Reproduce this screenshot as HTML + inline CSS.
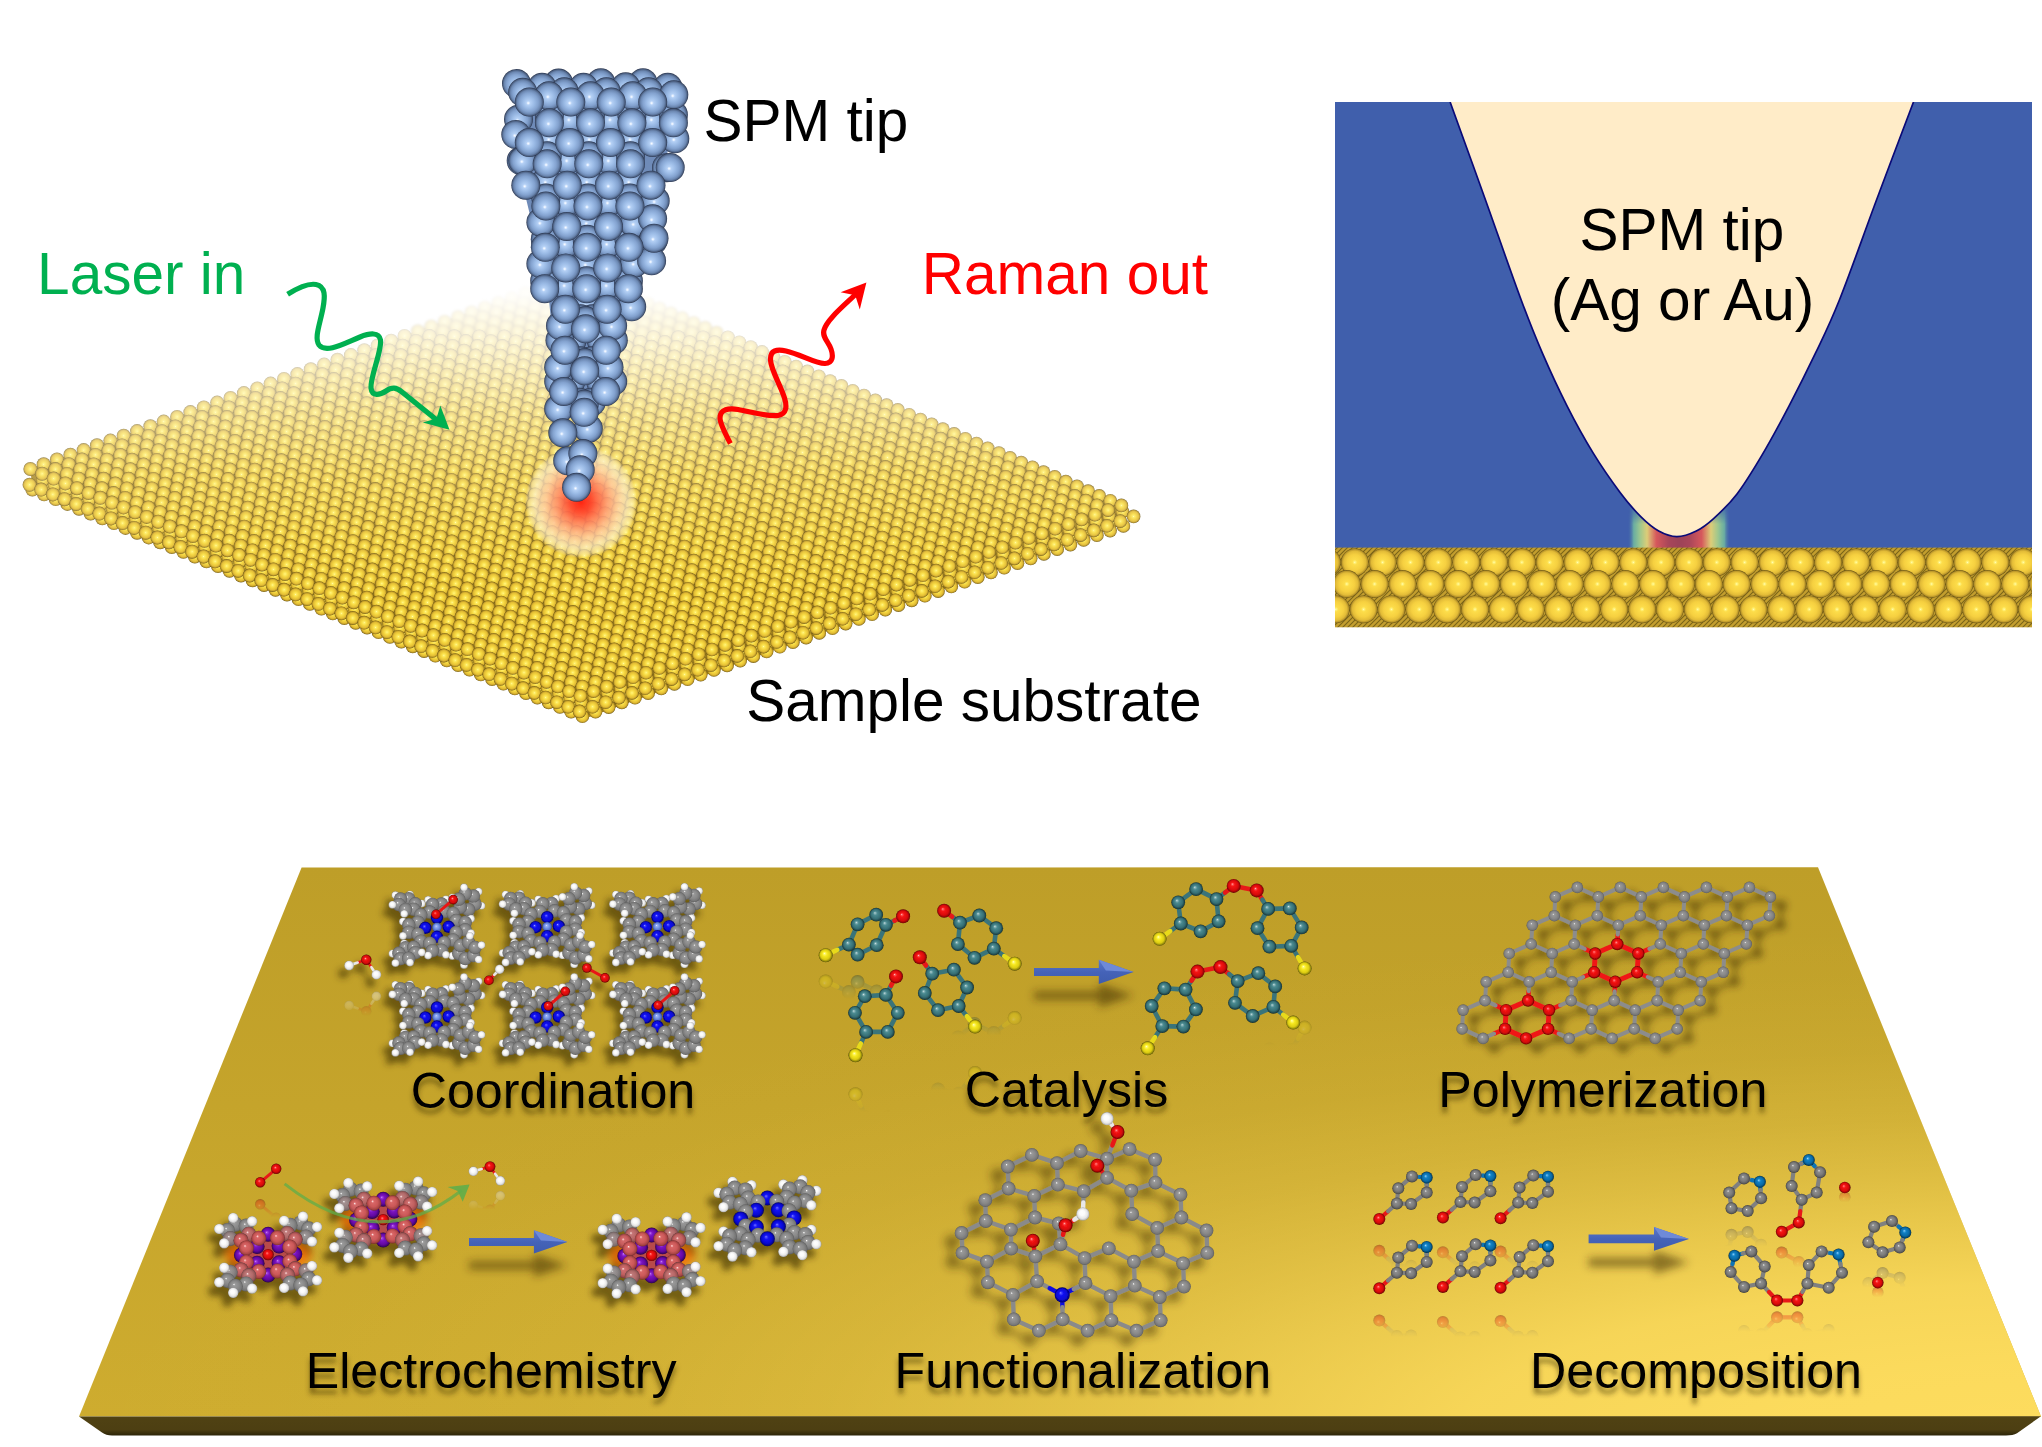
<!DOCTYPE html>
<html><head><meta charset="utf-8"><title>TERS figure</title>
<style>html,body{margin:0;padding:0;background:#fff;overflow:hidden}svg{display:block}</style></head>
<body><svg width="2042" height="1447" viewBox="0 0 2042 1447">
<defs><radialGradient id="gAu" cx="0.5" cy="0.5" r="0.5" fx="0.5" fy="0.5"><stop offset="0" stop-color="#fffdb4"/><stop offset="0.1" stop-color="#ffee68"/><stop offset="0.4" stop-color="#f6d840"/><stop offset="0.72" stop-color="#e3bd35"/><stop offset="0.88" stop-color="#b99526"/><stop offset="1" stop-color="#6a5512"/></radialGradient><radialGradient id="gTip" cx="0.5" cy="0.5" r="0.5" fx="0.46" fy="0.54"><stop offset="0" stop-color="#ffffff"/><stop offset="0.05" stop-color="#e6f0ff"/><stop offset="0.14" stop-color="#b4d0f5"/><stop offset="0.4" stop-color="#9abae5"/><stop offset="0.65" stop-color="#83a2cf"/><stop offset="0.82" stop-color="#6c88b2"/><stop offset="0.93" stop-color="#4c6082"/><stop offset="1" stop-color="#27324a"/></radialGradient><linearGradient id="fog" x1="0" y1="0" x2="0" y2="1"><stop offset="0" stop-color="#fff" stop-opacity="1"/><stop offset="0.1" stop-color="#fff" stop-opacity="0.97"/><stop offset="0.25" stop-color="#fff" stop-opacity="0.75"/><stop offset="0.45" stop-color="#fff" stop-opacity="0.43"/><stop offset="0.65" stop-color="#fff" stop-opacity="0.18"/><stop offset="0.85" stop-color="#fff" stop-opacity="0.05"/><stop offset="1" stop-color="#fff" stop-opacity="0"/></linearGradient><filter id="dof2" x="-5%" y="-20%" width="110%" height="140%"><feGaussianBlur stdDeviation="1.1"/></filter><filter id="dof1" x="-5%" y="-20%" width="110%" height="140%"><feGaussianBlur stdDeviation="0.55"/></filter><radialGradient id="hot" cx="0.5" cy="0.5" r="0.5"><stop offset="0" stop-color="#ff2410" stop-opacity="1"/><stop offset="0.2" stop-color="#ff4a30" stop-opacity="0.95"/><stop offset="0.42" stop-color="#ff8a68" stop-opacity="0.87"/><stop offset="0.63" stop-color="#ffc6a0" stop-opacity="0.8"/><stop offset="0.82" stop-color="#fbeccc" stop-opacity="0.7"/><stop offset="0.93" stop-color="#fdf3d8" stop-opacity="0.42"/><stop offset="1" stop-color="#fff" stop-opacity="0"/></radialGradient><radialGradient id="gAuB" cx="0.5" cy="0.5" r="0.5" fx="0.5" fy="0.5"><stop offset="0" stop-color="#ffffd0"/><stop offset="0.05" stop-color="#fff482"/><stop offset="0.18" stop-color="#fddd4a"/><stop offset="0.55" stop-color="#f6d040"/><stop offset="0.8" stop-color="#e2bb37"/><stop offset="0.92" stop-color="#b9952a"/><stop offset="1" stop-color="#6a5514"/></radialGradient><linearGradient id="hs" x1="0" y1="0" x2="1" y2="0"><stop offset="0" stop-color="#405fac" stop-opacity="0"/><stop offset="0.06" stop-color="#6fb6a0" stop-opacity="0.9"/><stop offset="0.12" stop-color="#9cc78e" stop-opacity="1"/><stop offset="0.19" stop-color="#dccd78" stop-opacity="1"/><stop offset="0.28" stop-color="#d6585c" stop-opacity="1"/><stop offset="0.4" stop-color="#a8465a" stop-opacity="1"/><stop offset="0.5" stop-color="#9c4358" stop-opacity="1"/><stop offset="0.6" stop-color="#a8465a" stop-opacity="1"/><stop offset="0.72" stop-color="#d6585c" stop-opacity="1"/><stop offset="0.81" stop-color="#dccd78" stop-opacity="1"/><stop offset="0.88" stop-color="#9cc78e" stop-opacity="1"/><stop offset="0.94" stop-color="#6fb6a0" stop-opacity="0.9"/><stop offset="1" stop-color="#405fac" stop-opacity="0"/></linearGradient><linearGradient id="hsm" x1="0" y1="0" x2="0" y2="1"><stop offset="0" stop-color="#fff" stop-opacity="0"/><stop offset="0.45" stop-color="#fff" stop-opacity="1"/><stop offset="1" stop-color="#fff"/></linearGradient><mask id="hsmask"><rect x="1620" y="503" width="120" height="47" fill="url(#hsm)"/></mask><clipPath id="trclip"><rect x="1335" y="102" width="697" height="525.5"/></clipPath><pattern id="auhatch" width="5" height="5" patternUnits="userSpaceOnUse"><rect width="5" height="5" fill="#c39e2e"/><path d="M0 5 L5 0 M-1 1 L1 -1 M4 6 L6 4" stroke="#7a6418" stroke-width="1.1"/></pattern><radialGradient id="gC" cx="0.5" cy="0.5" r="0.5" fx="0.4" fy="0.36"><stop offset="0" stop-color="#ffffff"/><stop offset="0.06" stop-color="#dcdcdc"/><stop offset="0.16" stop-color="#9a9a9a"/><stop offset="0.6" stop-color="#888888"/><stop offset="0.86" stop-color="#767676"/><stop offset="1" stop-color="#5c5c5c"/></radialGradient><radialGradient id="gD" cx="0.5" cy="0.5" r="0.5" fx="0.4" fy="0.36"><stop offset="0" stop-color="#ffffff"/><stop offset="0.07" stop-color="#c8c8c8"/><stop offset="0.2" stop-color="#8e8e8e"/><stop offset="0.6" stop-color="#7a7a7a"/><stop offset="0.86" stop-color="#5e5e5e"/><stop offset="1" stop-color="#3e3e3e"/></radialGradient><radialGradient id="gH" cx="0.5" cy="0.5" r="0.5" fx="0.4" fy="0.36"><stop offset="0" stop-color="#ffffff"/><stop offset="0.4" stop-color="#fbfbfb"/><stop offset="0.75" stop-color="#e6e6e6"/><stop offset="0.93" stop-color="#bcbcbc"/><stop offset="1" stop-color="#9a9a9a"/></radialGradient><radialGradient id="gN" cx="0.5" cy="0.5" r="0.5" fx="0.4" fy="0.36"><stop offset="0" stop-color="#b0b0ff"/><stop offset="0.1" stop-color="#4848ff"/><stop offset="0.3" stop-color="#1212f2"/><stop offset="0.7" stop-color="#0808d2"/><stop offset="0.92" stop-color="#04048a"/><stop offset="1" stop-color="#020250"/></radialGradient><radialGradient id="gM" cx="0.5" cy="0.5" r="0.5" fx="0.4" fy="0.36"><stop offset="0" stop-color="#e8eeff"/><stop offset="0.15" stop-color="#9db4f5"/><stop offset="0.5" stop-color="#7090e6"/><stop offset="0.85" stop-color="#4c68c0"/><stop offset="1" stop-color="#2c3f80"/></radialGradient><radialGradient id="gO" cx="0.5" cy="0.5" r="0.5" fx="0.4" fy="0.36"><stop offset="0" stop-color="#ffd0d0"/><stop offset="0.1" stop-color="#ff5a5a"/><stop offset="0.3" stop-color="#f41414"/><stop offset="0.7" stop-color="#d80a0a"/><stop offset="0.92" stop-color="#900505"/><stop offset="1" stop-color="#500202"/></radialGradient><radialGradient id="gTe" cx="0.5" cy="0.5" r="0.5" fx="0.4" fy="0.36"><stop offset="0" stop-color="#e0f0f0"/><stop offset="0.1" stop-color="#8fb8bc"/><stop offset="0.3" stop-color="#4a8a90"/><stop offset="0.7" stop-color="#356e74"/><stop offset="0.92" stop-color="#1e4448"/><stop offset="1" stop-color="#10282a"/></radialGradient><radialGradient id="gS" cx="0.5" cy="0.5" r="0.5" fx="0.4" fy="0.36"><stop offset="0" stop-color="#ffffe0"/><stop offset="0.12" stop-color="#fff870"/><stop offset="0.35" stop-color="#f6e81e"/><stop offset="0.7" stop-color="#dccc12"/><stop offset="0.92" stop-color="#8c820a"/><stop offset="1" stop-color="#504a04"/></radialGradient><radialGradient id="gNb" cx="0.5" cy="0.5" r="0.5" fx="0.4" fy="0.36"><stop offset="0" stop-color="#d0ecff"/><stop offset="0.1" stop-color="#58b0e8"/><stop offset="0.3" stop-color="#1080c4"/><stop offset="0.7" stop-color="#0a6aa6"/><stop offset="0.92" stop-color="#064468"/><stop offset="1" stop-color="#03263c"/></radialGradient><radialGradient id="gP" cx="0.5" cy="0.5" r="0.5" fx="0.4" fy="0.36"><stop offset="0" stop-color="#e0b0ff"/><stop offset="0.1" stop-color="#a040e0"/><stop offset="0.3" stop-color="#7a14c0"/><stop offset="0.7" stop-color="#6208a0"/><stop offset="0.92" stop-color="#3c0468"/><stop offset="1" stop-color="#22023c"/></radialGradient><radialGradient id="gHK" cx="0.5" cy="0.5" r="0.5" fx="0.4" fy="0.36"><stop offset="0" stop-color="#ffffff"/><stop offset="0.4" stop-color="#fdeaea"/><stop offset="0.75" stop-color="#f2c4c4"/><stop offset="0.93" stop-color="#d09090"/><stop offset="1" stop-color="#a86a6a"/></radialGradient><radialGradient id="gRC" cx="0.5" cy="0.5" r="0.5" fx="0.4" fy="0.36"><stop offset="0" stop-color="#ffffff"/><stop offset="0.07" stop-color="#f4b0b0"/><stop offset="0.2" stop-color="#d86666"/><stop offset="0.6" stop-color="#cb5858"/><stop offset="0.86" stop-color="#a84444"/><stop offset="1" stop-color="#782e2e"/></radialGradient><linearGradient id="slabV" x1="0" y1="0" x2="0" y2="1"><stop offset="0" stop-color="#be9e28"/><stop offset="1" stop-color="#ceac2f"/></linearGradient><radialGradient id="slabR" gradientUnits="userSpaceOnUse" cx="0" cy="0" r="1" gradientTransform="translate(2060 1440) scale(2000 520)"><stop offset="0" stop-color="#ffde60" stop-opacity="0.97"/><stop offset="0.15" stop-color="#ffde60" stop-opacity="0.93"/><stop offset="0.3" stop-color="#ffde60" stop-opacity="0.83"/><stop offset="0.42" stop-color="#ffde60" stop-opacity="0.6"/><stop offset="0.52" stop-color="#ffde60" stop-opacity="0.4"/><stop offset="0.62" stop-color="#ffde60" stop-opacity="0.23"/><stop offset="0.75" stop-color="#ffde60" stop-opacity="0.09"/><stop offset="0.9" stop-color="#ffde60" stop-opacity="0.02"/><stop offset="1" stop-color="#ffde60" stop-opacity="0"/></radialGradient><linearGradient id="slabF" x1="0" y1="0" x2="0" y2="1"><stop offset="0" stop-color="#504213"/><stop offset="0.7" stop-color="#4d3f12"/><stop offset="1" stop-color="#2c2408"/></linearGradient><filter id="shL" x="-30%" y="-30%" width="160%" height="170%"><feGaussianBlur in="SourceAlpha" stdDeviation="3.2" result="b"/><feOffset in="b" dx="-6" dy="8" result="o"/><feFlood flood-color="#3a2c00" flood-opacity="0.62"/><feComposite in2="o" operator="in" result="s"/><feMerge><feMergeNode in="s"/><feMergeNode in="SourceGraphic"/></feMerge></filter><filter id="shR" x="-30%" y="-30%" width="160%" height="170%"><feGaussianBlur in="SourceAlpha" stdDeviation="3.5" result="b"/><feOffset in="b" dx="11" dy="9" result="o"/><feFlood flood-color="#3a2c00" flood-opacity="0.5"/><feComposite in2="o" operator="in" result="s"/><feMerge><feMergeNode in="s"/><feMergeNode in="SourceGraphic"/></feMerge></filter><filter id="shG" x="-30%" y="-30%" width="160%" height="170%"><feGaussianBlur in="SourceAlpha" stdDeviation="4" result="b"/><feOffset in="b" dx="-10" dy="9" result="o"/><feFlood flood-color="#3a2c00" flood-opacity="0.5"/><feComposite in2="o" operator="in" result="s"/><feMerge><feMergeNode in="s"/><feMergeNode in="SourceGraphic"/></feMerge></filter><filter id="shT" x="-30%" y="-30%" width="160%" height="170%"><feGaussianBlur in="SourceAlpha" stdDeviation="2.8" result="b"/><feOffset in="b" dx="0" dy="6" result="o"/><feFlood flood-color="#3a2c00" flood-opacity="0.55"/><feComposite in2="o" operator="in" result="s"/><feMerge><feMergeNode in="s"/><feMergeNode in="SourceGraphic"/></feMerge></filter><filter id="blur4" x="-20%" y="-100%" width="140%" height="300%"><feGaussianBlur stdDeviation="4.5"/></filter><filter id="blur6" x="-30%" y="-30%" width="160%" height="160%"><feGaussianBlur stdDeviation="5"/></filter><linearGradient id="arrG" x1="0" y1="0" x2="0" y2="1"><stop offset="0" stop-color="#5b78cc"/><stop offset="0.5" stop-color="#4563b8"/><stop offset="1" stop-color="#3f5cae"/></linearGradient></defs>
<polygon points="29.4,469 580.4,698.8 1122.4,505.4 579,273" fill="#a8861f"/><polygon points="30.4,469 32.4,490 581.4,719.8 1123.4,524.4 1121.4,505.4 580.4,695.8" fill="#a8861f"/><g fill="url(#gAu)"><circle cx="45.7" cy="484.8" r="7"/><circle cx="32.4" cy="489.5" r="7"/><circle cx="57.4" cy="489.6" r="7"/><circle cx="44.1" cy="494.3" r="7"/><circle cx="69" cy="494.4" r="7"/><circle cx="55.7" cy="499.1" r="7"/><circle cx="80.7" cy="499.2" r="7"/><circle cx="67.4" cy="503.9" r="7"/><circle cx="92.3" cy="504" r="7"/><circle cx="79" cy="508.7" r="7"/><circle cx="103.9" cy="508.8" r="7"/><circle cx="90.6" cy="513.5" r="7"/><circle cx="115.6" cy="513.6" r="7"/><circle cx="102.3" cy="518.3" r="7"/><circle cx="127.2" cy="518.4" r="7"/><circle cx="1112.3" cy="521.2" r="6.8"/><circle cx="113.9" cy="523.1" r="7"/><circle cx="138.8" cy="523.2" r="7"/><circle cx="1099" cy="525.8" r="6.8"/><circle cx="1123.4" cy="525.9" r="6.8"/><circle cx="125.5" cy="527.9" r="7"/><circle cx="150.4" cy="528" r="7"/><circle cx="1085.8" cy="530.5" r="6.8"/><circle cx="1110.1" cy="530.6" r="6.8"/><circle cx="137.1" cy="532.7" r="7"/><circle cx="161.9" cy="532.7" r="7"/><circle cx="1072.5" cy="535.2" r="6.8"/><circle cx="1096.9" cy="535.2" r="6.8"/><circle cx="148.7" cy="537.4" r="7"/><circle cx="173.5" cy="537.5" r="7"/><circle cx="1059.3" cy="539.8" r="6.8"/><circle cx="1083.6" cy="539.9" r="6.8"/><circle cx="160.2" cy="542.2" r="7"/><circle cx="185.1" cy="542.3" r="7"/><circle cx="1046" cy="544.5" r="6.8"/><circle cx="1070.4" cy="544.6" r="6.8"/><circle cx="171.8" cy="547" r="7"/><circle cx="196.6" cy="547.1" r="7"/><circle cx="1032.8" cy="549.1" r="6.8"/><circle cx="1057.2" cy="549.2" r="6.8"/><circle cx="183.4" cy="551.8" r="7"/><circle cx="208.2" cy="551.8" r="7"/><circle cx="1019.6" cy="553.8" r="6.8"/><circle cx="1043.9" cy="553.9" r="6.8"/><circle cx="194.9" cy="556.5" r="7"/><circle cx="219.7" cy="556.6" r="7"/><circle cx="1006.3" cy="558.5" r="6.8"/><circle cx="1030.7" cy="558.5" r="6.8"/><circle cx="206.5" cy="561.3" r="7"/><circle cx="231.3" cy="561.3" r="7"/><circle cx="993.1" cy="563.1" r="6.8"/><circle cx="1017.5" cy="563.2" r="6.8"/><circle cx="218" cy="566" r="7"/><circle cx="242.8" cy="566.1" r="6.9"/><circle cx="979.9" cy="567.8" r="6.8"/><circle cx="1004.2" cy="567.8" r="6.8"/><circle cx="229.5" cy="570.8" r="6.9"/><circle cx="254.3" cy="570.8" r="6.9"/><circle cx="966.6" cy="572.4" r="6.8"/><circle cx="991" cy="572.5" r="6.8"/><circle cx="241" cy="575.5" r="6.9"/><circle cx="265.8" cy="575.6" r="6.9"/><circle cx="953.4" cy="577.1" r="6.8"/><circle cx="977.8" cy="577.2" r="6.8"/><circle cx="252.5" cy="580.3" r="6.9"/><circle cx="277.3" cy="580.3" r="6.9"/><circle cx="940.2" cy="581.8" r="6.8"/><circle cx="964.6" cy="581.8" r="6.8"/><circle cx="264" cy="585" r="6.9"/><circle cx="288.8" cy="585.1" r="6.9"/><circle cx="927" cy="586.4" r="6.8"/><circle cx="951.3" cy="586.5" r="6.8"/><circle cx="275.5" cy="589.8" r="6.9"/><circle cx="300.2" cy="589.8" r="6.9"/><circle cx="913.8" cy="591.1" r="6.8"/><circle cx="938.1" cy="591.1" r="6.8"/><circle cx="287" cy="594.5" r="6.9"/><circle cx="311.7" cy="594.5" r="6.9"/><circle cx="900.5" cy="595.7" r="6.8"/><circle cx="924.9" cy="595.8" r="6.8"/><circle cx="298.5" cy="599.2" r="6.9"/><circle cx="323.2" cy="599.3" r="6.9"/><circle cx="887.3" cy="600.4" r="6.8"/><circle cx="911.7" cy="600.4" r="6.8"/><circle cx="309.9" cy="603.9" r="6.9"/><circle cx="334.6" cy="604" r="6.9"/><circle cx="874.1" cy="605" r="6.8"/><circle cx="898.5" cy="605.1" r="6.8"/><circle cx="321.4" cy="608.7" r="6.9"/><circle cx="346.1" cy="608.7" r="6.9"/><circle cx="860.9" cy="609.7" r="6.8"/><circle cx="885.3" cy="609.7" r="6.8"/><circle cx="332.8" cy="613.4" r="6.9"/><circle cx="357.5" cy="613.4" r="6.9"/><circle cx="847.7" cy="614.3" r="6.8"/><circle cx="872.1" cy="614.3" r="6.8"/><circle cx="344.3" cy="618.1" r="6.9"/><circle cx="368.9" cy="618.1" r="6.9"/><circle cx="834.5" cy="618.9" r="6.8"/><circle cx="858.9" cy="619" r="6.8"/><circle cx="355.7" cy="622.8" r="6.9"/><circle cx="380.3" cy="622.9" r="6.9"/><circle cx="821.3" cy="623.6" r="6.8"/><circle cx="845.7" cy="623.6" r="6.8"/><circle cx="367.1" cy="627.5" r="6.9"/><circle cx="391.7" cy="627.6" r="6.9"/><circle cx="808.1" cy="628.2" r="6.8"/><circle cx="832.5" cy="628.3" r="6.8"/><circle cx="378.5" cy="632.2" r="6.9"/><circle cx="403.1" cy="632.3" r="6.9"/><circle cx="794.9" cy="632.9" r="6.8"/><circle cx="819.3" cy="632.9" r="6.8"/><circle cx="389.9" cy="636.9" r="6.9"/><circle cx="414.5" cy="637" r="6.9"/><circle cx="781.8" cy="637.5" r="6.8"/><circle cx="806.1" cy="637.6" r="6.8"/><circle cx="401.3" cy="641.6" r="6.9"/><circle cx="425.9" cy="641.7" r="6.9"/><circle cx="768.6" cy="642.2" r="6.8"/><circle cx="792.9" cy="642.2" r="6.8"/><circle cx="412.7" cy="646.3" r="6.9"/><circle cx="437.3" cy="646.4" r="6.9"/><circle cx="755.4" cy="646.8" r="6.8"/><circle cx="779.8" cy="646.8" r="6.8"/><circle cx="424.1" cy="651" r="6.9"/><circle cx="448.6" cy="651" r="6.9"/><circle cx="742.2" cy="651.4" r="6.8"/><circle cx="766.6" cy="651.5" r="6.8"/><circle cx="435.4" cy="655.7" r="6.9"/><circle cx="460" cy="655.7" r="6.9"/><circle cx="729" cy="656.1" r="6.8"/><circle cx="753.4" cy="656.1" r="6.8"/><circle cx="446.8" cy="660.4" r="6.9"/><circle cx="471.3" cy="660.4" r="6.9"/><circle cx="715.9" cy="660.7" r="6.8"/><circle cx="740.2" cy="660.7" r="6.8"/><circle cx="458.1" cy="665.1" r="6.9"/><circle cx="482.7" cy="665.1" r="6.9"/><circle cx="702.7" cy="665.4" r="6.8"/><circle cx="727.1" cy="665.4" r="6.8"/><circle cx="469.5" cy="669.7" r="6.9"/><circle cx="494" cy="669.8" r="6.9"/><circle cx="689.5" cy="670" r="6.8"/><circle cx="713.9" cy="670" r="6.8"/><circle cx="480.8" cy="674.4" r="6.9"/><circle cx="505.3" cy="674.4" r="6.9"/><circle cx="676.4" cy="674.6" r="6.8"/><circle cx="700.7" cy="674.7" r="6.8"/><circle cx="492.1" cy="679.1" r="6.9"/><circle cx="516.6" cy="679.1" r="6.9"/><circle cx="663.2" cy="679.3" r="6.8"/><circle cx="687.6" cy="679.3" r="6.8"/><circle cx="503.4" cy="683.7" r="6.9"/><circle cx="527.9" cy="683.8" r="6.9"/><circle cx="650" cy="683.9" r="6.8"/><circle cx="674.4" cy="683.9" r="6.8"/><circle cx="514.8" cy="688.4" r="6.9"/><circle cx="539.2" cy="688.4" r="6.9"/><circle cx="636.9" cy="688.5" r="6.8"/><circle cx="661.3" cy="688.5" r="6.8"/><circle cx="526" cy="693.1" r="6.9"/><circle cx="550.5" cy="693.1" r="6.9"/><circle cx="623.7" cy="693.1" r="6.8"/><circle cx="648.1" cy="693.2" r="6.8"/><circle cx="537.3" cy="697.7" r="6.8"/><circle cx="561.8" cy="697.7" r="6.8"/><circle cx="610.6" cy="697.8" r="6.8"/><circle cx="635" cy="697.8" r="6.8"/><circle cx="548.6" cy="702.4" r="6.8"/><circle cx="573" cy="702.4" r="6.8"/><circle cx="597.4" cy="702.4" r="6.8"/><circle cx="621.8" cy="702.4" r="6.8"/><circle cx="559.9" cy="707" r="6.8"/><circle cx="584.3" cy="707" r="6.8"/><circle cx="608.7" cy="707.1" r="6.8"/><circle cx="571.1" cy="711.7" r="6.8"/><circle cx="595.5" cy="711.7" r="6.8"/><circle cx="582.4" cy="716.3" r="6.8"/><circle cx="42.9" cy="480" r="7"/><circle cx="29.6" cy="484.8" r="7"/><circle cx="54.6" cy="484.8" r="7"/><circle cx="41.2" cy="489.6" r="7"/><circle cx="66.2" cy="489.7" r="7"/><circle cx="52.9" cy="494.4" r="7"/><circle cx="77.8" cy="494.5" r="7"/><circle cx="64.5" cy="499.2" r="7"/><circle cx="89.5" cy="499.3" r="7"/><circle cx="76.2" cy="504" r="7"/><circle cx="101.1" cy="504.1" r="7"/><circle cx="87.8" cy="508.8" r="7"/><circle cx="112.7" cy="508.8" r="7"/><circle cx="1122.5" cy="511.7" r="6.8"/><circle cx="99.4" cy="513.6" r="7"/><circle cx="124.3" cy="513.6" r="7"/><circle cx="1109.2" cy="516.4" r="6.8"/><circle cx="1133.6" cy="516.4" r="6.8"/><circle cx="111" cy="518.4" r="7"/><circle cx="135.9" cy="518.4" r="7"/><circle cx="1096" cy="521" r="6.8"/><circle cx="1120.3" cy="521.1" r="6.8"/><circle cx="122.6" cy="523.1" r="7"/><circle cx="147.5" cy="523.2" r="7"/><circle cx="1082.7" cy="525.7" r="6.8"/><circle cx="1107.1" cy="525.8" r="6.8"/><circle cx="134.2" cy="527.9" r="7"/><circle cx="159.1" cy="528" r="7"/><circle cx="1069.5" cy="530.4" r="6.8"/><circle cx="1093.8" cy="530.4" r="6.8"/><circle cx="145.8" cy="532.7" r="7"/><circle cx="170.7" cy="532.7" r="7"/><circle cx="1056.2" cy="535" r="6.8"/><circle cx="1080.6" cy="535.1" r="6.8"/><circle cx="157.4" cy="537.5" r="7"/><circle cx="182.2" cy="537.5" r="7"/><circle cx="1043" cy="539.7" r="6.8"/><circle cx="1067.3" cy="539.7" r="6.8"/><circle cx="169" cy="542.2" r="7"/><circle cx="193.8" cy="542.3" r="7"/><circle cx="1029.7" cy="544.3" r="6.8"/><circle cx="1054.1" cy="544.4" r="6.8"/><circle cx="180.5" cy="547" r="7"/><circle cx="205.3" cy="547" r="7"/><circle cx="1016.5" cy="549" r="6.8"/><circle cx="1040.9" cy="549.1" r="6.8"/><circle cx="192.1" cy="551.7" r="7"/><circle cx="216.9" cy="551.8" r="7"/><circle cx="1003.3" cy="553.7" r="6.8"/><circle cx="1027.6" cy="553.7" r="6.8"/><circle cx="203.6" cy="556.5" r="7"/><circle cx="228.4" cy="556.6" r="7"/><circle cx="990" cy="558.3" r="6.8"/><circle cx="1014.4" cy="558.4" r="6.8"/><circle cx="215.1" cy="561.3" r="7"/><circle cx="239.9" cy="561.3" r="6.9"/><circle cx="976.8" cy="563" r="6.8"/><circle cx="1001.2" cy="563" r="6.8"/><circle cx="226.7" cy="566" r="6.9"/><circle cx="251.4" cy="566.1" r="6.9"/><circle cx="963.6" cy="567.6" r="6.8"/><circle cx="988" cy="567.7" r="6.8"/><circle cx="238.2" cy="570.8" r="6.9"/><circle cx="262.9" cy="570.8" r="6.9"/><circle cx="950.4" cy="572.3" r="6.8"/><circle cx="974.7" cy="572.3" r="6.8"/><circle cx="249.7" cy="575.5" r="6.9"/><circle cx="274.4" cy="575.5" r="6.9"/><circle cx="937.2" cy="576.9" r="6.8"/><circle cx="961.5" cy="577" r="6.8"/><circle cx="261.2" cy="580.2" r="6.9"/><circle cx="285.9" cy="580.3" r="6.9"/><circle cx="923.9" cy="581.6" r="6.8"/><circle cx="948.3" cy="581.6" r="6.8"/><circle cx="272.6" cy="585" r="6.9"/><circle cx="297.4" cy="585" r="6.9"/><circle cx="910.7" cy="586.2" r="6.8"/><circle cx="935.1" cy="586.3" r="6.8"/><circle cx="284.1" cy="589.7" r="6.9"/><circle cx="308.8" cy="589.7" r="6.9"/><circle cx="897.5" cy="590.9" r="6.8"/><circle cx="921.9" cy="590.9" r="6.8"/><circle cx="295.6" cy="594.4" r="6.9"/><circle cx="320.3" cy="594.5" r="6.9"/><circle cx="884.3" cy="595.5" r="6.8"/><circle cx="908.7" cy="595.6" r="6.8"/><circle cx="307.1" cy="599.1" r="6.9"/><circle cx="331.7" cy="599.2" r="6.9"/><circle cx="871.1" cy="600.2" r="6.8"/><circle cx="895.5" cy="600.2" r="6.8"/><circle cx="318.5" cy="603.9" r="6.9"/><circle cx="343.2" cy="603.9" r="6.9"/><circle cx="857.9" cy="604.8" r="6.8"/><circle cx="882.3" cy="604.9" r="6.8"/><circle cx="329.9" cy="608.6" r="6.9"/><circle cx="354.6" cy="608.6" r="6.9"/><circle cx="844.7" cy="609.5" r="6.8"/><circle cx="869.1" cy="609.5" r="6.8"/><circle cx="341.4" cy="613.3" r="6.9"/><circle cx="366" cy="613.3" r="6.9"/><circle cx="831.5" cy="614.1" r="6.8"/><circle cx="855.9" cy="614.2" r="6.8"/><circle cx="352.8" cy="618" r="6.9"/><circle cx="377.4" cy="618" r="6.9"/><circle cx="818.3" cy="618.8" r="6.8"/><circle cx="842.7" cy="618.8" r="6.8"/><circle cx="364.2" cy="622.7" r="6.9"/><circle cx="388.8" cy="622.7" r="6.9"/><circle cx="805.1" cy="623.4" r="6.8"/><circle cx="829.5" cy="623.4" r="6.8"/><circle cx="375.6" cy="627.4" r="6.9"/><circle cx="400.2" cy="627.4" r="6.9"/><circle cx="791.9" cy="628" r="6.8"/><circle cx="816.3" cy="628.1" r="6.8"/><circle cx="387" cy="632.1" r="6.9"/><circle cx="411.6" cy="632.1" r="6.9"/><circle cx="778.8" cy="632.7" r="6.8"/><circle cx="803.1" cy="632.7" r="6.8"/><circle cx="398.4" cy="636.8" r="6.9"/><circle cx="423" cy="636.8" r="6.9"/><circle cx="765.6" cy="637.3" r="6.8"/><circle cx="789.9" cy="637.4" r="6.8"/><circle cx="409.8" cy="641.5" r="6.9"/><circle cx="434.3" cy="641.5" r="6.9"/><circle cx="752.4" cy="642" r="6.8"/><circle cx="776.8" cy="642" r="6.8"/><circle cx="421.2" cy="646.2" r="6.9"/><circle cx="445.7" cy="646.2" r="6.9"/><circle cx="739.2" cy="646.6" r="6.8"/><circle cx="763.6" cy="646.6" r="6.8"/><circle cx="432.5" cy="650.9" r="6.9"/><circle cx="457.1" cy="650.9" r="6.9"/><circle cx="726.1" cy="651.2" r="6.8"/><circle cx="750.4" cy="651.3" r="6.8"/><circle cx="443.9" cy="655.5" r="6.9"/><circle cx="468.4" cy="655.6" r="6.9"/><circle cx="712.9" cy="655.9" r="6.8"/><circle cx="737.3" cy="655.9" r="6.8"/><circle cx="455.2" cy="660.2" r="6.9"/><circle cx="479.7" cy="660.3" r="6.9"/><circle cx="699.7" cy="660.5" r="6.8"/><circle cx="724.1" cy="660.5" r="6.8"/><circle cx="466.6" cy="664.9" r="6.9"/><circle cx="491.1" cy="664.9" r="6.9"/><circle cx="686.6" cy="665.1" r="6.8"/><circle cx="710.9" cy="665.2" r="6.8"/><circle cx="477.9" cy="669.6" r="6.9"/><circle cx="502.4" cy="669.6" r="6.9"/><circle cx="673.4" cy="669.8" r="6.8"/><circle cx="697.8" cy="669.8" r="6.8"/><circle cx="489.2" cy="674.2" r="6.9"/><circle cx="513.7" cy="674.3" r="6.9"/><circle cx="660.2" cy="674.4" r="6.8"/><circle cx="684.6" cy="674.4" r="6.8"/><circle cx="500.5" cy="678.9" r="6.9"/><circle cx="525" cy="678.9" r="6.9"/><circle cx="647.1" cy="679" r="6.8"/><circle cx="671.5" cy="679.1" r="6.8"/><circle cx="511.8" cy="683.6" r="6.9"/><circle cx="536.3" cy="683.6" r="6.9"/><circle cx="633.9" cy="683.7" r="6.8"/><circle cx="658.3" cy="683.7" r="6.8"/><circle cx="523.1" cy="688.2" r="6.9"/><circle cx="547.6" cy="688.2" r="6.8"/><circle cx="620.8" cy="688.3" r="6.8"/><circle cx="645.2" cy="688.3" r="6.8"/><circle cx="534.4" cy="692.9" r="6.8"/><circle cx="558.8" cy="692.9" r="6.8"/><circle cx="607.6" cy="692.9" r="6.8"/><circle cx="632" cy="692.9" r="6.8"/><circle cx="545.7" cy="697.5" r="6.8"/><circle cx="570.1" cy="697.5" r="6.8"/><circle cx="594.5" cy="697.5" r="6.8"/><circle cx="618.9" cy="697.6" r="6.8"/><circle cx="556.9" cy="702.2" r="6.8"/><circle cx="581.3" cy="702.2" r="6.8"/><circle cx="605.7" cy="702.2" r="6.8"/><circle cx="568.2" cy="706.8" r="6.8"/><circle cx="592.6" cy="706.8" r="6.8"/><circle cx="579.5" cy="711.4" r="6.8"/><g filter="url(#dof2)"><circle cx="579" cy="274" r="7"/><circle cx="565.6" cy="278.8" r="7"/><circle cx="590.5" cy="278.9" r="7"/><circle cx="552.1" cy="283.6" r="7"/><circle cx="577.1" cy="283.7" r="7"/><circle cx="602" cy="283.8" r="7"/><circle cx="538.7" cy="288.3" r="7"/><circle cx="563.6" cy="288.5" r="7"/><circle cx="588.6" cy="288.6" r="7"/><circle cx="613.5" cy="288.7" r="7"/><circle cx="525.3" cy="293.1" r="7"/><circle cx="550.2" cy="293.2" r="7"/><circle cx="575.1" cy="293.4" r="7"/><circle cx="600.1" cy="293.5" r="7"/><circle cx="625" cy="293.6" r="7"/><circle cx="511.8" cy="297.9" r="7"/><circle cx="536.8" cy="298" r="7"/><circle cx="561.7" cy="298.1" r="7"/><circle cx="586.6" cy="298.3" r="7"/><circle cx="611.5" cy="298.4" r="7"/><circle cx="636.4" cy="298.5" r="7"/><circle cx="498.4" cy="302.6" r="7"/><circle cx="523.4" cy="302.8" r="7"/><circle cx="548.3" cy="302.9" r="7"/><circle cx="573.2" cy="303" r="7"/><circle cx="598.1" cy="303.1" r="7"/><circle cx="623" cy="303.3" r="7"/><circle cx="647.9" cy="303.4" r="7"/><circle cx="485" cy="307.4" r="7"/><circle cx="509.9" cy="307.5" r="7"/><circle cx="534.9" cy="307.7" r="7"/><circle cx="559.8" cy="307.8" r="7"/><circle cx="584.7" cy="307.9" r="7"/><circle cx="609.6" cy="308" r="7"/><circle cx="634.5" cy="308.2" r="7"/><circle cx="659.4" cy="308.3" r="7"/><circle cx="471.6" cy="312.2" r="7"/><circle cx="496.5" cy="312.3" r="7"/><circle cx="521.5" cy="312.4" r="7"/><circle cx="546.4" cy="312.6" r="7"/><circle cx="571.3" cy="312.7" r="7"/><circle cx="596.2" cy="312.8" r="7"/><circle cx="621.1" cy="312.9" r="7"/><circle cx="645.9" cy="313" r="7"/><circle cx="670.8" cy="313.2" r="7"/><circle cx="458.1" cy="317" r="7"/><circle cx="483.1" cy="317.1" r="7"/><circle cx="508" cy="317.2" r="7"/><circle cx="533" cy="317.3" r="7"/><circle cx="557.9" cy="317.4" r="7"/><circle cx="582.8" cy="317.6" r="7"/><circle cx="607.7" cy="317.7" r="7"/><circle cx="632.5" cy="317.8" r="7"/><circle cx="657.4" cy="317.9" r="7"/><circle cx="682.2" cy="318" r="7"/><circle cx="444.7" cy="321.7" r="7"/><circle cx="469.7" cy="321.8" r="7"/><circle cx="494.6" cy="322" r="7"/><circle cx="519.6" cy="322.1" r="7"/><circle cx="544.5" cy="322.2" r="7"/><circle cx="569.4" cy="322.3" r="7"/><circle cx="594.3" cy="322.4" r="7"/><circle cx="619.1" cy="322.6" r="7"/><circle cx="644" cy="322.7" r="7"/><circle cx="668.8" cy="322.8" r="7"/><circle cx="693.7" cy="322.9" r="7"/><circle cx="431.3" cy="326.5" r="7"/><circle cx="456.3" cy="326.6" r="7"/><circle cx="481.2" cy="326.7" r="7"/><circle cx="506.2" cy="326.8" r="7"/><circle cx="531.1" cy="327" r="7"/><circle cx="556" cy="327.1" r="7"/><circle cx="580.9" cy="327.2" r="7"/><circle cx="605.7" cy="327.3" r="7"/><circle cx="630.6" cy="327.4" r="7"/><circle cx="655.4" cy="327.6" r="7"/><circle cx="680.3" cy="327.7" r="7"/><circle cx="705.1" cy="327.8" r="7"/><circle cx="417.9" cy="331.3" r="7"/><circle cx="442.9" cy="331.4" r="7"/><circle cx="467.8" cy="331.5" r="7"/><circle cx="492.7" cy="331.6" r="7"/><circle cx="517.7" cy="331.7" r="7"/><circle cx="542.6" cy="331.8" r="7"/><circle cx="567.5" cy="332" r="7"/><circle cx="592.3" cy="332.1" r="7"/><circle cx="617.2" cy="332.2" r="7"/><circle cx="642" cy="332.3" r="7"/><circle cx="666.9" cy="332.4" r="7"/><circle cx="691.7" cy="332.5" r="7"/><circle cx="716.5" cy="332.7" r="7"/></g><g filter="url(#dof1)"><circle cx="404.5" cy="336" r="7"/><circle cx="429.5" cy="336.1" r="7"/><circle cx="454.4" cy="336.3" r="7"/><circle cx="479.3" cy="336.4" r="7"/><circle cx="504.3" cy="336.5" r="7"/><circle cx="529.2" cy="336.6" r="7"/><circle cx="554.1" cy="336.7" r="7"/><circle cx="578.9" cy="336.8" r="7"/><circle cx="603.8" cy="336.9" r="7"/><circle cx="628.6" cy="337.1" r="7"/><circle cx="653.5" cy="337.2" r="7"/><circle cx="678.3" cy="337.3" r="7"/><circle cx="703.1" cy="337.4" r="7"/><circle cx="727.9" cy="337.5" r="7"/><circle cx="391.1" cy="340.8" r="7"/><circle cx="416.1" cy="340.9" r="7"/><circle cx="441" cy="341" r="7"/><circle cx="465.9" cy="341.1" r="7"/><circle cx="490.9" cy="341.2" r="7"/><circle cx="515.8" cy="341.4" r="7"/><circle cx="540.7" cy="341.5" r="7"/><circle cx="565.5" cy="341.6" r="7"/><circle cx="590.4" cy="341.7" r="7"/><circle cx="615.2" cy="341.8" r="7"/><circle cx="640.1" cy="341.9" r="7"/><circle cx="664.9" cy="342" r="7"/><circle cx="689.7" cy="342.2" r="7"/><circle cx="714.5" cy="342.3" r="7"/><circle cx="739.3" cy="342.4" r="7"/><circle cx="377.7" cy="345.5" r="7"/><circle cx="402.7" cy="345.7" r="7"/><circle cx="427.6" cy="345.8" r="7"/><circle cx="452.6" cy="345.9" r="7"/><circle cx="477.5" cy="346" r="7"/><circle cx="502.4" cy="346.1" r="7"/><circle cx="527.3" cy="346.2" r="7"/><circle cx="552.1" cy="346.3" r="7"/><circle cx="577" cy="346.5" r="7"/><circle cx="601.9" cy="346.6" r="7"/><circle cx="626.7" cy="346.7" r="7"/><circle cx="651.5" cy="346.8" r="7"/><circle cx="676.3" cy="346.9" r="7"/><circle cx="701.1" cy="347" r="7"/><circle cx="725.9" cy="347.1" r="7"/><circle cx="750.7" cy="347.2" r="7"/><circle cx="364.3" cy="350.3" r="7"/><circle cx="389.3" cy="350.4" r="7"/><circle cx="414.2" cy="350.5" r="7"/><circle cx="439.2" cy="350.6" r="7"/><circle cx="464.1" cy="350.8" r="7"/><circle cx="489" cy="350.9" r="7"/><circle cx="513.9" cy="351" r="7"/><circle cx="538.8" cy="351.1" r="7"/><circle cx="563.6" cy="351.2" r="7"/><circle cx="588.5" cy="351.3" r="7"/><circle cx="613.3" cy="351.4" r="7"/><circle cx="638.1" cy="351.5" r="7"/><circle cx="662.9" cy="351.6" r="7"/><circle cx="687.7" cy="351.8" r="7"/><circle cx="712.5" cy="351.9" r="7"/><circle cx="737.3" cy="352" r="7"/><circle cx="762" cy="352.1" r="7"/><circle cx="350.9" cy="355.1" r="7"/><circle cx="375.9" cy="355.2" r="7"/><circle cx="400.8" cy="355.3" r="7"/><circle cx="425.8" cy="355.4" r="7"/><circle cx="450.7" cy="355.5" r="7"/><circle cx="475.6" cy="355.6" r="7"/><circle cx="500.5" cy="355.7" r="7"/><circle cx="525.4" cy="355.8" r="7"/><circle cx="550.2" cy="356" r="7"/><circle cx="575.1" cy="356.1" r="7"/><circle cx="599.9" cy="356.2" r="7"/><circle cx="624.7" cy="356.3" r="7"/><circle cx="649.6" cy="356.4" r="7"/><circle cx="674.4" cy="356.5" r="7"/><circle cx="699.1" cy="356.6" r="7"/><circle cx="723.9" cy="356.7" r="7"/><circle cx="748.7" cy="356.8" r="7"/><circle cx="773.4" cy="356.9" r="7"/><circle cx="337.5" cy="359.8" r="7"/><circle cx="362.5" cy="359.9" r="7"/><circle cx="387.4" cy="360" r="7"/><circle cx="412.4" cy="360.2" r="7"/><circle cx="437.3" cy="360.3" r="7"/><circle cx="462.2" cy="360.4" r="7"/><circle cx="487.1" cy="360.5" r="7"/><circle cx="512" cy="360.6" r="7"/><circle cx="536.9" cy="360.7" r="7"/><circle cx="561.7" cy="360.8" r="7"/><circle cx="586.5" cy="360.9" r="7"/><circle cx="611.4" cy="361" r="7"/><circle cx="636.2" cy="361.1" r="7"/><circle cx="661" cy="361.2" r="7"/><circle cx="685.8" cy="361.4" r="7"/><circle cx="710.5" cy="361.5" r="7"/><circle cx="735.3" cy="361.6" r="7"/><circle cx="760" cy="361.7" r="7"/><circle cx="784.8" cy="361.8" r="6.9"/><circle cx="324.1" cy="364.6" r="7"/><circle cx="349.1" cy="364.7" r="7"/><circle cx="374.1" cy="364.8" r="7"/><circle cx="399" cy="364.9" r="7"/><circle cx="423.9" cy="365" r="7"/><circle cx="448.8" cy="365.1" r="7"/><circle cx="473.7" cy="365.2" r="7"/><circle cx="498.6" cy="365.3" r="7"/><circle cx="523.5" cy="365.4" r="7"/><circle cx="548.3" cy="365.6" r="7"/><circle cx="573.2" cy="365.7" r="7"/><circle cx="598" cy="365.8" r="7"/><circle cx="622.8" cy="365.9" r="7"/><circle cx="647.6" cy="366" r="7"/><circle cx="672.4" cy="366.1" r="7"/><circle cx="697.2" cy="366.2" r="7"/><circle cx="721.9" cy="366.3" r="7"/><circle cx="746.7" cy="366.4" r="7"/><circle cx="771.4" cy="366.5" r="6.9"/><circle cx="796.1" cy="366.6" r="6.9"/><circle cx="310.8" cy="369.3" r="7"/><circle cx="335.7" cy="369.5" r="7"/><circle cx="360.7" cy="369.6" r="7"/><circle cx="385.6" cy="369.7" r="7"/><circle cx="410.5" cy="369.8" r="7"/><circle cx="435.5" cy="369.9" r="7"/><circle cx="460.3" cy="370" r="7"/><circle cx="485.2" cy="370.1" r="7"/><circle cx="510.1" cy="370.2" r="7"/><circle cx="535" cy="370.3" r="7"/><circle cx="559.8" cy="370.4" r="7"/><circle cx="584.6" cy="370.5" r="7"/><circle cx="609.4" cy="370.6" r="7"/><circle cx="634.2" cy="370.7" r="7"/><circle cx="659" cy="370.8" r="7"/><circle cx="683.8" cy="370.9" r="7"/><circle cx="708.5" cy="371" r="7"/><circle cx="733.3" cy="371.1" r="7"/><circle cx="758" cy="371.2" r="6.9"/><circle cx="782.7" cy="371.4" r="6.9"/><circle cx="807.4" cy="371.5" r="6.9"/><circle cx="297.4" cy="374.1" r="7"/><circle cx="322.3" cy="374.2" r="7"/><circle cx="347.3" cy="374.3" r="7"/><circle cx="372.2" cy="374.4" r="7"/><circle cx="397.2" cy="374.5" r="7"/><circle cx="422.1" cy="374.6" r="7"/><circle cx="447" cy="374.7" r="7"/><circle cx="471.9" cy="374.8" r="7"/><circle cx="496.7" cy="374.9" r="7"/><circle cx="521.6" cy="375" r="7"/><circle cx="546.4" cy="375.1" r="7"/><circle cx="571.2" cy="375.3" r="7"/><circle cx="596.1" cy="375.4" r="7"/><circle cx="620.9" cy="375.5" r="7"/><circle cx="645.7" cy="375.6" r="7"/><circle cx="670.4" cy="375.7" r="7"/><circle cx="695.2" cy="375.8" r="7"/><circle cx="719.9" cy="375.9" r="7"/><circle cx="744.7" cy="376" r="6.9"/><circle cx="769.4" cy="376.1" r="6.9"/><circle cx="794.1" cy="376.2" r="6.9"/><circle cx="818.8" cy="376.3" r="6.9"/><circle cx="284" cy="378.9" r="7"/><circle cx="309" cy="379" r="7"/><circle cx="333.9" cy="379.1" r="7"/><circle cx="358.9" cy="379.2" r="7"/><circle cx="383.8" cy="379.3" r="7"/><circle cx="408.7" cy="379.4" r="7"/><circle cx="433.6" cy="379.5" r="7"/><circle cx="458.5" cy="379.6" r="7"/><circle cx="483.4" cy="379.7" r="7"/><circle cx="508.2" cy="379.8" r="7"/><circle cx="533.1" cy="379.9" r="7"/><circle cx="557.9" cy="380" r="7"/><circle cx="582.7" cy="380.1" r="7"/><circle cx="607.5" cy="380.2" r="7"/><circle cx="632.3" cy="380.3" r="7"/><circle cx="657.1" cy="380.4" r="7"/><circle cx="681.8" cy="380.5" r="7"/><circle cx="706.6" cy="380.6" r="7"/><circle cx="731.3" cy="380.7" r="6.9"/><circle cx="756" cy="380.8" r="6.9"/><circle cx="780.7" cy="380.9" r="6.9"/><circle cx="805.4" cy="381" r="6.9"/><circle cx="830.1" cy="381.1" r="6.9"/><circle cx="270.6" cy="383.6" r="7"/><circle cx="295.6" cy="383.7" r="7"/><circle cx="320.6" cy="383.8" r="7"/><circle cx="345.5" cy="383.9" r="7"/><circle cx="370.4" cy="384" r="7"/><circle cx="395.3" cy="384.1" r="7"/><circle cx="420.2" cy="384.2" r="7"/><circle cx="445.1" cy="384.3" r="7"/><circle cx="470" cy="384.4" r="7"/><circle cx="494.8" cy="384.5" r="7"/><circle cx="519.7" cy="384.6" r="7"/><circle cx="544.5" cy="384.7" r="7"/><circle cx="569.3" cy="384.8" r="7"/><circle cx="594.1" cy="384.9" r="7"/><circle cx="618.9" cy="385" r="7"/><circle cx="643.7" cy="385.1" r="7"/><circle cx="668.5" cy="385.2" r="7"/><circle cx="693.2" cy="385.3" r="7"/><circle cx="717.9" cy="385.4" r="6.9"/><circle cx="742.7" cy="385.5" r="6.9"/><circle cx="767.4" cy="385.6" r="6.9"/><circle cx="792.1" cy="385.7" r="6.9"/><circle cx="816.7" cy="385.8" r="6.9"/><circle cx="841.4" cy="385.9" r="6.9"/><circle cx="257.3" cy="388.4" r="7"/><circle cx="282.2" cy="388.5" r="7"/><circle cx="307.2" cy="388.6" r="7"/><circle cx="332.1" cy="388.7" r="7"/><circle cx="357.1" cy="388.8" r="7"/><circle cx="382" cy="388.9" r="7"/><circle cx="406.9" cy="389" r="7"/><circle cx="431.8" cy="389.1" r="7"/><circle cx="456.6" cy="389.2" r="7"/><circle cx="481.5" cy="389.3" r="7"/><circle cx="506.3" cy="389.4" r="7"/><circle cx="531.2" cy="389.5" r="7"/><circle cx="556" cy="389.6" r="7"/><circle cx="580.8" cy="389.7" r="7"/><circle cx="605.6" cy="389.8" r="7"/><circle cx="630.3" cy="389.9" r="7"/><circle cx="655.1" cy="390" r="7"/><circle cx="679.9" cy="390.1" r="7"/><circle cx="704.6" cy="390.2" r="6.9"/><circle cx="729.3" cy="390.3" r="6.9"/><circle cx="754" cy="390.4" r="6.9"/><circle cx="778.7" cy="390.5" r="6.9"/><circle cx="803.4" cy="390.6" r="6.9"/><circle cx="828.1" cy="390.7" r="6.9"/><circle cx="852.7" cy="390.8" r="6.9"/><circle cx="243.9" cy="393.1" r="7"/><circle cx="268.9" cy="393.2" r="7"/><circle cx="293.8" cy="393.3" r="7"/><circle cx="318.8" cy="393.4" r="7"/><circle cx="343.7" cy="393.5" r="7"/><circle cx="368.6" cy="393.6" r="7"/><circle cx="393.5" cy="393.7" r="7"/><circle cx="418.4" cy="393.8" r="7"/><circle cx="443.3" cy="393.9" r="7"/><circle cx="468.1" cy="394" r="7"/><circle cx="493" cy="394.1" r="7"/><circle cx="517.8" cy="394.2" r="7"/><circle cx="542.6" cy="394.3" r="7"/><circle cx="567.4" cy="394.4" r="7"/><circle cx="592.2" cy="394.5" r="7"/><circle cx="617" cy="394.6" r="7"/><circle cx="641.8" cy="394.7" r="7"/><circle cx="666.5" cy="394.8" r="7"/><circle cx="691.2" cy="394.9" r="6.9"/><circle cx="716" cy="395" r="6.9"/></g><g><circle cx="740.7" cy="395.1" r="6.9"/><circle cx="765.4" cy="395.2" r="6.9"/><circle cx="790" cy="395.3" r="6.9"/><circle cx="814.7" cy="395.4" r="6.9"/><circle cx="839.4" cy="395.5" r="6.9"/><circle cx="864" cy="395.6" r="6.9"/><circle cx="230.5" cy="397.9" r="7"/><circle cx="255.5" cy="398" r="7"/><circle cx="280.5" cy="398.1" r="7"/><circle cx="305.4" cy="398.2" r="7"/><circle cx="330.3" cy="398.3" r="7"/><circle cx="355.2" cy="398.4" r="7"/><circle cx="380.1" cy="398.5" r="7"/><circle cx="405" cy="398.6" r="7"/><circle cx="429.9" cy="398.7" r="7"/><circle cx="454.8" cy="398.7" r="7"/><circle cx="479.6" cy="398.8" r="7"/><circle cx="504.4" cy="398.9" r="7"/><circle cx="529.3" cy="399" r="7"/><circle cx="554.1" cy="399.1" r="7"/><circle cx="578.9" cy="399.2" r="7"/><circle cx="603.6" cy="399.3" r="7"/><circle cx="628.4" cy="399.4" r="7"/><circle cx="653.2" cy="399.5" r="7"/><circle cx="677.9" cy="399.6" r="6.9"/><circle cx="702.6" cy="399.7" r="6.9"/><circle cx="727.3" cy="399.8" r="6.9"/><circle cx="752" cy="399.9" r="6.9"/><circle cx="776.7" cy="400" r="6.9"/><circle cx="801.4" cy="400.1" r="6.9"/><circle cx="826" cy="400.2" r="6.9"/><circle cx="850.7" cy="400.3" r="6.9"/><circle cx="875.3" cy="400.4" r="6.9"/><circle cx="217.2" cy="402.6" r="7"/><circle cx="242.1" cy="402.7" r="7"/><circle cx="267.1" cy="402.8" r="7"/><circle cx="292" cy="402.9" r="7"/><circle cx="317" cy="403" r="7"/><circle cx="341.9" cy="403.1" r="7"/><circle cx="366.8" cy="403.2" r="7"/><circle cx="391.7" cy="403.3" r="7"/><circle cx="416.5" cy="403.4" r="7"/><circle cx="441.4" cy="403.5" r="7"/><circle cx="466.3" cy="403.6" r="7"/><circle cx="491.1" cy="403.7" r="7"/><circle cx="515.9" cy="403.8" r="7"/><circle cx="540.7" cy="403.9" r="7"/><circle cx="565.5" cy="404" r="7"/><circle cx="590.3" cy="404.1" r="7"/><circle cx="615.1" cy="404.2" r="7"/><circle cx="639.8" cy="404.3" r="7"/><circle cx="664.5" cy="404.4" r="6.9"/><circle cx="689.3" cy="404.4" r="6.9"/><circle cx="714" cy="404.5" r="6.9"/><circle cx="738.7" cy="404.6" r="6.9"/><circle cx="763.4" cy="404.7" r="6.9"/><circle cx="788" cy="404.8" r="6.9"/><circle cx="812.7" cy="404.9" r="6.9"/><circle cx="837.3" cy="405" r="6.9"/><circle cx="862" cy="405.1" r="6.9"/><circle cx="886.6" cy="405.2" r="6.9"/><circle cx="203.8" cy="407.4" r="7"/><circle cx="228.8" cy="407.5" r="7"/><circle cx="253.7" cy="407.6" r="7"/><circle cx="278.7" cy="407.7" r="7"/><circle cx="303.6" cy="407.7" r="7"/><circle cx="328.5" cy="407.8" r="7"/><circle cx="353.4" cy="407.9" r="7"/><circle cx="378.3" cy="408" r="7"/><circle cx="403.2" cy="408.1" r="7"/><circle cx="428.1" cy="408.2" r="7"/><circle cx="452.9" cy="408.3" r="7"/><circle cx="477.7" cy="408.4" r="7"/><circle cx="502.6" cy="408.5" r="7"/><circle cx="527.4" cy="408.6" r="7"/><circle cx="552.2" cy="408.7" r="7"/><circle cx="576.9" cy="408.8" r="7"/><circle cx="601.7" cy="408.9" r="7"/><circle cx="626.5" cy="409" r="7"/><circle cx="651.2" cy="409.1" r="6.9"/><circle cx="675.9" cy="409.2" r="6.9"/><circle cx="700.6" cy="409.3" r="6.9"/><circle cx="725.3" cy="409.4" r="6.9"/><circle cx="750" cy="409.5" r="6.9"/><circle cx="774.7" cy="409.6" r="6.9"/><circle cx="799.3" cy="409.6" r="6.9"/><circle cx="824" cy="409.7" r="6.9"/><circle cx="848.6" cy="409.8" r="6.9"/><circle cx="873.2" cy="409.9" r="6.9"/><circle cx="897.8" cy="410" r="6.9"/><circle cx="190.4" cy="412.1" r="7"/><circle cx="215.4" cy="412.2" r="7"/><circle cx="240.4" cy="412.3" r="7"/><circle cx="265.3" cy="412.4" r="7"/><circle cx="290.3" cy="412.5" r="7"/><circle cx="315.2" cy="412.6" r="7"/><circle cx="340.1" cy="412.7" r="7"/><circle cx="365" cy="412.8" r="7"/><circle cx="389.8" cy="412.9" r="7"/><circle cx="414.7" cy="413" r="7"/><circle cx="439.6" cy="413.1" r="7"/><circle cx="464.4" cy="413.1" r="7"/><circle cx="489.2" cy="413.2" r="7"/><circle cx="514" cy="413.3" r="7"/><circle cx="538.8" cy="413.4" r="7"/><circle cx="563.6" cy="413.5" r="7"/><circle cx="588.4" cy="413.6" r="7"/><circle cx="613.1" cy="413.7" r="7"/><circle cx="637.9" cy="413.8" r="6.9"/><circle cx="662.6" cy="413.9" r="6.9"/><circle cx="687.3" cy="414" r="6.9"/><circle cx="712" cy="414.1" r="6.9"/><circle cx="736.7" cy="414.2" r="6.9"/><circle cx="761.4" cy="414.3" r="6.9"/><circle cx="786" cy="414.4" r="6.9"/><circle cx="810.7" cy="414.5" r="6.9"/><circle cx="835.3" cy="414.5" r="6.9"/><circle cx="859.9" cy="414.6" r="6.9"/><circle cx="884.5" cy="414.7" r="6.9"/><circle cx="909.1" cy="414.8" r="6.9"/><circle cx="177.1" cy="416.9" r="7"/><circle cx="202.1" cy="417" r="7"/><circle cx="227" cy="417" r="7"/><circle cx="252" cy="417.1" r="7"/><circle cx="276.9" cy="417.2" r="7"/><circle cx="301.8" cy="417.3" r="7"/><circle cx="326.7" cy="417.4" r="7"/><circle cx="351.6" cy="417.5" r="7"/><circle cx="376.5" cy="417.6" r="7"/><circle cx="401.4" cy="417.7" r="7"/><circle cx="426.2" cy="417.8" r="7"/><circle cx="451.1" cy="417.9" r="7"/><circle cx="475.9" cy="418" r="7"/><circle cx="500.7" cy="418.1" r="7"/><circle cx="525.5" cy="418.2" r="7"/><circle cx="550.3" cy="418.2" r="7"/><circle cx="575" cy="418.3" r="7"/><circle cx="599.8" cy="418.4" r="7"/><circle cx="624.5" cy="418.5" r="6.9"/><circle cx="649.2" cy="418.6" r="6.9"/><circle cx="674" cy="418.7" r="6.9"/><circle cx="698.7" cy="418.8" r="6.9"/><circle cx="723.3" cy="418.9" r="6.9"/><circle cx="748" cy="419" r="6.9"/><circle cx="772.7" cy="419.1" r="6.9"/><circle cx="797.3" cy="419.2" r="6.9"/><circle cx="822" cy="419.3" r="6.9"/><circle cx="846.6" cy="419.4" r="6.9"/><circle cx="871.2" cy="419.4" r="6.9"/><circle cx="895.8" cy="419.5" r="6.9"/><circle cx="920.4" cy="419.6" r="6.9"/><circle cx="163.7" cy="421.6" r="7"/><circle cx="188.7" cy="421.7" r="7"/><circle cx="213.7" cy="421.8" r="7"/><circle cx="238.6" cy="421.9" r="7"/><circle cx="263.6" cy="422" r="7"/><circle cx="288.5" cy="422.1" r="7"/><circle cx="313.4" cy="422.2" r="7"/><circle cx="338.3" cy="422.2" r="7"/><circle cx="363.2" cy="422.3" r="7"/><circle cx="388" cy="422.4" r="7"/><circle cx="412.9" cy="422.5" r="7"/><circle cx="437.7" cy="422.6" r="7"/><circle cx="462.5" cy="422.7" r="7"/><circle cx="487.3" cy="422.8" r="7"/><circle cx="512.1" cy="422.9" r="7"/><circle cx="536.9" cy="423" r="7"/><circle cx="561.7" cy="423.1" r="7"/><circle cx="586.4" cy="423.2" r="7"/><circle cx="611.2" cy="423.2" r="6.9"/><circle cx="635.9" cy="423.3" r="6.9"/><circle cx="660.6" cy="423.4" r="6.9"/><circle cx="685.3" cy="423.5" r="6.9"/><circle cx="710" cy="423.6" r="6.9"/><circle cx="734.7" cy="423.7" r="6.9"/><circle cx="759.4" cy="423.8" r="6.9"/><circle cx="784" cy="423.9" r="6.9"/><circle cx="808.6" cy="424" r="6.9"/><circle cx="833.3" cy="424.1" r="6.9"/><circle cx="857.9" cy="424.2" r="6.9"/><circle cx="882.4" cy="424.2" r="6.9"/><circle cx="907" cy="424.3" r="6.9"/><circle cx="931.6" cy="424.4" r="6.9"/><circle cx="150.4" cy="426.3" r="7"/><circle cx="175.4" cy="426.4" r="7"/><circle cx="200.3" cy="426.5" r="7"/><circle cx="225.3" cy="426.6" r="7"/><circle cx="250.2" cy="426.7" r="7"/><circle cx="275.1" cy="426.8" r="7"/><circle cx="300" cy="426.9" r="7"/><circle cx="324.9" cy="427" r="7"/><circle cx="349.8" cy="427.1" r="7"/><circle cx="374.7" cy="427.2" r="7"/><circle cx="399.5" cy="427.2" r="7"/><circle cx="424.4" cy="427.3" r="7"/><circle cx="449.2" cy="427.4" r="7"/><circle cx="474" cy="427.5" r="7"/><circle cx="498.8" cy="427.6" r="7"/><circle cx="523.6" cy="427.7" r="7"/><circle cx="548.4" cy="427.8" r="7"/><circle cx="573.1" cy="427.9" r="7"/><circle cx="597.9" cy="428" r="6.9"/><circle cx="622.6" cy="428.1" r="6.9"/><circle cx="647.3" cy="428.1" r="6.9"/><circle cx="672" cy="428.2" r="6.9"/><circle cx="696.7" cy="428.3" r="6.9"/><circle cx="721.4" cy="428.4" r="6.9"/><circle cx="746" cy="428.5" r="6.9"/><circle cx="770.7" cy="428.6" r="6.9"/><circle cx="795.3" cy="428.7" r="6.9"/><circle cx="819.9" cy="428.8" r="6.9"/><circle cx="844.5" cy="428.9" r="6.9"/><circle cx="869.1" cy="428.9" r="6.9"/><circle cx="893.7" cy="429" r="6.9"/><circle cx="918.3" cy="429.1" r="6.9"/><circle cx="942.8" cy="429.2" r="6.9"/><circle cx="137.1" cy="431.1" r="7"/><circle cx="162" cy="431.2" r="7"/><circle cx="187" cy="431.3" r="7"/><circle cx="211.9" cy="431.4" r="7"/><circle cx="236.9" cy="431.4" r="7"/><circle cx="261.8" cy="431.5" r="7"/><circle cx="286.7" cy="431.6" r="7"/><circle cx="311.6" cy="431.7" r="7"/><circle cx="336.5" cy="431.8" r="7"/><circle cx="361.3" cy="431.9" r="7"/><circle cx="386.2" cy="432" r="7"/><circle cx="411" cy="432.1" r="7"/><circle cx="435.9" cy="432.2" r="7"/><circle cx="460.7" cy="432.2" r="7"/><circle cx="485.5" cy="432.3" r="7"/><circle cx="510.3" cy="432.4" r="7"/><circle cx="535" cy="432.5" r="7"/><circle cx="559.8" cy="432.6" r="7"/><circle cx="584.5" cy="432.7" r="6.9"/><circle cx="609.3" cy="432.8" r="6.9"/><circle cx="634" cy="432.9" r="6.9"/><circle cx="658.7" cy="433" r="6.9"/><circle cx="683.4" cy="433" r="6.9"/><circle cx="708" cy="433.1" r="6.9"/><circle cx="732.7" cy="433.2" r="6.9"/><circle cx="757.4" cy="433.3" r="6.9"/><circle cx="782" cy="433.4" r="6.9"/><circle cx="806.6" cy="433.5" r="6.9"/><circle cx="831.2" cy="433.6" r="6.9"/><circle cx="855.8" cy="433.7" r="6.9"/><circle cx="880.4" cy="433.7" r="6.9"/><circle cx="905" cy="433.8" r="6.9"/><circle cx="929.5" cy="433.9" r="6.9"/><circle cx="954.1" cy="434" r="6.9"/><circle cx="123.7" cy="435.8" r="7"/><circle cx="148.7" cy="435.9" r="7"/><circle cx="173.7" cy="436" r="7"/><circle cx="198.6" cy="436.1" r="7"/><circle cx="223.5" cy="436.2" r="7"/><circle cx="248.5" cy="436.3" r="7"/><circle cx="273.4" cy="436.4" r="7"/><circle cx="298.3" cy="436.4" r="7"/><circle cx="323.1" cy="436.5" r="7"/><circle cx="348" cy="436.6" r="7"/><circle cx="372.9" cy="436.7" r="7"/><circle cx="397.7" cy="436.8" r="7"/><circle cx="422.5" cy="436.9" r="7"/><circle cx="447.3" cy="437" r="7"/><circle cx="472.1" cy="437.1" r="7"/><circle cx="496.9" cy="437.1" r="7"/><circle cx="521.7" cy="437.2" r="7"/><circle cx="546.5" cy="437.3" r="7"/><circle cx="571.2" cy="437.4" r="6.9"/><circle cx="595.9" cy="437.5" r="6.9"/><circle cx="620.7" cy="437.6" r="6.9"/><circle cx="645.4" cy="437.7" r="6.9"/><circle cx="670" cy="437.8" r="6.9"/><circle cx="694.7" cy="437.8" r="6.9"/><circle cx="719.4" cy="437.9" r="6.9"/><circle cx="744" cy="438" r="6.9"/><circle cx="768.7" cy="438.1" r="6.9"/><circle cx="793.3" cy="438.2" r="6.9"/><circle cx="817.9" cy="438.3" r="6.9"/><circle cx="842.5" cy="438.4" r="6.9"/><circle cx="867.1" cy="438.4" r="6.9"/><circle cx="891.6" cy="438.5" r="6.9"/><circle cx="916.2" cy="438.6" r="6.9"/><circle cx="940.7" cy="438.7" r="6.9"/><circle cx="965.3" cy="438.8" r="6.9"/><circle cx="110.4" cy="440.6" r="7"/><circle cx="135.3" cy="440.7" r="7"/><circle cx="160.3" cy="440.7" r="7"/><circle cx="185.3" cy="440.8" r="7"/><circle cx="210.2" cy="440.9" r="7"/><circle cx="235.1" cy="441" r="7"/><circle cx="260" cy="441.1" r="7"/><circle cx="284.9" cy="441.2" r="7"/><circle cx="309.8" cy="441.3" r="7"/><circle cx="334.7" cy="441.4" r="7"/><circle cx="359.5" cy="441.4" r="7"/><circle cx="384.4" cy="441.5" r="7"/><circle cx="409.2" cy="441.6" r="7"/><circle cx="434" cy="441.7" r="7"/><circle cx="458.8" cy="441.8" r="7"/><circle cx="483.6" cy="441.9" r="7"/><circle cx="508.4" cy="442" r="7"/><circle cx="533.1" cy="442" r="7"/><circle cx="557.9" cy="442.1" r="6.9"/><circle cx="582.6" cy="442.2" r="6.9"/><circle cx="607.3" cy="442.3" r="6.9"/><circle cx="632" cy="442.4" r="6.9"/><circle cx="656.7" cy="442.5" r="6.9"/><circle cx="681.4" cy="442.6" r="6.9"/><circle cx="706.1" cy="442.6" r="6.9"/><circle cx="730.7" cy="442.7" r="6.9"/><circle cx="755.4" cy="442.8" r="6.9"/><circle cx="780" cy="442.9" r="6.9"/><circle cx="804.6" cy="443" r="6.9"/><circle cx="829.2" cy="443.1" r="6.9"/><circle cx="853.8" cy="443.1" r="6.9"/><circle cx="878.3" cy="443.2" r="6.9"/><circle cx="902.9" cy="443.3" r="6.9"/><circle cx="927.4" cy="443.4" r="6.9"/><circle cx="952" cy="443.5" r="6.9"/><circle cx="976.5" cy="443.6" r="6.9"/><circle cx="97" cy="445.3" r="7"/><circle cx="122" cy="445.4" r="7"/><circle cx="147" cy="445.5" r="7"/><circle cx="171.9" cy="445.6" r="7"/><circle cx="196.9" cy="445.7" r="7"/><circle cx="221.8" cy="445.7" r="7"/><circle cx="246.7" cy="445.8" r="7"/><circle cx="271.6" cy="445.9" r="7"/><circle cx="296.5" cy="446" r="7"/><circle cx="321.4" cy="446.1" r="7"/><circle cx="346.2" cy="446.2" r="7"/><circle cx="371.1" cy="446.2" r="7"/><circle cx="395.9" cy="446.3" r="7"/><circle cx="420.7" cy="446.4" r="7"/><circle cx="445.5" cy="446.5" r="7"/><circle cx="470.3" cy="446.6" r="7"/><circle cx="495.1" cy="446.7" r="7"/><circle cx="519.8" cy="446.8" r="7"/><circle cx="544.6" cy="446.8" r="6.9"/><circle cx="569.3" cy="446.9" r="6.9"/><circle cx="594" cy="447" r="6.9"/><circle cx="618.7" cy="447.1" r="6.9"/><circle cx="643.4" cy="447.2" r="6.9"/><circle cx="668.1" cy="447.3" r="6.9"/><circle cx="692.8" cy="447.3" r="6.9"/><circle cx="717.4" cy="447.4" r="6.9"/><circle cx="742" cy="447.5" r="6.9"/><circle cx="766.7" cy="447.6" r="6.9"/><circle cx="791.3" cy="447.7" r="6.9"/><circle cx="815.9" cy="447.8" r="6.9"/><circle cx="840.5" cy="447.8" r="6.9"/><circle cx="865" cy="447.9" r="6.9"/><circle cx="889.6" cy="448" r="6.9"/><circle cx="914.1" cy="448.1" r="6.9"/><circle cx="938.7" cy="448.2" r="6.9"/><circle cx="963.2" cy="448.3" r="6.9"/><circle cx="987.7" cy="448.4" r="6.9"/><circle cx="83.7" cy="450.1" r="7"/><circle cx="108.7" cy="450.1" r="7"/><circle cx="133.6" cy="450.2" r="7"/><circle cx="158.6" cy="450.3" r="7"/><circle cx="183.5" cy="450.4" r="7"/><circle cx="208.5" cy="450.5" r="7"/><circle cx="233.4" cy="450.6" r="7"/><circle cx="258.3" cy="450.6" r="7"/><circle cx="283.2" cy="450.7" r="7"/><circle cx="308" cy="450.8" r="7"/><circle cx="332.9" cy="450.9" r="7"/><circle cx="357.7" cy="451" r="7"/><circle cx="382.6" cy="451.1" r="7"/><circle cx="407.4" cy="451.1" r="7"/><circle cx="432.2" cy="451.2" r="7"/><circle cx="457" cy="451.3" r="7"/><circle cx="481.7" cy="451.4" r="7"/><circle cx="506.5" cy="451.5" r="7"/><circle cx="531.2" cy="451.6" r="6.9"/><circle cx="556" cy="451.6" r="6.9"/><circle cx="580.7" cy="451.7" r="6.9"/><circle cx="605.4" cy="451.8" r="6.9"/><circle cx="630.1" cy="451.9" r="6.9"/><circle cx="654.8" cy="452" r="6.9"/><circle cx="679.4" cy="452.1" r="6.9"/><circle cx="704.1" cy="452.1" r="6.9"/><circle cx="728.7" cy="452.2" r="6.9"/><circle cx="753.4" cy="452.3" r="6.9"/><circle cx="778" cy="452.4" r="6.9"/><circle cx="802.6" cy="452.5" r="6.9"/><circle cx="827.2" cy="452.5" r="6.9"/><circle cx="851.7" cy="452.6" r="6.9"/><circle cx="876.3" cy="452.7" r="6.9"/><circle cx="900.8" cy="452.8" r="6.9"/><circle cx="925.4" cy="452.9" r="6.9"/><circle cx="949.9" cy="453" r="6.9"/><circle cx="974.4" cy="453" r="6.9"/><circle cx="998.9" cy="453.1" r="6.9"/><circle cx="70.4" cy="454.8" r="7"/><circle cx="95.4" cy="454.9" r="7"/><circle cx="120.3" cy="455" r="7"/><circle cx="145.3" cy="455" r="7"/><circle cx="170.2" cy="455.1" r="7"/><circle cx="195.1" cy="455.2" r="7"/><circle cx="220.1" cy="455.3" r="7"/><circle cx="245" cy="455.4" r="7"/><circle cx="269.8" cy="455.5" r="7"/><circle cx="294.7" cy="455.5" r="7"/><circle cx="319.6" cy="455.6" r="7"/><circle cx="344.4" cy="455.7" r="7"/><circle cx="369.2" cy="455.8" r="7"/><circle cx="394.1" cy="455.9" r="7"/><circle cx="418.9" cy="455.9" r="7"/><circle cx="443.6" cy="456" r="7"/><circle cx="468.4" cy="456.1" r="7"/><circle cx="493.2" cy="456.2" r="7"/><circle cx="517.9" cy="456.3" r="6.9"/><circle cx="542.7" cy="456.4" r="6.9"/><circle cx="567.4" cy="456.4" r="6.9"/><circle cx="592.1" cy="456.5" r="6.9"/><circle cx="616.8" cy="456.6" r="6.9"/><circle cx="641.5" cy="456.7" r="6.9"/><circle cx="666.1" cy="456.8" r="6.9"/><circle cx="690.8" cy="456.8" r="6.9"/><circle cx="715.4" cy="456.9" r="6.9"/><circle cx="740.1" cy="457" r="6.9"/><circle cx="764.7" cy="457.1" r="6.9"/><circle cx="789.3" cy="457.2" r="6.9"/><circle cx="813.9" cy="457.2" r="6.9"/><circle cx="838.4" cy="457.3" r="6.9"/><circle cx="863" cy="457.4" r="6.9"/><circle cx="887.5" cy="457.5" r="6.9"/><circle cx="912.1" cy="457.6" r="6.9"/><circle cx="936.6" cy="457.7" r="6.9"/><circle cx="961.1" cy="457.7" r="6.9"/><circle cx="985.6" cy="457.8" r="6.9"/><circle cx="1010" cy="457.9" r="6.9"/><circle cx="57" cy="459.5" r="7"/><circle cx="82" cy="459.6" r="7"/><circle cx="107" cy="459.7" r="7"/><circle cx="132" cy="459.8" r="7"/><circle cx="156.9" cy="459.9" r="7"/><circle cx="181.8" cy="459.9" r="7"/><circle cx="206.7" cy="460" r="7"/><circle cx="231.6" cy="460.1" r="7"/><circle cx="256.5" cy="460.2" r="7"/><circle cx="281.4" cy="460.3" r="7"/><circle cx="306.2" cy="460.3" r="7"/><circle cx="331.1" cy="460.4" r="7"/><circle cx="355.9" cy="460.5" r="7"/><circle cx="380.7" cy="460.6" r="7"/><circle cx="405.5" cy="460.7" r="7"/><circle cx="430.3" cy="460.7" r="7"/><circle cx="455.1" cy="460.8" r="7"/><circle cx="479.9" cy="460.9" r="6.9"/><circle cx="504.6" cy="461" r="6.9"/><circle cx="529.4" cy="461.1" r="6.9"/><circle cx="554.1" cy="461.1" r="6.9"/><circle cx="578.8" cy="461.2" r="6.9"/><circle cx="603.5" cy="461.3" r="6.9"/><circle cx="628.2" cy="461.4" r="6.9"/><circle cx="652.8" cy="461.5" r="6.9"/><circle cx="677.5" cy="461.5" r="6.9"/><circle cx="702.1" cy="461.6" r="6.9"/><circle cx="726.8" cy="461.7" r="6.9"/><circle cx="751.4" cy="461.8" r="6.9"/><circle cx="776" cy="461.9" r="6.9"/><circle cx="800.6" cy="461.9" r="6.9"/><circle cx="825.1" cy="462" r="6.9"/><circle cx="849.7" cy="462.1" r="6.9"/><circle cx="874.2" cy="462.2" r="6.9"/><circle cx="898.8" cy="462.3" r="6.9"/><circle cx="923.3" cy="462.3" r="6.9"/><circle cx="947.8" cy="462.4" r="6.9"/><circle cx="972.3" cy="462.5" r="6.9"/><circle cx="996.8" cy="462.6" r="6.9"/><circle cx="1021.2" cy="462.7" r="6.9"/><circle cx="43.7" cy="464.3" r="7"/><circle cx="68.7" cy="464.3" r="7"/><circle cx="93.7" cy="464.4" r="7"/><circle cx="118.6" cy="464.5" r="7"/><circle cx="143.6" cy="464.6" r="7"/><circle cx="168.5" cy="464.7" r="7"/><circle cx="193.4" cy="464.7" r="7"/><circle cx="218.3" cy="464.8" r="7"/><circle cx="243.2" cy="464.9" r="7"/><circle cx="268.1" cy="465" r="7"/><circle cx="292.9" cy="465.1" r="7"/><circle cx="317.8" cy="465.1" r="7"/><circle cx="342.6" cy="465.2" r="7"/><circle cx="367.4" cy="465.3" r="7"/><circle cx="392.2" cy="465.4" r="7"/><circle cx="417" cy="465.5" r="7"/><circle cx="441.8" cy="465.5" r="7"/><circle cx="466.6" cy="465.6" r="6.9"/><circle cx="491.3" cy="465.7" r="6.9"/><circle cx="516.1" cy="465.8" r="6.9"/><circle cx="540.8" cy="465.9" r="6.9"/><circle cx="565.5" cy="465.9" r="6.9"/><circle cx="590.2" cy="466" r="6.9"/><circle cx="614.9" cy="466.1" r="6.9"/><circle cx="639.5" cy="466.2" r="6.9"/><circle cx="664.2" cy="466.2" r="6.9"/><circle cx="688.8" cy="466.3" r="6.9"/><circle cx="713.5" cy="466.4" r="6.9"/><circle cx="738.1" cy="466.5" r="6.9"/><circle cx="762.7" cy="466.6" r="6.9"/><circle cx="787.3" cy="466.6" r="6.9"/><circle cx="811.8" cy="466.7" r="6.9"/><circle cx="836.4" cy="466.8" r="6.9"/><circle cx="860.9" cy="466.9" r="6.9"/><circle cx="885.5" cy="467" r="6.9"/><circle cx="910" cy="467" r="6.9"/><circle cx="934.5" cy="467.1" r="6.9"/><circle cx="959" cy="467.2" r="6.9"/><circle cx="983.5" cy="467.3" r="6.9"/><circle cx="1007.9" cy="467.3" r="6.9"/><circle cx="1032.4" cy="467.4" r="6.9"/><circle cx="30.4" cy="469" r="7"/><circle cx="55.4" cy="469.1" r="7"/><circle cx="80.4" cy="469.2" r="7"/><circle cx="105.3" cy="469.2" r="7"/><circle cx="130.3" cy="469.3" r="7"/><circle cx="155.2" cy="469.4" r="7"/><circle cx="180.1" cy="469.5" r="7"/><circle cx="205" cy="469.5" r="7"/><circle cx="229.9" cy="469.6" r="7"/><circle cx="254.8" cy="469.7" r="7"/><circle cx="279.6" cy="469.8" r="7"/><circle cx="304.5" cy="469.9" r="7"/><circle cx="329.3" cy="469.9" r="7"/><circle cx="354.1" cy="470" r="7"/><circle cx="378.9" cy="470.1" r="7"/><circle cx="403.7" cy="470.2" r="7"/><circle cx="428.5" cy="470.3" r="7"/><circle cx="453.3" cy="470.3" r="6.9"/><circle cx="478" cy="470.4" r="6.9"/><circle cx="502.7" cy="470.5" r="6.9"/><circle cx="527.5" cy="470.6" r="6.9"/><circle cx="552.2" cy="470.6" r="6.9"/><circle cx="576.9" cy="470.7" r="6.9"/><circle cx="601.6" cy="470.8" r="6.9"/><circle cx="626.2" cy="470.9" r="6.9"/><circle cx="650.9" cy="471" r="6.9"/><circle cx="675.5" cy="471" r="6.9"/><circle cx="700.2" cy="471.1" r="6.9"/><circle cx="724.8" cy="471.2" r="6.9"/><circle cx="749.4" cy="471.3" r="6.9"/><circle cx="774" cy="471.3" r="6.9"/><circle cx="798.5" cy="471.4" r="6.9"/><circle cx="823.1" cy="471.5" r="6.9"/><circle cx="847.6" cy="471.6" r="6.9"/><circle cx="872.2" cy="471.6" r="6.9"/><circle cx="896.7" cy="471.7" r="6.9"/><circle cx="921.2" cy="471.8" r="6.9"/><circle cx="945.7" cy="471.9" r="6.9"/><circle cx="970.2" cy="472" r="6.9"/><circle cx="994.6" cy="472" r="6.9"/><circle cx="1019.1" cy="472.1" r="6.9"/><circle cx="1043.5" cy="472.2" r="6.9"/><circle cx="42.1" cy="473.8" r="7"/><circle cx="67" cy="473.9" r="7"/><circle cx="92" cy="474" r="7"/><circle cx="116.9" cy="474" r="7"/><circle cx="141.9" cy="474.1" r="7"/><circle cx="166.8" cy="474.2" r="7"/><circle cx="191.7" cy="474.3" r="7"/><circle cx="216.6" cy="474.4" r="7"/><circle cx="241.5" cy="474.4" r="7"/><circle cx="266.3" cy="474.5" r="7"/><circle cx="291.2" cy="474.6" r="7"/><circle cx="316" cy="474.7" r="7"/><circle cx="340.8" cy="474.7" r="7"/><circle cx="365.6" cy="474.8" r="7"/><circle cx="390.4" cy="474.9" r="7"/><circle cx="415.2" cy="475" r="7"/><circle cx="440" cy="475" r="6.9"/><circle cx="464.7" cy="475.1" r="6.9"/><circle cx="489.4" cy="475.2" r="6.9"/><circle cx="514.2" cy="475.3" r="6.9"/><circle cx="538.9" cy="475.3" r="6.9"/><circle cx="563.6" cy="475.4" r="6.9"/><circle cx="588.3" cy="475.5" r="6.9"/><circle cx="612.9" cy="475.6" r="6.9"/><circle cx="637.6" cy="475.7" r="6.9"/><circle cx="662.2" cy="475.7" r="6.9"/><circle cx="686.9" cy="475.8" r="6.9"/><circle cx="711.5" cy="475.9" r="6.9"/><circle cx="736.1" cy="476" r="6.9"/><circle cx="760.7" cy="476" r="6.9"/><circle cx="785.2" cy="476.1" r="6.9"/><circle cx="809.8" cy="476.2" r="6.9"/><circle cx="834.4" cy="476.3" r="6.9"/><circle cx="858.9" cy="476.3" r="6.9"/><circle cx="883.4" cy="476.4" r="6.9"/><circle cx="907.9" cy="476.5" r="6.9"/><circle cx="932.4" cy="476.6" r="6.9"/><circle cx="956.9" cy="476.6" r="6.9"/><circle cx="981.4" cy="476.7" r="6.9"/><circle cx="1005.8" cy="476.8" r="6.9"/><circle cx="1030.3" cy="476.9" r="6.9"/><circle cx="1054.7" cy="476.9" r="6.9"/><circle cx="53.7" cy="478.6" r="7"/><circle cx="78.7" cy="478.7" r="7"/><circle cx="103.6" cy="478.8" r="7"/><circle cx="128.6" cy="478.8" r="7"/><circle cx="153.5" cy="478.9" r="7"/><circle cx="178.4" cy="479" r="7"/><circle cx="203.3" cy="479.1" r="7"/><circle cx="228.1" cy="479.1" r="7"/><circle cx="253" cy="479.2" r="7"/><circle cx="277.9" cy="479.3" r="7"/><circle cx="302.7" cy="479.4" r="7"/><circle cx="327.5" cy="479.5" r="7"/><circle cx="352.3" cy="479.5" r="7"/><circle cx="377.1" cy="479.6" r="7"/><circle cx="401.9" cy="479.7" r="7"/><circle cx="426.7" cy="479.8" r="6.9"/><circle cx="451.4" cy="479.8" r="6.9"/><circle cx="476.2" cy="479.9" r="6.9"/><circle cx="500.9" cy="480" r="6.9"/><circle cx="525.6" cy="480.1" r="6.9"/><circle cx="550.3" cy="480.1" r="6.9"/><circle cx="575" cy="480.2" r="6.9"/><circle cx="599.6" cy="480.3" r="6.9"/><circle cx="624.3" cy="480.4" r="6.9"/><circle cx="648.9" cy="480.4" r="6.9"/><circle cx="673.6" cy="480.5" r="6.9"/><circle cx="698.2" cy="480.6" r="6.9"/><circle cx="722.8" cy="480.7" r="6.9"/><circle cx="747.4" cy="480.7" r="6.9"/><circle cx="772" cy="480.8" r="6.9"/><circle cx="796.5" cy="480.9" r="6.9"/><circle cx="821.1" cy="480.9" r="6.9"/><circle cx="845.6" cy="481" r="6.9"/><circle cx="870.1" cy="481.1" r="6.9"/><circle cx="894.6" cy="481.2" r="6.9"/><circle cx="919.1" cy="481.2" r="6.9"/><circle cx="943.6" cy="481.3" r="6.9"/><circle cx="968.1" cy="481.4" r="6.9"/><circle cx="992.5" cy="481.5" r="6.9"/><circle cx="1017" cy="481.5" r="6.9"/><circle cx="1041.4" cy="481.6" r="6.9"/><circle cx="1065.8" cy="481.7" r="6.9"/><circle cx="65.4" cy="483.4" r="7"/><circle cx="90.3" cy="483.5" r="7"/><circle cx="115.3" cy="483.6" r="7"/><circle cx="140.2" cy="483.6" r="7"/><circle cx="165.1" cy="483.7" r="7"/><circle cx="190" cy="483.8" r="7"/><circle cx="214.8" cy="483.9" r="7"/><circle cx="239.7" cy="483.9" r="7"/><circle cx="264.6" cy="484" r="7"/><circle cx="289.4" cy="484.1" r="7"/><circle cx="314.2" cy="484.2" r="7"/><circle cx="339" cy="484.2" r="7"/><circle cx="363.8" cy="484.3" r="7"/><circle cx="388.6" cy="484.4" r="7"/><circle cx="413.4" cy="484.5" r="6.9"/><circle cx="438.1" cy="484.5" r="6.9"/><circle cx="462.9" cy="484.6" r="6.9"/><circle cx="487.6" cy="484.7" r="6.9"/><circle cx="512.3" cy="484.8" r="6.9"/><circle cx="537" cy="484.8" r="6.9"/><circle cx="561.7" cy="484.9" r="6.9"/><circle cx="586.4" cy="485" r="6.9"/><circle cx="611" cy="485.1" r="6.9"/><circle cx="635.7" cy="485.1" r="6.9"/><circle cx="660.3" cy="485.2" r="6.9"/><circle cx="684.9" cy="485.3" r="6.9"/><circle cx="709.5" cy="485.3" r="6.9"/><circle cx="734.1" cy="485.4" r="6.9"/><circle cx="758.7" cy="485.5" r="6.9"/><circle cx="783.2" cy="485.6" r="6.9"/><circle cx="807.8" cy="485.6" r="6.9"/><circle cx="832.3" cy="485.7" r="6.9"/><circle cx="856.9" cy="485.8" r="6.9"/><circle cx="881.4" cy="485.9" r="6.9"/><circle cx="905.9" cy="485.9" r="6.9"/><circle cx="930.3" cy="486" r="6.9"/><circle cx="954.8" cy="486.1" r="6.9"/><circle cx="979.3" cy="486.2" r="6.9"/><circle cx="1003.7" cy="486.2" r="6.9"/><circle cx="1028.1" cy="486.3" r="6.9"/><circle cx="1052.6" cy="486.4" r="6.9"/><circle cx="1077" cy="486.4" r="6.9"/><circle cx="77" cy="488.2" r="7"/><circle cx="101.9" cy="488.3" r="7"/><circle cx="126.9" cy="488.4" r="7"/><circle cx="151.8" cy="488.4" r="7"/><circle cx="176.7" cy="488.5" r="7"/><circle cx="201.5" cy="488.6" r="7"/><circle cx="226.4" cy="488.7" r="7"/><circle cx="251.3" cy="488.7" r="7"/><circle cx="276.1" cy="488.8" r="7"/><circle cx="300.9" cy="488.9" r="7"/><circle cx="325.7" cy="489" r="7"/><circle cx="350.5" cy="489" r="7"/><circle cx="375.3" cy="489.1" r="7"/><circle cx="400.1" cy="489.2" r="6.9"/><circle cx="424.8" cy="489.2" r="6.9"/><circle cx="449.6" cy="489.3" r="6.9"/><circle cx="474.3" cy="489.4" r="6.9"/><circle cx="499" cy="489.5" r="6.9"/><circle cx="523.7" cy="489.5" r="6.9"/><circle cx="548.4" cy="489.6" r="6.9"/><circle cx="573.1" cy="489.7" r="6.9"/><circle cx="597.7" cy="489.7" r="6.9"/><circle cx="622.4" cy="489.8" r="6.9"/><circle cx="647" cy="489.9" r="6.9"/><circle cx="671.6" cy="490" r="6.9"/><circle cx="696.2" cy="490" r="6.9"/><circle cx="720.8" cy="490.1" r="6.9"/><circle cx="745.4" cy="490.2" r="6.9"/><circle cx="770" cy="490.3" r="6.9"/><circle cx="794.5" cy="490.3" r="6.9"/><circle cx="819.1" cy="490.4" r="6.9"/><circle cx="843.6" cy="490.5" r="6.9"/><circle cx="868.1" cy="490.5" r="6.9"/><circle cx="892.6" cy="490.6" r="6.9"/><circle cx="917.1" cy="490.7" r="6.9"/><circle cx="941.5" cy="490.8" r="6.9"/><circle cx="966" cy="490.8" r="6.9"/><circle cx="990.4" cy="490.9" r="6.9"/><circle cx="1014.9" cy="491" r="6.9"/><circle cx="1039.3" cy="491" r="6.9"/><circle cx="1063.7" cy="491.1" r="6.9"/><circle cx="1088.1" cy="491.2" r="6.9"/><circle cx="88.6" cy="493" r="7"/><circle cx="113.6" cy="493.1" r="7"/><circle cx="138.5" cy="493.2" r="7"/><circle cx="163.4" cy="493.2" r="7"/><circle cx="188.2" cy="493.3" r="7"/><circle cx="213.1" cy="493.4" r="7"/><circle cx="238" cy="493.4" r="7"/><circle cx="262.8" cy="493.5" r="7"/><circle cx="287.6" cy="493.6" r="7"/><circle cx="312.4" cy="493.7" r="7"/><circle cx="337.2" cy="493.7" r="7"/><circle cx="362" cy="493.8" r="7"/><circle cx="386.8" cy="493.9" r="6.9"/><circle cx="411.5" cy="493.9" r="6.9"/><circle cx="436.3" cy="494" r="6.9"/><circle cx="461" cy="494.1" r="6.9"/><circle cx="485.7" cy="494.2" r="6.9"/><circle cx="510.4" cy="494.2" r="6.9"/><circle cx="535.1" cy="494.3" r="6.9"/><circle cx="559.8" cy="494.4" r="6.9"/><circle cx="584.4" cy="494.4" r="6.9"/><circle cx="609.1" cy="494.5" r="6.9"/><circle cx="633.7" cy="494.6" r="6.9"/><circle cx="658.3" cy="494.7" r="6.9"/><circle cx="682.9" cy="494.7" r="6.9"/><circle cx="707.5" cy="494.8" r="6.9"/><circle cx="732.1" cy="494.9" r="6.9"/><circle cx="756.7" cy="494.9" r="6.9"/><circle cx="781.2" cy="495" r="6.9"/><circle cx="805.8" cy="495.1" r="6.9"/><circle cx="830.3" cy="495.2" r="6.9"/><circle cx="854.8" cy="495.2" r="6.9"/><circle cx="879.3" cy="495.3" r="6.9"/><circle cx="903.8" cy="495.4" r="6.9"/><circle cx="928.3" cy="495.4" r="6.9"/><circle cx="952.7" cy="495.5" r="6.9"/><circle cx="977.2" cy="495.6" r="6.9"/><circle cx="1001.6" cy="495.6" r="6.9"/><circle cx="1026" cy="495.7" r="6.9"/><circle cx="1050.4" cy="495.8" r="6.9"/><circle cx="1074.8" cy="495.9" r="6.9"/><circle cx="1099.2" cy="495.9" r="6.8"/><circle cx="100.3" cy="497.8" r="7"/><circle cx="125.2" cy="497.9" r="7"/><circle cx="150.1" cy="498" r="7"/><circle cx="174.9" cy="498" r="7"/><circle cx="199.8" cy="498.1" r="7"/><circle cx="224.7" cy="498.2" r="7"/><circle cx="249.5" cy="498.2" r="7"/><circle cx="274.3" cy="498.3" r="7"/><circle cx="299.1" cy="498.4" r="7"/><circle cx="323.9" cy="498.4" r="7"/><circle cx="348.7" cy="498.5" r="7"/><circle cx="373.5" cy="498.6" r="6.9"/><circle cx="398.2" cy="498.7" r="6.9"/><circle cx="423" cy="498.7" r="6.9"/><circle cx="447.7" cy="498.8" r="6.9"/><circle cx="472.4" cy="498.9" r="6.9"/><circle cx="497.1" cy="498.9" r="6.9"/><circle cx="521.8" cy="499" r="6.9"/><circle cx="546.5" cy="499.1" r="6.9"/><circle cx="571.2" cy="499.1" r="6.9"/><circle cx="595.8" cy="499.2" r="6.9"/><circle cx="620.4" cy="499.3" r="6.9"/><circle cx="645.1" cy="499.4" r="6.9"/><circle cx="669.7" cy="499.4" r="6.9"/><circle cx="694.3" cy="499.5" r="6.9"/><circle cx="718.8" cy="499.6" r="6.9"/><circle cx="743.4" cy="499.6" r="6.9"/><circle cx="768" cy="499.7" r="6.9"/><circle cx="792.5" cy="499.8" r="6.9"/><circle cx="817" cy="499.8" r="6.9"/><circle cx="841.5" cy="499.9" r="6.9"/><circle cx="866" cy="500" r="6.9"/><circle cx="890.5" cy="500" r="6.9"/><circle cx="915" cy="500.1" r="6.9"/><circle cx="939.5" cy="500.2" r="6.9"/><circle cx="963.9" cy="500.3" r="6.9"/><circle cx="988.3" cy="500.3" r="6.9"/><circle cx="1012.8" cy="500.4" r="6.9"/><circle cx="1037.2" cy="500.5" r="6.9"/><circle cx="1061.6" cy="500.5" r="6.9"/><circle cx="1085.9" cy="500.6" r="6.8"/><circle cx="1110.3" cy="500.7" r="6.8"/><circle cx="111.9" cy="502.6" r="7"/><circle cx="136.8" cy="502.7" r="7"/><circle cx="161.7" cy="502.7" r="7"/><circle cx="186.5" cy="502.8" r="7"/><circle cx="211.4" cy="502.9" r="7"/><circle cx="236.2" cy="502.9" r="7"/><circle cx="261" cy="503" r="7"/><circle cx="285.9" cy="503.1" r="7"/><circle cx="310.6" cy="503.2" r="7"/><circle cx="335.4" cy="503.2" r="7"/><circle cx="360.2" cy="503.3" r="6.9"/><circle cx="385" cy="503.4" r="6.9"/><circle cx="409.7" cy="503.4" r="6.9"/><circle cx="434.4" cy="503.5" r="6.9"/><circle cx="459.2" cy="503.6" r="6.9"/><circle cx="483.9" cy="503.6" r="6.9"/><circle cx="508.5" cy="503.7" r="6.9"/><circle cx="533.2" cy="503.8" r="6.9"/><circle cx="557.9" cy="503.8" r="6.9"/><circle cx="582.5" cy="503.9" r="6.9"/><circle cx="607.2" cy="504" r="6.9"/><circle cx="631.8" cy="504" r="6.9"/><circle cx="656.4" cy="504.1" r="6.9"/><circle cx="681" cy="504.2" r="6.9"/><circle cx="705.6" cy="504.2" r="6.9"/><circle cx="730.1" cy="504.3" r="6.9"/><circle cx="754.7" cy="504.4" r="6.9"/><circle cx="779.2" cy="504.5" r="6.9"/><circle cx="803.8" cy="504.5" r="6.9"/><circle cx="828.3" cy="504.6" r="6.9"/><circle cx="852.8" cy="504.7" r="6.9"/><circle cx="877.3" cy="504.7" r="6.9"/><circle cx="901.7" cy="504.8" r="6.9"/><circle cx="926.2" cy="504.9" r="6.9"/><circle cx="950.6" cy="504.9" r="6.9"/><circle cx="975.1" cy="505" r="6.9"/><circle cx="999.5" cy="505.1" r="6.9"/><circle cx="1023.9" cy="505.1" r="6.9"/><circle cx="1048.3" cy="505.2" r="6.9"/><circle cx="1072.7" cy="505.3" r="6.8"/><circle cx="1097" cy="505.3" r="6.8"/><circle cx="1121.4" cy="505.4" r="6.8"/><circle cx="123.5" cy="507.4" r="7"/><circle cx="148.4" cy="507.5" r="7"/><circle cx="173.2" cy="507.5" r="7"/><circle cx="198.1" cy="507.6" r="7"/><circle cx="222.9" cy="507.7" r="7"/><circle cx="247.8" cy="507.7" r="7"/><circle cx="272.6" cy="507.8" r="7"/><circle cx="297.4" cy="507.9" r="7"/><circle cx="322.2" cy="507.9" r="7"/><circle cx="346.9" cy="508" r="6.9"/><circle cx="371.7" cy="508.1" r="6.9"/><circle cx="396.4" cy="508.1" r="6.9"/><circle cx="421.2" cy="508.2" r="6.9"/><circle cx="445.9" cy="508.3" r="6.9"/><circle cx="470.6" cy="508.3" r="6.9"/><circle cx="495.3" cy="508.4" r="6.9"/><circle cx="519.9" cy="508.5" r="6.9"/><circle cx="544.6" cy="508.5" r="6.9"/><circle cx="569.3" cy="508.6" r="6.9"/><circle cx="593.9" cy="508.7" r="6.9"/><circle cx="618.5" cy="508.7" r="6.9"/><circle cx="643.1" cy="508.8" r="6.9"/><circle cx="667.7" cy="508.9" r="6.9"/><circle cx="692.3" cy="508.9" r="6.9"/><circle cx="716.9" cy="509" r="6.9"/><circle cx="741.4" cy="509.1" r="6.9"/><circle cx="766" cy="509.1" r="6.9"/><circle cx="790.5" cy="509.2" r="6.9"/><circle cx="815" cy="509.3" r="6.9"/><circle cx="839.5" cy="509.3" r="6.9"/><circle cx="864" cy="509.4" r="6.9"/><circle cx="888.5" cy="509.5" r="6.9"/><circle cx="912.9" cy="509.5" r="6.9"/><circle cx="937.4" cy="509.6" r="6.9"/><circle cx="961.8" cy="509.7" r="6.9"/><circle cx="986.2" cy="509.7" r="6.9"/><circle cx="1010.6" cy="509.8" r="6.9"/><circle cx="1035" cy="509.9" r="6.9"/><circle cx="1059.4" cy="509.9" r="6.8"/><circle cx="1083.8" cy="510" r="6.8"/><circle cx="1108.1" cy="510.1" r="6.8"/><circle cx="135.1" cy="512.2" r="7"/><circle cx="159.9" cy="512.2" r="7"/><circle cx="184.8" cy="512.3" r="7"/><circle cx="209.6" cy="512.4" r="7"/><circle cx="234.5" cy="512.4" r="7"/><circle cx="259.3" cy="512.5" r="7"/><circle cx="284.1" cy="512.6" r="7"/><circle cx="308.9" cy="512.6" r="7"/><circle cx="333.6" cy="512.7" r="6.9"/><circle cx="358.4" cy="512.8" r="6.9"/><circle cx="383.1" cy="512.8" r="6.9"/><circle cx="407.9" cy="512.9" r="6.9"/><circle cx="432.6" cy="513" r="6.9"/><circle cx="457.3" cy="513" r="6.9"/><circle cx="482" cy="513.1" r="6.9"/><circle cx="506.7" cy="513.2" r="6.9"/><circle cx="531.3" cy="513.2" r="6.9"/><circle cx="556" cy="513.3" r="6.9"/><circle cx="580.6" cy="513.4" r="6.9"/><circle cx="605.2" cy="513.4" r="6.9"/><circle cx="629.9" cy="513.5" r="6.9"/><circle cx="654.5" cy="513.6" r="6.9"/><circle cx="679" cy="513.6" r="6.9"/><circle cx="703.6" cy="513.7" r="6.9"/><circle cx="728.2" cy="513.7" r="6.9"/><circle cx="752.7" cy="513.8" r="6.9"/><circle cx="777.2" cy="513.9" r="6.9"/><circle cx="801.8" cy="513.9" r="6.9"/><circle cx="826.3" cy="514" r="6.9"/><circle cx="850.7" cy="514.1" r="6.9"/><circle cx="875.2" cy="514.1" r="6.9"/><circle cx="899.7" cy="514.2" r="6.9"/><circle cx="924.1" cy="514.3" r="6.9"/><circle cx="948.6" cy="514.3" r="6.9"/><circle cx="973" cy="514.4" r="6.9"/><circle cx="997.4" cy="514.5" r="6.9"/><circle cx="1021.8" cy="514.5" r="6.9"/><circle cx="1046.2" cy="514.6" r="6.8"/><circle cx="1070.5" cy="514.7" r="6.8"/><circle cx="1094.9" cy="514.7" r="6.8"/><circle cx="146.7" cy="516.9" r="7"/><circle cx="171.5" cy="517" r="7"/><circle cx="196.4" cy="517.1" r="7"/><circle cx="221.2" cy="517.1" r="7"/><circle cx="246" cy="517.2" r="7"/><circle cx="270.8" cy="517.3" r="7"/><circle cx="295.6" cy="517.3" r="7"/><circle cx="320.4" cy="517.4" r="6.9"/><circle cx="345.1" cy="517.5" r="6.9"/><circle cx="369.9" cy="517.5" r="6.9"/><circle cx="394.6" cy="517.6" r="6.9"/><circle cx="419.3" cy="517.7" r="6.9"/><circle cx="444" cy="517.7" r="6.9"/><circle cx="468.7" cy="517.8" r="6.9"/><circle cx="493.4" cy="517.9" r="6.9"/><circle cx="518.1" cy="517.9" r="6.9"/><circle cx="542.7" cy="518" r="6.9"/><circle cx="567.4" cy="518" r="6.9"/><circle cx="592" cy="518.1" r="6.9"/><circle cx="616.6" cy="518.2" r="6.9"/><circle cx="641.2" cy="518.2" r="6.9"/><circle cx="665.8" cy="518.3" r="6.9"/><circle cx="690.3" cy="518.4" r="6.9"/><circle cx="714.9" cy="518.4" r="6.9"/><circle cx="739.4" cy="518.5" r="6.9"/><circle cx="764" cy="518.6" r="6.9"/><circle cx="788.5" cy="518.6" r="6.9"/><circle cx="813" cy="518.7" r="6.9"/><circle cx="837.5" cy="518.8" r="6.9"/><circle cx="862" cy="518.8" r="6.9"/><circle cx="886.4" cy="518.9" r="6.9"/><circle cx="910.9" cy="518.9" r="6.9"/><circle cx="935.3" cy="519" r="6.9"/><circle cx="959.7" cy="519.1" r="6.9"/><circle cx="984.1" cy="519.1" r="6.9"/><circle cx="1008.5" cy="519.2" r="6.9"/><circle cx="1032.9" cy="519.3" r="6.8"/><circle cx="1057.3" cy="519.3" r="6.8"/><circle cx="1081.6" cy="519.4" r="6.8"/><circle cx="158.2" cy="521.7" r="7"/><circle cx="183.1" cy="521.8" r="7"/><circle cx="207.9" cy="521.8" r="7"/><circle cx="232.7" cy="521.9" r="7"/><circle cx="257.5" cy="522" r="7"/><circle cx="282.3" cy="522" r="7"/><circle cx="307.1" cy="522.1" r="6.9"/><circle cx="331.9" cy="522.2" r="6.9"/><circle cx="356.6" cy="522.2" r="6.9"/><circle cx="381.3" cy="522.3" r="6.9"/><circle cx="406.1" cy="522.4" r="6.9"/><circle cx="430.8" cy="522.4" r="6.9"/><circle cx="455.5" cy="522.5" r="6.9"/><circle cx="480.1" cy="522.5" r="6.9"/><circle cx="504.8" cy="522.6" r="6.9"/><circle cx="529.5" cy="522.7" r="6.9"/><circle cx="554.1" cy="522.7" r="6.9"/><circle cx="578.7" cy="522.8" r="6.9"/><circle cx="603.3" cy="522.9" r="6.9"/><circle cx="627.9" cy="522.9" r="6.9"/><circle cx="652.5" cy="523" r="6.9"/><circle cx="677.1" cy="523" r="6.9"/><circle cx="701.6" cy="523.1" r="6.9"/><circle cx="726.2" cy="523.2" r="6.9"/><circle cx="750.7" cy="523.2" r="6.9"/><circle cx="775.2" cy="523.3" r="6.9"/><circle cx="799.7" cy="523.4" r="6.9"/><circle cx="824.2" cy="523.4" r="6.9"/><circle cx="848.7" cy="523.5" r="6.9"/><circle cx="873.2" cy="523.6" r="6.9"/><circle cx="897.6" cy="523.6" r="6.9"/><circle cx="922.1" cy="523.7" r="6.9"/><circle cx="946.5" cy="523.7" r="6.9"/><circle cx="970.9" cy="523.8" r="6.9"/><circle cx="995.3" cy="523.9" r="6.9"/><circle cx="1019.7" cy="523.9" r="6.8"/><circle cx="1044" cy="524" r="6.8"/><circle cx="1068.4" cy="524.1" r="6.8"/><circle cx="169.8" cy="526.5" r="7"/><circle cx="194.6" cy="526.6" r="7"/><circle cx="219.5" cy="526.6" r="7"/><circle cx="244.3" cy="526.7" r="7"/><circle cx="269" cy="526.7" r="7"/><circle cx="293.8" cy="526.8" r="6.9"/><circle cx="318.6" cy="526.9" r="6.9"/><circle cx="343.3" cy="526.9" r="6.9"/><circle cx="368.1" cy="527" r="6.9"/><circle cx="392.8" cy="527" r="6.9"/><circle cx="417.5" cy="527.1" r="6.9"/><circle cx="442.2" cy="527.2" r="6.9"/><circle cx="466.9" cy="527.2" r="6.9"/><circle cx="491.5" cy="527.3" r="6.9"/><circle cx="516.2" cy="527.4" r="6.9"/><circle cx="540.8" cy="527.4" r="6.9"/><circle cx="565.5" cy="527.5" r="6.9"/><circle cx="590.1" cy="527.5" r="6.9"/><circle cx="614.7" cy="527.6" r="6.9"/><circle cx="639.3" cy="527.7" r="6.9"/><circle cx="663.8" cy="527.7" r="6.9"/><circle cx="688.4" cy="527.8" r="6.9"/><circle cx="712.9" cy="527.9" r="6.9"/><circle cx="737.5" cy="527.9" r="6.9"/><circle cx="762" cy="528" r="6.9"/><circle cx="786.5" cy="528" r="6.9"/><circle cx="811" cy="528.1" r="6.9"/><circle cx="835.5" cy="528.2" r="6.9"/><circle cx="859.9" cy="528.2" r="6.9"/><circle cx="884.4" cy="528.3" r="6.9"/><circle cx="908.8" cy="528.3" r="6.9"/><circle cx="933.2" cy="528.4" r="6.9"/><circle cx="957.7" cy="528.5" r="6.9"/><circle cx="982" cy="528.5" r="6.9"/><circle cx="1006.4" cy="528.6" r="6.8"/><circle cx="1030.8" cy="528.6" r="6.8"/><circle cx="1055.2" cy="528.7" r="6.8"/><circle cx="181.4" cy="531.3" r="7"/><circle cx="206.2" cy="531.3" r="7"/><circle cx="231" cy="531.4" r="7"/><circle cx="255.8" cy="531.4" r="7"/><circle cx="280.6" cy="531.5" r="6.9"/><circle cx="305.3" cy="531.6" r="6.9"/><circle cx="330.1" cy="531.6" r="6.9"/><circle cx="354.8" cy="531.7" r="6.9"/><circle cx="379.5" cy="531.7" r="6.9"/><circle cx="404.2" cy="531.8" r="6.9"/><circle cx="428.9" cy="531.9" r="6.9"/><circle cx="453.6" cy="531.9" r="6.9"/><circle cx="478.3" cy="532" r="6.9"/><circle cx="502.9" cy="532" r="6.9"/><circle cx="527.6" cy="532.1" r="6.9"/><circle cx="552.2" cy="532.2" r="6.9"/><circle cx="576.8" cy="532.2" r="6.9"/><circle cx="601.4" cy="532.3" r="6.9"/><circle cx="626" cy="532.3" r="6.9"/><circle cx="650.6" cy="532.4" r="6.9"/><circle cx="675.1" cy="532.5" r="6.9"/><circle cx="699.7" cy="532.5" r="6.9"/><circle cx="724.2" cy="532.6" r="6.9"/><circle cx="748.7" cy="532.6" r="6.9"/><circle cx="773.2" cy="532.7" r="6.9"/><circle cx="797.7" cy="532.8" r="6.9"/><circle cx="822.2" cy="532.8" r="6.9"/><circle cx="846.7" cy="532.9" r="6.9"/><circle cx="871.1" cy="533" r="6.9"/><circle cx="895.6" cy="533" r="6.9"/><circle cx="920" cy="533.1" r="6.9"/><circle cx="944.4" cy="533.1" r="6.9"/><circle cx="968.8" cy="533.2" r="6.8"/><circle cx="993.2" cy="533.3" r="6.8"/><circle cx="1017.6" cy="533.3" r="6.8"/><circle cx="1041.9" cy="533.4" r="6.8"/><circle cx="192.9" cy="536" r="7"/><circle cx="217.7" cy="536.1" r="7"/><circle cx="242.5" cy="536.1" r="7"/><circle cx="267.3" cy="536.2" r="6.9"/><circle cx="292.1" cy="536.3" r="6.9"/><circle cx="316.8" cy="536.3" r="6.9"/><circle cx="341.5" cy="536.4" r="6.9"/><circle cx="366.3" cy="536.4" r="6.9"/><circle cx="391" cy="536.5" r="6.9"/><circle cx="415.7" cy="536.6" r="6.9"/><circle cx="440.4" cy="536.6" r="6.9"/><circle cx="465" cy="536.7" r="6.9"/><circle cx="489.7" cy="536.7" r="6.9"/><circle cx="514.3" cy="536.8" r="6.9"/><circle cx="538.9" cy="536.9" r="6.9"/><circle cx="563.6" cy="536.9" r="6.9"/><circle cx="588.2" cy="537" r="6.9"/><circle cx="612.8" cy="537" r="6.9"/><circle cx="637.3" cy="537.1" r="6.9"/><circle cx="661.9" cy="537.1" r="6.9"/><circle cx="686.4" cy="537.2" r="6.9"/><circle cx="711" cy="537.3" r="6.9"/><circle cx="735.5" cy="537.3" r="6.9"/><circle cx="760" cy="537.4" r="6.9"/><circle cx="784.5" cy="537.4" r="6.9"/><circle cx="809" cy="537.5" r="6.9"/><circle cx="833.4" cy="537.6" r="6.9"/><circle cx="857.9" cy="537.6" r="6.9"/><circle cx="882.3" cy="537.7" r="6.9"/><circle cx="906.8" cy="537.7" r="6.9"/><circle cx="931.2" cy="537.8" r="6.9"/><circle cx="955.6" cy="537.9" r="6.8"/><circle cx="980" cy="537.9" r="6.8"/><circle cx="1004.3" cy="538" r="6.8"/><circle cx="1028.7" cy="538" r="6.8"/><circle cx="204.5" cy="540.8" r="7"/><circle cx="229.3" cy="540.8" r="7"/><circle cx="254" cy="540.9" r="6.9"/><circle cx="278.8" cy="541" r="6.9"/><circle cx="303.5" cy="541" r="6.9"/><circle cx="328.3" cy="541.1" r="6.9"/><circle cx="353" cy="541.1" r="6.9"/><circle cx="377.7" cy="541.2" r="6.9"/><circle cx="402.4" cy="541.2" r="6.9"/><circle cx="427.1" cy="541.3" r="6.9"/><circle cx="451.8" cy="541.4" r="6.9"/><circle cx="476.4" cy="541.4" r="6.9"/><circle cx="501.1" cy="541.5" r="6.9"/><circle cx="525.7" cy="541.5" r="6.9"/><circle cx="550.3" cy="541.6" r="6.9"/><circle cx="574.9" cy="541.6" r="6.9"/><circle cx="599.5" cy="541.7" r="6.9"/><circle cx="624.1" cy="541.8" r="6.9"/><circle cx="648.6" cy="541.8" r="6.9"/><circle cx="673.2" cy="541.9" r="6.9"/><circle cx="697.7" cy="541.9" r="6.9"/><circle cx="722.2" cy="542" r="6.9"/><circle cx="746.8" cy="542.1" r="6.9"/><circle cx="771.2" cy="542.1" r="6.9"/><circle cx="795.7" cy="542.2" r="6.9"/><circle cx="820.2" cy="542.2" r="6.9"/><circle cx="844.6" cy="542.3" r="6.9"/><circle cx="869.1" cy="542.3" r="6.9"/><circle cx="893.5" cy="542.4" r="6.9"/><circle cx="917.9" cy="542.5" r="6.9"/><circle cx="942.3" cy="542.5" r="6.8"/><circle cx="966.7" cy="542.6" r="6.8"/><circle cx="991.1" cy="542.6" r="6.8"/><circle cx="1015.5" cy="542.7" r="6.8"/><circle cx="216" cy="545.5" r="7"/><circle cx="240.8" cy="545.6" r="6.9"/><circle cx="265.5" cy="545.6" r="6.9"/><circle cx="290.3" cy="545.7" r="6.9"/><circle cx="315" cy="545.8" r="6.9"/><circle cx="339.8" cy="545.8" r="6.9"/><circle cx="364.5" cy="545.9" r="6.9"/><circle cx="389.2" cy="545.9" r="6.9"/><circle cx="413.8" cy="546" r="6.9"/><circle cx="438.5" cy="546" r="6.9"/><circle cx="463.2" cy="546.1" r="6.9"/><circle cx="487.8" cy="546.2" r="6.9"/><circle cx="512.4" cy="546.2" r="6.9"/><circle cx="537.1" cy="546.3" r="6.9"/><circle cx="561.7" cy="546.3" r="6.9"/><circle cx="586.3" cy="546.4" r="6.9"/><circle cx="610.8" cy="546.4" r="6.9"/><circle cx="635.4" cy="546.5" r="6.9"/><circle cx="659.9" cy="546.6" r="6.9"/><circle cx="684.5" cy="546.6" r="6.9"/><circle cx="709" cy="546.7" r="6.9"/><circle cx="733.5" cy="546.7" r="6.9"/><circle cx="758" cy="546.8" r="6.9"/><circle cx="782.5" cy="546.8" r="6.9"/><circle cx="807" cy="546.9" r="6.9"/><circle cx="831.4" cy="546.9" r="6.9"/><circle cx="855.9" cy="547" r="6.9"/><circle cx="880.3" cy="547.1" r="6.9"/><circle cx="904.7" cy="547.1" r="6.9"/><circle cx="929.1" cy="547.2" r="6.8"/><circle cx="953.5" cy="547.2" r="6.8"/><circle cx="977.9" cy="547.3" r="6.8"/><circle cx="1002.2" cy="547.3" r="6.8"/><circle cx="227.5" cy="550.3" r="6.9"/><circle cx="252.3" cy="550.3" r="6.9"/><circle cx="277" cy="550.4" r="6.9"/><circle cx="301.8" cy="550.5" r="6.9"/><circle cx="326.5" cy="550.5" r="6.9"/><circle cx="351.2" cy="550.6" r="6.9"/><circle cx="375.9" cy="550.6" r="6.9"/><circle cx="400.6" cy="550.7" r="6.9"/><circle cx="425.3" cy="550.7" r="6.9"/><circle cx="449.9" cy="550.8" r="6.9"/><circle cx="474.6" cy="550.8" r="6.9"/><circle cx="499.2" cy="550.9" r="6.9"/><circle cx="523.8" cy="551" r="6.9"/><circle cx="548.4" cy="551" r="6.9"/><circle cx="573" cy="551.1" r="6.9"/><circle cx="597.6" cy="551.1" r="6.9"/><circle cx="622.2" cy="551.2" r="6.9"/><circle cx="646.7" cy="551.2" r="6.9"/><circle cx="671.2" cy="551.3" r="6.9"/><circle cx="695.8" cy="551.3" r="6.9"/><circle cx="720.3" cy="551.4" r="6.9"/><circle cx="744.8" cy="551.4" r="6.9"/><circle cx="769.3" cy="551.5" r="6.9"/><circle cx="793.7" cy="551.6" r="6.9"/><circle cx="818.2" cy="551.6" r="6.9"/><circle cx="842.6" cy="551.7" r="6.9"/><circle cx="867.1" cy="551.7" r="6.9"/><circle cx="891.5" cy="551.8" r="6.9"/><circle cx="915.9" cy="551.8" r="6.8"/><circle cx="940.3" cy="551.9" r="6.8"/><circle cx="964.6" cy="551.9" r="6.8"/><circle cx="989" cy="552" r="6.8"/><circle cx="239" cy="555" r="6.9"/><circle cx="263.8" cy="555.1" r="6.9"/><circle cx="288.5" cy="555.1" r="6.9"/><circle cx="313.3" cy="555.2" r="6.9"/><circle cx="338" cy="555.3" r="6.9"/><circle cx="362.7" cy="555.3" r="6.9"/><circle cx="387.4" cy="555.4" r="6.9"/><circle cx="412" cy="555.4" r="6.9"/><circle cx="436.7" cy="555.5" r="6.9"/><circle cx="461.3" cy="555.5" r="6.9"/><circle cx="486" cy="555.6" r="6.9"/><circle cx="510.6" cy="555.6" r="6.9"/><circle cx="535.2" cy="555.7" r="6.9"/><circle cx="559.8" cy="555.7" r="6.9"/><circle cx="584.4" cy="555.8" r="6.9"/><circle cx="608.9" cy="555.8" r="6.9"/><circle cx="633.5" cy="555.9" r="6.9"/><circle cx="658" cy="556" r="6.9"/><circle cx="682.5" cy="556" r="6.9"/><circle cx="707" cy="556.1" r="6.9"/><circle cx="731.5" cy="556.1" r="6.9"/><circle cx="756" cy="556.2" r="6.9"/><circle cx="780.5" cy="556.2" r="6.9"/><circle cx="804.9" cy="556.3" r="6.9"/><circle cx="829.4" cy="556.3" r="6.9"/><circle cx="853.8" cy="556.4" r="6.9"/><circle cx="878.2" cy="556.4" r="6.9"/><circle cx="902.6" cy="556.5" r="6.8"/><circle cx="927" cy="556.5" r="6.8"/><circle cx="951.4" cy="556.6" r="6.8"/><circle cx="975.8" cy="556.7" r="6.8"/><circle cx="250.5" cy="559.8" r="6.9"/><circle cx="275.3" cy="559.8" r="6.9"/><circle cx="300" cy="559.9" r="6.9"/><circle cx="324.7" cy="559.9" r="6.9"/><circle cx="349.4" cy="560" r="6.9"/><circle cx="374.1" cy="560" r="6.9"/><circle cx="398.8" cy="560.1" r="6.9"/><circle cx="423.4" cy="560.1" r="6.9"/><circle cx="448.1" cy="560.2" r="6.9"/><circle cx="472.7" cy="560.3" r="6.9"/><circle cx="497.3" cy="560.3" r="6.9"/><circle cx="521.9" cy="560.4" r="6.9"/><circle cx="546.5" cy="560.4" r="6.9"/><circle cx="571.1" cy="560.5" r="6.9"/><circle cx="595.7" cy="560.5" r="6.9"/><circle cx="620.2" cy="560.6" r="6.9"/><circle cx="644.8" cy="560.6" r="6.9"/><circle cx="669.3" cy="560.7" r="6.9"/><circle cx="693.8" cy="560.7" r="6.9"/><circle cx="718.3" cy="560.8" r="6.9"/><circle cx="742.8" cy="560.8" r="6.9"/><circle cx="767.3" cy="560.9" r="6.9"/><circle cx="791.7" cy="560.9" r="6.9"/><circle cx="816.2" cy="561" r="6.9"/><circle cx="840.6" cy="561" r="6.9"/><circle cx="865" cy="561.1" r="6.9"/><circle cx="889.4" cy="561.1" r="6.8"/><circle cx="913.8" cy="561.2" r="6.8"/><circle cx="938.2" cy="561.3" r="6.8"/><circle cx="962.6" cy="561.3" r="6.8"/><circle cx="262" cy="564.5" r="6.9"/><circle cx="286.8" cy="564.6" r="6.9"/><circle cx="311.5" cy="564.6" r="6.9"/><circle cx="336.2" cy="564.7" r="6.9"/><circle cx="360.9" cy="564.7" r="6.9"/><circle cx="385.5" cy="564.8" r="6.9"/><circle cx="410.2" cy="564.8" r="6.9"/><circle cx="434.9" cy="564.9" r="6.9"/><circle cx="459.5" cy="564.9" r="6.9"/><circle cx="484.1" cy="565" r="6.9"/><circle cx="508.7" cy="565" r="6.9"/><circle cx="533.3" cy="565.1" r="6.9"/><circle cx="557.9" cy="565.1" r="6.9"/><circle cx="582.5" cy="565.2" r="6.9"/><circle cx="607" cy="565.2" r="6.9"/><circle cx="631.5" cy="565.3" r="6.9"/><circle cx="656.1" cy="565.3" r="6.9"/><circle cx="680.6" cy="565.4" r="6.9"/><circle cx="705.1" cy="565.4" r="6.9"/><circle cx="729.6" cy="565.5" r="6.9"/><circle cx="754" cy="565.5" r="6.9"/><circle cx="778.5" cy="565.6" r="6.9"/><circle cx="802.9" cy="565.6" r="6.9"/><circle cx="827.4" cy="565.7" r="6.9"/><circle cx="851.8" cy="565.8" r="6.9"/><circle cx="876.2" cy="565.8" r="6.8"/><circle cx="900.6" cy="565.9" r="6.8"/><circle cx="925" cy="565.9" r="6.8"/><circle cx="949.3" cy="566" r="6.8"/><circle cx="273.5" cy="569.3" r="6.9"/><circle cx="298.2" cy="569.3" r="6.9"/><circle cx="322.9" cy="569.4" r="6.9"/><circle cx="347.6" cy="569.4" r="6.9"/><circle cx="372.3" cy="569.5" r="6.9"/><circle cx="397" cy="569.5" r="6.9"/><circle cx="421.6" cy="569.6" r="6.9"/><circle cx="446.3" cy="569.6" r="6.9"/><circle cx="470.9" cy="569.7" r="6.9"/><circle cx="495.5" cy="569.7" r="6.9"/><circle cx="520.1" cy="569.8" r="6.9"/><circle cx="544.7" cy="569.8" r="6.9"/><circle cx="569.2" cy="569.9" r="6.9"/><circle cx="593.8" cy="569.9" r="6.9"/><circle cx="618.3" cy="570" r="6.9"/><circle cx="642.8" cy="570" r="6.9"/><circle cx="667.4" cy="570.1" r="6.9"/><circle cx="691.9" cy="570.1" r="6.9"/><circle cx="716.3" cy="570.2" r="6.9"/><circle cx="740.8" cy="570.2" r="6.9"/><circle cx="765.3" cy="570.3" r="6.9"/><circle cx="789.7" cy="570.3" r="6.9"/><circle cx="814.2" cy="570.4" r="6.9"/><circle cx="838.6" cy="570.4" r="6.9"/><circle cx="863" cy="570.5" r="6.8"/><circle cx="887.4" cy="570.5" r="6.8"/><circle cx="911.8" cy="570.6" r="6.8"/><circle cx="936.1" cy="570.6" r="6.8"/><circle cx="285" cy="574" r="6.9"/><circle cx="309.7" cy="574" r="6.9"/><circle cx="334.4" cy="574.1" r="6.9"/><circle cx="359.1" cy="574.1" r="6.9"/><circle cx="383.7" cy="574.2" r="6.9"/><circle cx="408.4" cy="574.2" r="6.9"/><circle cx="433" cy="574.3" r="6.9"/><circle cx="457.6" cy="574.3" r="6.9"/><circle cx="482.2" cy="574.4" r="6.9"/><circle cx="506.8" cy="574.4" r="6.9"/><circle cx="531.4" cy="574.5" r="6.9"/><circle cx="556" cy="574.5" r="6.9"/><circle cx="580.5" cy="574.6" r="6.9"/><circle cx="605.1" cy="574.6" r="6.9"/><circle cx="629.6" cy="574.7" r="6.9"/><circle cx="654.1" cy="574.7" r="6.9"/><circle cx="678.6" cy="574.8" r="6.9"/><circle cx="703.1" cy="574.8" r="6.9"/><circle cx="727.6" cy="574.9" r="6.9"/><circle cx="752.1" cy="574.9" r="6.9"/><circle cx="776.5" cy="575" r="6.9"/><circle cx="800.9" cy="575" r="6.9"/><circle cx="825.4" cy="575.1" r="6.9"/><circle cx="849.8" cy="575.1" r="6.8"/><circle cx="874.2" cy="575.2" r="6.8"/><circle cx="898.5" cy="575.2" r="6.8"/><circle cx="922.9" cy="575.3" r="6.8"/><circle cx="296.5" cy="578.7" r="6.9"/><circle cx="321.2" cy="578.8" r="6.9"/><circle cx="345.8" cy="578.8" r="6.9"/><circle cx="370.5" cy="578.9" r="6.9"/><circle cx="395.2" cy="578.9" r="6.9"/><circle cx="419.8" cy="579" r="6.9"/><circle cx="444.4" cy="579" r="6.9"/><circle cx="469" cy="579.1" r="6.9"/><circle cx="493.6" cy="579.1" r="6.9"/><circle cx="518.2" cy="579.1" r="6.9"/><circle cx="542.8" cy="579.2" r="6.9"/><circle cx="567.3" cy="579.2" r="6.9"/><circle cx="591.9" cy="579.3" r="6.9"/><circle cx="616.4" cy="579.3" r="6.9"/><circle cx="640.9" cy="579.4" r="6.9"/><circle cx="665.4" cy="579.4" r="6.9"/><circle cx="689.9" cy="579.5" r="6.9"/><circle cx="714.4" cy="579.5" r="6.9"/><circle cx="738.8" cy="579.6" r="6.9"/><circle cx="763.3" cy="579.6" r="6.9"/><circle cx="787.7" cy="579.7" r="6.9"/><circle cx="812.1" cy="579.7" r="6.9"/><circle cx="836.6" cy="579.8" r="6.8"/><circle cx="860.9" cy="579.8" r="6.8"/><circle cx="885.3" cy="579.9" r="6.8"/><circle cx="909.7" cy="579.9" r="6.8"/><circle cx="307.9" cy="583.4" r="6.9"/><circle cx="332.6" cy="583.5" r="6.9"/><circle cx="357.3" cy="583.5" r="6.9"/><circle cx="381.9" cy="583.6" r="6.9"/><circle cx="406.6" cy="583.6" r="6.9"/><circle cx="431.2" cy="583.7" r="6.9"/><circle cx="455.8" cy="583.7" r="6.9"/><circle cx="480.4" cy="583.8" r="6.9"/><circle cx="505" cy="583.8" r="6.9"/><circle cx="529.6" cy="583.9" r="6.9"/><circle cx="554.1" cy="583.9" r="6.9"/><circle cx="578.7" cy="584" r="6.9"/><circle cx="603.2" cy="584" r="6.9"/><circle cx="627.7" cy="584" r="6.9"/><circle cx="652.2" cy="584.1" r="6.9"/><circle cx="676.7" cy="584.1" r="6.9"/><circle cx="701.2" cy="584.2" r="6.9"/><circle cx="725.6" cy="584.2" r="6.9"/><circle cx="750.1" cy="584.3" r="6.9"/><circle cx="774.5" cy="584.3" r="6.9"/><circle cx="798.9" cy="584.4" r="6.9"/><circle cx="823.3" cy="584.4" r="6.8"/><circle cx="847.7" cy="584.5" r="6.8"/><circle cx="872.1" cy="584.5" r="6.8"/><circle cx="896.5" cy="584.6" r="6.8"/><circle cx="319.4" cy="588.2" r="6.9"/><circle cx="344.1" cy="588.2" r="6.9"/><circle cx="368.7" cy="588.3" r="6.9"/><circle cx="393.3" cy="588.3" r="6.9"/><circle cx="418" cy="588.3" r="6.9"/><circle cx="442.6" cy="588.4" r="6.9"/><circle cx="467.2" cy="588.4" r="6.9"/><circle cx="491.8" cy="588.5" r="6.9"/><circle cx="516.3" cy="588.5" r="6.9"/><circle cx="540.9" cy="588.6" r="6.9"/><circle cx="565.4" cy="588.6" r="6.9"/><circle cx="590" cy="588.7" r="6.9"/><circle cx="614.5" cy="588.7" r="6.9"/><circle cx="639" cy="588.8" r="6.9"/><circle cx="663.5" cy="588.8" r="6.9"/><circle cx="688" cy="588.8" r="6.9"/><circle cx="712.4" cy="588.9" r="6.9"/><circle cx="736.9" cy="588.9" r="6.9"/><circle cx="761.3" cy="589" r="6.9"/><circle cx="785.7" cy="589" r="6.9"/><circle cx="810.1" cy="589.1" r="6.8"/><circle cx="834.5" cy="589.1" r="6.8"/><circle cx="858.9" cy="589.2" r="6.8"/><circle cx="883.3" cy="589.2" r="6.8"/><circle cx="330.8" cy="592.9" r="6.9"/><circle cx="355.5" cy="592.9" r="6.9"/><circle cx="380.1" cy="593" r="6.9"/><circle cx="404.8" cy="593" r="6.9"/><circle cx="429.4" cy="593.1" r="6.9"/><circle cx="454" cy="593.1" r="6.9"/><circle cx="478.5" cy="593.2" r="6.9"/><circle cx="503.1" cy="593.2" r="6.9"/><circle cx="527.7" cy="593.2" r="6.9"/><circle cx="552.2" cy="593.3" r="6.9"/><circle cx="576.8" cy="593.3" r="6.9"/><circle cx="601.3" cy="593.4" r="6.9"/><circle cx="625.8" cy="593.4" r="6.9"/><circle cx="650.3" cy="593.5" r="6.9"/><circle cx="674.7" cy="593.5" r="6.9"/><circle cx="699.2" cy="593.5" r="6.9"/><circle cx="723.7" cy="593.6" r="6.9"/><circle cx="748.1" cy="593.6" r="6.9"/><circle cx="772.5" cy="593.7" r="6.9"/><circle cx="796.9" cy="593.7" r="6.8"/><circle cx="821.3" cy="593.8" r="6.8"/><circle cx="845.7" cy="593.8" r="6.8"/><circle cx="870.1" cy="593.8" r="6.8"/><circle cx="342.3" cy="597.6" r="6.9"/><circle cx="366.9" cy="597.6" r="6.9"/><circle cx="391.5" cy="597.7" r="6.9"/><circle cx="416.1" cy="597.7" r="6.9"/><circle cx="440.7" cy="597.8" r="6.9"/><circle cx="465.3" cy="597.8" r="6.9"/><circle cx="489.9" cy="597.9" r="6.9"/><circle cx="514.5" cy="597.9" r="6.9"/><circle cx="539" cy="597.9" r="6.9"/><circle cx="563.5" cy="598" r="6.9"/><circle cx="588.1" cy="598" r="6.9"/><circle cx="612.6" cy="598.1" r="6.9"/><circle cx="637.1" cy="598.1" r="6.9"/><circle cx="661.5" cy="598.2" r="6.9"/><circle cx="686" cy="598.2" r="6.9"/><circle cx="710.5" cy="598.2" r="6.9"/><circle cx="734.9" cy="598.3" r="6.9"/><circle cx="759.3" cy="598.3" r="6.9"/><circle cx="783.7" cy="598.4" r="6.8"/><circle cx="808.1" cy="598.4" r="6.8"/><circle cx="832.5" cy="598.4" r="6.8"/><circle cx="856.9" cy="598.5" r="6.8"/><circle cx="353.7" cy="602.3" r="6.9"/><circle cx="378.3" cy="602.4" r="6.9"/><circle cx="402.9" cy="602.4" r="6.9"/><circle cx="427.5" cy="602.4" r="6.9"/><circle cx="452.1" cy="602.5" r="6.9"/><circle cx="476.7" cy="602.5" r="6.9"/><circle cx="501.3" cy="602.6" r="6.9"/><circle cx="525.8" cy="602.6" r="6.9"/><circle cx="550.3" cy="602.6" r="6.9"/><circle cx="574.9" cy="602.7" r="6.9"/><circle cx="599.4" cy="602.7" r="6.9"/><circle cx="623.9" cy="602.8" r="6.9"/><circle cx="648.3" cy="602.8" r="6.9"/><circle cx="672.8" cy="602.8" r="6.9"/><circle cx="697.3" cy="602.9" r="6.9"/><circle cx="721.7" cy="602.9" r="6.9"/><circle cx="746.1" cy="603" r="6.9"/><circle cx="770.5" cy="603" r="6.8"/><circle cx="794.9" cy="603.1" r="6.8"/><circle cx="819.3" cy="603.1" r="6.8"/><circle cx="843.7" cy="603.1" r="6.8"/><circle cx="365.1" cy="607" r="6.9"/><circle cx="389.7" cy="607.1" r="6.9"/><circle cx="414.3" cy="607.1" r="6.9"/><circle cx="438.9" cy="607.1" r="6.9"/><circle cx="463.5" cy="607.2" r="6.9"/><circle cx="488.1" cy="607.2" r="6.9"/><circle cx="512.6" cy="607.3" r="6.9"/><circle cx="537.1" cy="607.3" r="6.9"/><circle cx="561.7" cy="607.3" r="6.9"/><circle cx="586.2" cy="607.4" r="6.9"/><circle cx="610.7" cy="607.4" r="6.9"/><circle cx="635.1" cy="607.5" r="6.9"/><circle cx="659.6" cy="607.5" r="6.9"/><circle cx="684.1" cy="607.5" r="6.9"/><circle cx="708.5" cy="607.6" r="6.9"/><circle cx="732.9" cy="607.6" r="6.9"/><circle cx="757.3" cy="607.7" r="6.8"/><circle cx="781.7" cy="607.7" r="6.8"/><circle cx="806.1" cy="607.7" r="6.8"/><circle cx="830.5" cy="607.8" r="6.8"/><circle cx="376.5" cy="611.7" r="6.9"/><circle cx="401.1" cy="611.8" r="6.9"/><circle cx="425.7" cy="611.8" r="6.9"/><circle cx="450.3" cy="611.8" r="6.9"/><circle cx="474.9" cy="611.9" r="6.9"/><circle cx="499.4" cy="611.9" r="6.9"/><circle cx="523.9" cy="612" r="6.9"/><circle cx="548.5" cy="612" r="6.9"/><circle cx="573" cy="612" r="6.9"/><circle cx="597.5" cy="612.1" r="6.9"/><circle cx="621.9" cy="612.1" r="6.9"/><circle cx="646.4" cy="612.2" r="6.9"/><circle cx="670.9" cy="612.2" r="6.9"/><circle cx="695.3" cy="612.2" r="6.9"/><circle cx="719.7" cy="612.3" r="6.9"/><circle cx="744.1" cy="612.3" r="6.8"/><circle cx="768.6" cy="612.3" r="6.8"/><circle cx="792.9" cy="612.4" r="6.8"/><circle cx="817.3" cy="612.4" r="6.8"/><circle cx="387.9" cy="616.4" r="6.9"/><circle cx="412.5" cy="616.5" r="6.9"/><circle cx="437.1" cy="616.5" r="6.9"/><circle cx="461.7" cy="616.5" r="6.9"/><circle cx="486.2" cy="616.6" r="6.9"/><circle cx="510.7" cy="616.6" r="6.9"/><circle cx="535.3" cy="616.7" r="6.9"/><circle cx="559.8" cy="616.7" r="6.9"/><circle cx="584.3" cy="616.7" r="6.9"/><circle cx="608.7" cy="616.8" r="6.9"/><circle cx="633.2" cy="616.8" r="6.9"/><circle cx="657.7" cy="616.8" r="6.9"/><circle cx="682.1" cy="616.9" r="6.9"/><circle cx="706.5" cy="616.9" r="6.9"/><circle cx="731" cy="616.9" r="6.8"/><circle cx="755.4" cy="617" r="6.8"/><circle cx="779.8" cy="617" r="6.8"/><circle cx="804.1" cy="617.1" r="6.8"/><circle cx="399.3" cy="621.1" r="6.9"/><circle cx="423.9" cy="621.2" r="6.9"/><circle cx="448.5" cy="621.2" r="6.9"/><circle cx="473" cy="621.2" r="6.9"/><circle cx="497.5" cy="621.3" r="6.9"/><circle cx="522.1" cy="621.3" r="6.9"/><circle cx="546.6" cy="621.3" r="6.9"/><circle cx="571.1" cy="621.4" r="6.9"/><circle cx="595.6" cy="621.4" r="6.9"/><circle cx="620" cy="621.5" r="6.9"/><circle cx="644.5" cy="621.5" r="6.9"/><circle cx="668.9" cy="621.5" r="6.9"/><circle cx="693.4" cy="621.6" r="6.9"/><circle cx="717.8" cy="621.6" r="6.8"/><circle cx="742.2" cy="621.6" r="6.8"/><circle cx="766.6" cy="621.7" r="6.8"/><circle cx="790.9" cy="621.7" r="6.8"/><circle cx="410.7" cy="625.8" r="6.9"/><circle cx="435.3" cy="625.9" r="6.9"/><circle cx="459.8" cy="625.9" r="6.9"/><circle cx="484.4" cy="625.9" r="6.9"/><circle cx="508.9" cy="626" r="6.9"/><circle cx="533.4" cy="626" r="6.9"/><circle cx="557.9" cy="626" r="6.9"/><circle cx="582.4" cy="626.1" r="6.9"/><circle cx="606.8" cy="626.1" r="6.9"/><circle cx="631.3" cy="626.1" r="6.9"/><circle cx="655.7" cy="626.2" r="6.9"/><circle cx="680.2" cy="626.2" r="6.9"/><circle cx="704.6" cy="626.2" r="6.8"/><circle cx="729" cy="626.3" r="6.8"/><circle cx="753.4" cy="626.3" r="6.8"/><circle cx="777.8" cy="626.3" r="6.8"/><circle cx="422.1" cy="630.5" r="6.9"/><circle cx="446.6" cy="630.5" r="6.9"/><circle cx="471.2" cy="630.6" r="6.9"/><circle cx="495.7" cy="630.6" r="6.9"/><circle cx="520.2" cy="630.6" r="6.9"/><circle cx="544.7" cy="630.7" r="6.9"/><circle cx="569.2" cy="630.7" r="6.9"/><circle cx="593.7" cy="630.7" r="6.9"/><circle cx="618.1" cy="630.8" r="6.9"/><circle cx="642.6" cy="630.8" r="6.9"/><circle cx="667" cy="630.8" r="6.9"/><circle cx="691.4" cy="630.9" r="6.8"/><circle cx="715.8" cy="630.9" r="6.8"/><circle cx="740.2" cy="630.9" r="6.8"/><circle cx="764.6" cy="631" r="6.8"/><circle cx="433.4" cy="635.2" r="6.9"/><circle cx="458" cy="635.2" r="6.9"/><circle cx="482.5" cy="635.3" r="6.9"/><circle cx="507" cy="635.3" r="6.9"/><circle cx="531.5" cy="635.3" r="6.9"/><circle cx="556" cy="635.4" r="6.9"/><circle cx="580.5" cy="635.4" r="6.9"/><circle cx="604.9" cy="635.4" r="6.9"/><circle cx="629.4" cy="635.5" r="6.9"/><circle cx="653.8" cy="635.5" r="6.9"/><circle cx="678.2" cy="635.5" r="6.8"/><circle cx="702.6" cy="635.6" r="6.8"/><circle cx="727" cy="635.6" r="6.8"/><circle cx="751.4" cy="635.6" r="6.8"/><circle cx="444.8" cy="639.9" r="6.9"/><circle cx="469.3" cy="639.9" r="6.9"/><circle cx="493.8" cy="639.9" r="6.9"/><circle cx="518.3" cy="640" r="6.9"/><circle cx="542.8" cy="640" r="6.9"/><circle cx="567.3" cy="640" r="6.9"/><circle cx="591.8" cy="640.1" r="6.9"/><circle cx="616.2" cy="640.1" r="6.9"/><circle cx="640.6" cy="640.1" r="6.9"/><circle cx="665.1" cy="640.2" r="6.8"/><circle cx="689.5" cy="640.2" r="6.8"/><circle cx="713.9" cy="640.2" r="6.8"/><circle cx="738.2" cy="640.2" r="6.8"/><circle cx="456.1" cy="644.6" r="6.9"/><circle cx="480.7" cy="644.6" r="6.9"/><circle cx="505.2" cy="644.6" r="6.9"/><circle cx="529.6" cy="644.6" r="6.9"/><circle cx="554.1" cy="644.7" r="6.9"/><circle cx="578.6" cy="644.7" r="6.9"/><circle cx="603" cy="644.7" r="6.9"/><circle cx="627.5" cy="644.8" r="6.9"/><circle cx="651.9" cy="644.8" r="6.8"/><circle cx="676.3" cy="644.8" r="6.8"/><circle cx="700.7" cy="644.9" r="6.8"/><circle cx="725.1" cy="644.9" r="6.8"/><circle cx="467.5" cy="649.2" r="6.9"/><circle cx="492" cy="649.3" r="6.9"/><circle cx="516.5" cy="649.3" r="6.9"/><circle cx="540.9" cy="649.3" r="6.9"/><circle cx="565.4" cy="649.3" r="6.9"/><circle cx="589.9" cy="649.4" r="6.9"/><circle cx="614.3" cy="649.4" r="6.9"/><circle cx="638.7" cy="649.4" r="6.8"/><circle cx="663.1" cy="649.5" r="6.8"/><circle cx="687.5" cy="649.5" r="6.8"/><circle cx="711.9" cy="649.5" r="6.8"/><circle cx="478.8" cy="653.9" r="6.9"/><circle cx="503.3" cy="653.9" r="6.9"/><circle cx="527.8" cy="654" r="6.9"/><circle cx="552.2" cy="654" r="6.9"/><circle cx="576.7" cy="654" r="6.9"/><circle cx="601.1" cy="654" r="6.9"/><circle cx="625.6" cy="654.1" r="6.8"/><circle cx="650" cy="654.1" r="6.8"/><circle cx="674.4" cy="654.1" r="6.8"/><circle cx="698.7" cy="654.2" r="6.8"/><circle cx="490.1" cy="658.6" r="6.9"/><circle cx="514.6" cy="658.6" r="6.9"/><circle cx="539.1" cy="658.6" r="6.9"/><circle cx="563.5" cy="658.7" r="6.9"/><circle cx="588" cy="658.7" r="6.9"/><circle cx="612.4" cy="658.7" r="6.8"/><circle cx="636.8" cy="658.7" r="6.8"/><circle cx="661.2" cy="658.8" r="6.8"/><circle cx="685.6" cy="658.8" r="6.8"/><circle cx="501.4" cy="663.2" r="6.9"/><circle cx="525.9" cy="663.3" r="6.9"/><circle cx="550.4" cy="663.3" r="6.9"/><circle cx="574.8" cy="663.3" r="6.9"/><circle cx="599.2" cy="663.3" r="6.8"/><circle cx="623.6" cy="663.4" r="6.8"/><circle cx="648" cy="663.4" r="6.8"/><circle cx="672.4" cy="663.4" r="6.8"/><circle cx="512.8" cy="667.9" r="6.9"/><circle cx="537.2" cy="667.9" r="6.9"/><circle cx="561.6" cy="668" r="6.9"/><circle cx="586.1" cy="668" r="6.8"/><circle cx="610.5" cy="668" r="6.8"/><circle cx="634.9" cy="668" r="6.8"/><circle cx="659.3" cy="668" r="6.8"/><circle cx="524" cy="672.6" r="6.9"/><circle cx="548.5" cy="672.6" r="6.9"/><circle cx="572.9" cy="672.6" r="6.8"/><circle cx="597.3" cy="672.6" r="6.8"/><circle cx="621.7" cy="672.6" r="6.8"/><circle cx="646.1" cy="672.7" r="6.8"/><circle cx="535.3" cy="677.2" r="6.8"/><circle cx="559.8" cy="677.2" r="6.8"/><circle cx="584.2" cy="677.3" r="6.8"/><circle cx="608.6" cy="677.3" r="6.8"/><circle cx="633" cy="677.3" r="6.8"/><circle cx="546.6" cy="681.9" r="6.8"/><circle cx="571" cy="681.9" r="6.8"/><circle cx="595.4" cy="681.9" r="6.8"/><circle cx="619.8" cy="681.9" r="6.8"/><circle cx="557.9" cy="686.5" r="6.8"/><circle cx="582.3" cy="686.5" r="6.8"/><circle cx="606.7" cy="686.6" r="6.8"/><circle cx="569.1" cy="691.2" r="6.8"/><circle cx="593.5" cy="691.2" r="6.8"/><circle cx="580.4" cy="695.8" r="6.8"/></g></g><rect x="0" y="262" width="1300" height="330" fill="url(#fog)"/><circle cx="581" cy="502" r="56" fill="url(#hot)"/><polygon points="523,98 523,186 548,290 558,390 568,418 584,418 592,405 606,390 610,330 632,290 650,200 672,140 676,98" fill="#6f8bb8"/><g fill="url(#gTip)"><circle cx="549.8" cy="98" r="14.5"/><circle cx="591.3" cy="98" r="14.5"/><circle cx="631.7" cy="98" r="14.5"/><circle cx="569.9" cy="118.8" r="14.5"/><circle cx="611" cy="118.8" r="14.5"/><circle cx="652.4" cy="118.8" r="14.5"/><circle cx="549.4" cy="114.8" r="14.5"/><circle cx="590.5" cy="114.8" r="14.5"/><circle cx="631.9" cy="114.8" r="14.5"/><circle cx="673.4" cy="114.8" r="14.5"/><circle cx="549.8" cy="138.5" r="14.5"/><circle cx="590.2" cy="138.5" r="14.5"/><circle cx="631" cy="138.5" r="14.5"/><circle cx="567.7" cy="159.8" r="14.5"/><circle cx="609.3" cy="159.8" r="14.5"/><circle cx="547.2" cy="155.8" r="14.5"/><circle cx="588.8" cy="155.8" r="14.5"/><circle cx="630.5" cy="155.8" r="14.5"/><circle cx="546.3" cy="181.2" r="14.5"/><circle cx="587.8" cy="181.2" r="14.5"/><circle cx="629.8" cy="181.2" r="14.5"/><circle cx="566.4" cy="202" r="14.5"/><circle cx="608.5" cy="202" r="14.5"/><circle cx="545.9" cy="198" r="14.5"/><circle cx="588" cy="198" r="14.5"/><circle cx="629.9" cy="198" r="14.5"/><circle cx="587.3" cy="222.5" r="14.5"/><circle cx="565.8" cy="243.3" r="14.5"/><circle cx="607.7" cy="243.3" r="14.5"/><circle cx="545.3" cy="239.3" r="14.5"/><circle cx="587.2" cy="239.3" r="14.5"/><circle cx="629" cy="239.3" r="14.5"/><circle cx="586.3" cy="263.9" r="14.5"/><circle cx="565.2" cy="284.7" r="14.5"/><circle cx="607.2" cy="284.7" r="14.5"/><circle cx="544.7" cy="280.7" r="14.5"/><circle cx="586.7" cy="280.7" r="14.5"/><circle cx="628.4" cy="280.7" r="14.5"/><circle cx="585.9" cy="305.2" r="14.5"/><circle cx="592.6" cy="318.8" r="14.5"/><circle cx="580.6" cy="318.8" r="14.5"/><circle cx="585.6" cy="320.8" r="14.5"/><circle cx="572" cy="340.2" r="14.5"/><circle cx="560" cy="340.2" r="14.5"/><circle cx="613.3" cy="340.2" r="14.5"/><circle cx="601.3" cy="340.2" r="14.5"/><circle cx="591.7" cy="360.8" r="14.5"/><circle cx="579.7" cy="360.8" r="14.5"/><circle cx="584.7" cy="362.8" r="14.5"/><circle cx="570.7" cy="381.5" r="14.5"/><circle cx="558.7" cy="381.5" r="14.5"/><circle cx="612.7" cy="381.5" r="14.5"/><circle cx="600.7" cy="381.5" r="14.5"/><circle cx="591.2" cy="402.3" r="14.5"/><circle cx="579.2" cy="402.3" r="14.5"/><circle cx="584.2" cy="404.3" r="14.5"/><circle cx="516.5" cy="83.6" r="14.5"/><circle cx="558.6" cy="83.1" r="14.5"/><circle cx="600.8" cy="82.8" r="14.5"/><circle cx="643" cy="82.8" r="14.5"/><circle cx="542" cy="87.3" r="14.5"/><circle cx="583.5" cy="87.3" r="14.5"/><circle cx="625.7" cy="86.8" r="14.5"/><circle cx="667.8" cy="87.3" r="14.5"/><circle cx="522.7" cy="92.3" r="14.5"/><circle cx="564.2" cy="91.8" r="14.5"/><circle cx="606.3" cy="91.8" r="14.5"/><circle cx="648.5" cy="91.8" r="14.5"/><circle cx="673.8" cy="94.8" r="14.5"/><circle cx="548.9" cy="95.8" r="14.5"/><circle cx="590.4" cy="95.8" r="14.5"/><circle cx="632.6" cy="95.8" r="14.5"/><circle cx="518.5" cy="119.3" r="14.5"/><circle cx="515.8" cy="134.5" r="14.5"/><circle cx="521.2" cy="160.8" r="14.5"/><circle cx="522.9" cy="160.6" r="14.5"/><circle cx="674.8" cy="138.7" r="14.5"/><circle cx="666.5" cy="167.7" r="14.5"/><circle cx="670.2" cy="167.5" r="14.5"/><circle cx="540.9" cy="222.2" r="14.5"/><circle cx="634.2" cy="223.4" r="14.5"/><circle cx="652.9" cy="240.8" r="14.5"/><circle cx="540.9" cy="263.8" r="14.5"/><circle cx="634.2" cy="263.2" r="14.5"/><circle cx="651.6" cy="260.8" r="14.5"/><circle cx="655.2" cy="200.8" r="14.5"/><circle cx="652.6" cy="218.8" r="14.5"/><circle cx="654" cy="238.2" r="14.5"/><circle cx="588.3" cy="428.4" r="14.5"/><circle cx="631.7" cy="306.8" r="14.5"/><circle cx="560.5" cy="325.8" r="14.5"/><circle cx="612.6" cy="325.8" r="14.5"/><circle cx="558.7" cy="367.3" r="14.5"/><circle cx="609" cy="367.3" r="14.5"/><circle cx="558.7" cy="408.8" r="14.5"/><circle cx="567.7" cy="460.8" r="14.5"/><circle cx="549.4" cy="122.8" r="14.5"/><circle cx="590.5" cy="122.8" r="14.5"/><circle cx="631.9" cy="122.8" r="14.5"/><circle cx="673.4" cy="122.8" r="14.5"/><circle cx="547.2" cy="163.8" r="14.5"/><circle cx="588.8" cy="163.8" r="14.5"/><circle cx="630.5" cy="163.8" r="14.5"/><circle cx="545.9" cy="206" r="14.5"/><circle cx="588" cy="206" r="14.5"/><circle cx="629.9" cy="206" r="14.5"/><circle cx="545.3" cy="247.3" r="14.5"/><circle cx="587.2" cy="247.3" r="14.5"/><circle cx="629" cy="247.3" r="14.5"/><circle cx="544.7" cy="288.7" r="14.5"/><circle cx="586.7" cy="288.7" r="14.5"/><circle cx="628.4" cy="288.7" r="14.5"/><circle cx="529.3" cy="102" r="14.5"/><circle cx="570.8" cy="102" r="14.5"/><circle cx="611.2" cy="102" r="14.5"/><circle cx="652.7" cy="102" r="14.5"/><circle cx="529.3" cy="142.5" r="14.5"/><circle cx="569.7" cy="142.5" r="14.5"/><circle cx="610.5" cy="142.5" r="14.5"/><circle cx="652.7" cy="142.5" r="14.5"/><circle cx="525.8" cy="185.2" r="14.5"/><circle cx="567.3" cy="185.2" r="14.5"/><circle cx="609.3" cy="185.2" r="14.5"/><circle cx="651" cy="185.2" r="14.5"/><circle cx="566.8" cy="226.5" r="14.5"/><circle cx="608.5" cy="226.5" r="14.5"/><circle cx="565.8" cy="267.9" r="14.5"/><circle cx="607.7" cy="267.9" r="14.5"/><circle cx="565.4" cy="309.2" r="14.5"/><circle cx="607.1" cy="309.2" r="14.5"/><circle cx="585.6" cy="328.8" r="14.5"/><circle cx="565" cy="350.2" r="14.5"/><circle cx="606.3" cy="350.2" r="14.5"/><circle cx="584.7" cy="370.8" r="14.5"/><circle cx="563.7" cy="391.5" r="14.5"/><circle cx="605.7" cy="391.5" r="14.5"/><circle cx="584.2" cy="412.3" r="14.5"/><circle cx="562.8" cy="432.8" r="14.5"/><circle cx="582.9" cy="453.6" r="14.5"/><circle cx="580.2" cy="469.8" r="14.5"/><circle cx="576.6" cy="487.3" r="14.5"/></g><path d="M287.6 294.3 C296 289 308 283 316 284.5 C326 286.5 325 297 323 308 C320 324 314 338 319 345 C326 354 345 343 360 337 C370 333 379 332 380.5 340 C382 351 370 377 371 388 C372 397 380 395 386 391 C392 387 396 387 402 392 L438 421" fill="none" stroke="#00b050" stroke-width="5.2" stroke-linecap="butt" stroke-linejoin="round"/><path d="M449.5 429.8 L422.8 422.6 L436.5 418.5 L440.3 405.5 Z" fill="#00b050"/><path d="M730.4 443.5 C726 435 720 424 720 418 C720 409 729 408 738 409.5 C752 412 768 417 778 415.5 C787 414 787 406 784.5 398 C780 384 771 370 770.5 360 C770 350 777 349 786 351 C800 354 816 364 825 363.5 C833 363 833.5 356 831 349 C828 341 822 337 824 330 C827 319 846 304 858 292" fill="none" stroke="#ff0000" stroke-width="5.2" stroke-linecap="butt" stroke-linejoin="round"/><path d="M866.4 282.4 L859.8 309.4 L855.2 295.3 L840.6 292.2 Z" fill="#ff0000"/><g font-family="'Liberation Sans',Arial,sans-serif" font-size="58.5"><text x="703.5" y="141">SPM tip</text><text x="37.1" y="293.6" fill="#00b050">Laser in</text><text x="921.8" y="293.7" fill="#ff0000">Raman out</text><text x="746.2" y="720.8">Sample substrate</text></g><g clip-path="url(#trclip)"><rect x="1335" y="102" width="697" height="446" fill="#405fac"/><g mask="url(#hsmask)"><rect x="1627.5" y="503" width="103" height="47" fill="url(#hs)"/></g><rect x="1335" y="547.6" width="697" height="80" fill="url(#auhatch)"/><g fill="url(#gAuB)"><circle cx="1326.9" cy="562.3" r="13.9"/><circle cx="1354.8" cy="562.3" r="13.9"/><circle cx="1382.6" cy="562.3" r="13.9"/><circle cx="1410.5" cy="562.3" r="13.9"/><circle cx="1438.3" cy="562.3" r="13.9"/><circle cx="1466.2" cy="562.3" r="13.9"/><circle cx="1494" cy="562.3" r="13.9"/><circle cx="1521.9" cy="562.3" r="13.9"/><circle cx="1549.7" cy="562.3" r="13.9"/><circle cx="1577.6" cy="562.3" r="13.9"/><circle cx="1605.4" cy="562.3" r="13.9"/><circle cx="1633.3" cy="562.3" r="13.9"/><circle cx="1661.1" cy="562.3" r="13.9"/><circle cx="1689" cy="562.3" r="13.9"/><circle cx="1716.8" cy="562.3" r="13.9"/><circle cx="1744.7" cy="562.3" r="13.9"/><circle cx="1772.5" cy="562.3" r="13.9"/><circle cx="1800.4" cy="562.3" r="13.9"/><circle cx="1828.2" cy="562.3" r="13.9"/><circle cx="1856.1" cy="562.3" r="13.9"/><circle cx="1883.9" cy="562.3" r="13.9"/><circle cx="1911.8" cy="562.3" r="13.9"/><circle cx="1939.6" cy="562.3" r="13.9"/><circle cx="1967.5" cy="562.3" r="13.9"/><circle cx="1995.3" cy="562.3" r="13.9"/><circle cx="2023.2" cy="562.3" r="13.9"/><circle cx="1346.8" cy="584" r="13.9"/><circle cx="1374.6" cy="584" r="13.9"/><circle cx="1402.5" cy="584" r="13.9"/><circle cx="1430.3" cy="584" r="13.9"/><circle cx="1458.2" cy="584" r="13.9"/><circle cx="1486" cy="584" r="13.9"/><circle cx="1513.9" cy="584" r="13.9"/><circle cx="1541.7" cy="584" r="13.9"/><circle cx="1569.6" cy="584" r="13.9"/><circle cx="1597.4" cy="584" r="13.9"/><circle cx="1625.3" cy="584" r="13.9"/><circle cx="1653.1" cy="584" r="13.9"/><circle cx="1681" cy="584" r="13.9"/><circle cx="1708.8" cy="584" r="13.9"/><circle cx="1736.7" cy="584" r="13.9"/><circle cx="1764.5" cy="584" r="13.9"/><circle cx="1792.4" cy="584" r="13.9"/><circle cx="1820.2" cy="584" r="13.9"/><circle cx="1848.1" cy="584" r="13.9"/><circle cx="1875.9" cy="584" r="13.9"/><circle cx="1903.8" cy="584" r="13.9"/><circle cx="1931.6" cy="584" r="13.9"/><circle cx="1959.5" cy="584" r="13.9"/><circle cx="1987.3" cy="584" r="13.9"/><circle cx="2015.2" cy="584" r="13.9"/><circle cx="2043" cy="584" r="13.9"/><circle cx="1335.8" cy="609.3" r="13.9"/><circle cx="1363.6" cy="609.3" r="13.9"/><circle cx="1391.4" cy="609.3" r="13.9"/><circle cx="1419.3" cy="609.3" r="13.9"/><circle cx="1447.1" cy="609.3" r="13.9"/><circle cx="1475" cy="609.3" r="13.9"/><circle cx="1502.8" cy="609.3" r="13.9"/><circle cx="1530.7" cy="609.3" r="13.9"/><circle cx="1558.5" cy="609.3" r="13.9"/><circle cx="1586.4" cy="609.3" r="13.9"/><circle cx="1614.2" cy="609.3" r="13.9"/><circle cx="1642.1" cy="609.3" r="13.9"/><circle cx="1669.9" cy="609.3" r="13.9"/><circle cx="1697.8" cy="609.3" r="13.9"/><circle cx="1725.6" cy="609.3" r="13.9"/><circle cx="1753.5" cy="609.3" r="13.9"/><circle cx="1781.3" cy="609.3" r="13.9"/><circle cx="1809.2" cy="609.3" r="13.9"/><circle cx="1837" cy="609.3" r="13.9"/><circle cx="1864.9" cy="609.3" r="13.9"/><circle cx="1892.7" cy="609.3" r="13.9"/><circle cx="1920.6" cy="609.3" r="13.9"/><circle cx="1948.4" cy="609.3" r="13.9"/><circle cx="1976.3" cy="609.3" r="13.9"/><circle cx="2004.1" cy="609.3" r="13.9"/><circle cx="2032" cy="609.3" r="13.9"/></g><path d="M1450.1 102 C1456 118.3 1473.7 167 1485.5 200 C1497.3 233 1511.7 274.5 1521.2 300 C1530.7 325.5 1534.7 335.3 1542.3 352.9 C1549.9 370.5 1558.5 389.1 1567 405.8 C1575.5 422.6 1584.6 439 1593.4 453.4 C1602.2 467.8 1612 481.6 1619.9 492.2 C1627.8 502.8 1634.5 510.4 1641 516.9 C1647.5 523.4 1652.7 527.7 1658.7 531 C1664.7 534.3 1670.5 536.6 1676.8 536.6 C1683.1 536.6 1690.2 534 1696.3 531 C1702.4 528 1706.8 524.8 1713.6 518.6 C1720.4 512.4 1728.9 504.5 1737 493.9 C1745.1 483.3 1753.3 469.8 1762 455.1 C1770.7 440.4 1780.2 422.8 1789.1 405.8 C1798 388.8 1807.2 370.5 1815.6 352.9 C1824 335.3 1829.2 325.5 1839.4 300 C1849.6 274.5 1864.2 233 1876.5 200 C1888.8 167 1907.3 118.3 1913.5 102 Z" fill="#ffecc8"/><path d="M1450.1 102 C1456 118.3 1473.7 167 1485.5 200 C1497.3 233 1511.7 274.5 1521.2 300 C1530.7 325.5 1534.7 335.3 1542.3 352.9 C1549.9 370.5 1558.5 389.1 1567 405.8 C1575.5 422.6 1584.6 439 1593.4 453.4 C1602.2 467.8 1612 481.6 1619.9 492.2 C1627.8 502.8 1634.5 510.4 1641 516.9 C1647.5 523.4 1652.7 527.7 1658.7 531 C1664.7 534.3 1670.5 536.6 1676.8 536.6 C1683.1 536.6 1690.2 534 1696.3 531 C1702.4 528 1706.8 524.8 1713.6 518.6 C1720.4 512.4 1728.9 504.5 1737 493.9 C1745.1 483.3 1753.3 469.8 1762 455.1 C1770.7 440.4 1780.2 422.8 1789.1 405.8 C1798 388.8 1807.2 370.5 1815.6 352.9 C1824 335.3 1829.2 325.5 1839.4 300 C1849.6 274.5 1864.2 233 1876.5 200 C1888.8 167 1907.3 118.3 1913.5 102" fill="none" stroke="#0a0a78" stroke-width="1.7"/></g><g font-family="'Liberation Sans',Arial,sans-serif" font-size="58.5" text-anchor="middle"><text x="1681.8" y="249.8">SPM tip</text><text x="1682.5" y="319.5">(Ag or Au)</text></g><polygon points="301.6,867.5 1818,867.3 2041,1416.4 79,1416.6" fill="url(#slabV)"/><polygon points="301.6,867.5 1818,867.3 2041,1416.4 79,1416.6" fill="url(#slabR)"/><path d="M79 1416.4 L2041 1416.2 L2017 1433.2 Q2013 1435.4 2006 1435.4 L112 1435.4 Q106 1435.4 102 1432.5 Z" fill="url(#slabF)"/><defs><g id="tpp"><circle cx="-27" cy="-32.8" r="3.8" fill="url(#gH)"/><circle cx="-15.3" cy="-23.8" r="3.8" fill="url(#gH)"/><circle cx="44.5" cy="-21.5" r="3.8" fill="url(#gH)"/><circle cx="32.8" cy="-11.5" r="3.8" fill="url(#gH)"/><circle cx="-32.8" cy="16.2" r="3.8" fill="url(#gH)"/><circle cx="-44.5" cy="26.3" r="3.8" fill="url(#gH)"/><circle cx="15.3" cy="28.6" r="3.8" fill="url(#gH)"/><circle cx="27" cy="37.6" r="3.8" fill="url(#gH)"/><circle cx="-28.3" cy="-28.6" r="6.7" fill="url(#gC)"/><circle cx="-21.7" cy="-23.5" r="6.7" fill="url(#gC)"/><circle cx="38.1" cy="-23.3" r="6.7" fill="url(#gC)"/><circle cx="31.5" cy="-17.7" r="6.7" fill="url(#gC)"/><circle cx="-31.5" cy="20.4" r="6.7" fill="url(#gC)"/><circle cx="-38.1" cy="26" r="6.7" fill="url(#gC)"/><circle cx="21.7" cy="26.2" r="6.7" fill="url(#gC)"/><circle cx="28.3" cy="31.3" r="6.7" fill="url(#gC)"/><circle cx="-41.6" cy="-32.2" r="3.8" fill="url(#gH)"/><circle cx="41.6" cy="-35.7" r="3.8" fill="url(#gH)"/><circle cx="-36.5" cy="-28.3" r="6.7" fill="url(#gC)"/><circle cx="36.5" cy="-31.3" r="6.7" fill="url(#gC)"/><circle cx="8.9" cy="-28.1" r="3.8" fill="url(#gH)"/><circle cx="-8.9" cy="-27.4" r="3.8" fill="url(#gH)"/><circle cx="4.5" cy="-23.3" r="6.7" fill="url(#gC)"/><circle cx="-4.5" cy="-22.9" r="6.7" fill="url(#gC)"/><circle cx="-23.3" cy="-18.1" r="6.7" fill="url(#gC)"/><circle cx="23.3" cy="-20" r="6.7" fill="url(#gC)"/><circle cx="7.3" cy="-15.9" r="6.7" fill="url(#gC)"/><circle cx="-7.3" cy="-15.3" r="6.7" fill="url(#gC)"/><circle cx="16.2" cy="-13.9" r="6.7" fill="url(#gC)"/><circle cx="-16.2" cy="-12.6" r="6.7" fill="url(#gC)"/><circle cx="0" cy="-9.5" r="6.2" fill="url(#gN)"/><circle cx="-34" cy="-5.8" r="3.8" fill="url(#gH)"/><circle cx="34" cy="-8.6" r="3.8" fill="url(#gH)"/><circle cx="-19.1" cy="-5.2" r="6.7" fill="url(#gC)"/><circle cx="19.1" cy="-6.8" r="6.7" fill="url(#gC)"/><circle cx="-28.2" cy="-2.5" r="6.7" fill="url(#gC)"/><circle cx="28.2" cy="-4.9" r="6.7" fill="url(#gC)"/><circle cx="-11.6" cy="0.5" r="6.2" fill="url(#gN)"/><circle cx="11.6" cy="-0.5" r="6.2" fill="url(#gN)"/><circle cx="0" cy="0" r="4.8" fill="url(#gM)"/><circle cx="-28.2" cy="4.9" r="6.7" fill="url(#gC)"/><circle cx="28.2" cy="2.5" r="6.7" fill="url(#gC)"/><circle cx="-19.1" cy="6.8" r="6.7" fill="url(#gC)"/><circle cx="19.1" cy="5.2" r="6.7" fill="url(#gC)"/><circle cx="-34" cy="8.6" r="3.8" fill="url(#gH)"/><circle cx="34" cy="5.8" r="3.8" fill="url(#gH)"/><circle cx="0" cy="9.5" r="6.2" fill="url(#gN)"/><circle cx="-16.2" cy="13.9" r="6.7" fill="url(#gC)"/><circle cx="16.2" cy="12.6" r="6.7" fill="url(#gC)"/><circle cx="7.3" cy="15.3" r="6.7" fill="url(#gC)"/><circle cx="-7.3" cy="15.9" r="6.7" fill="url(#gC)"/><circle cx="-23.3" cy="20" r="6.7" fill="url(#gC)"/><circle cx="23.3" cy="18.1" r="6.7" fill="url(#gC)"/><circle cx="4.5" cy="22.9" r="6.7" fill="url(#gC)"/><circle cx="-4.5" cy="23.3" r="6.7" fill="url(#gC)"/><circle cx="8.9" cy="27.4" r="3.8" fill="url(#gH)"/><circle cx="-8.9" cy="28.1" r="3.8" fill="url(#gH)"/><circle cx="-36.5" cy="31.3" r="6.7" fill="url(#gC)"/><circle cx="36.5" cy="28.3" r="6.7" fill="url(#gC)"/><circle cx="-41.6" cy="35.7" r="3.8" fill="url(#gH)"/><circle cx="41.6" cy="32.2" r="3.8" fill="url(#gH)"/><circle cx="28.3" cy="-33.7" r="6.7" fill="url(#gC)"/><circle cx="21.7" cy="-28" r="6.7" fill="url(#gC)"/><circle cx="-38.1" cy="-22.8" r="6.7" fill="url(#gC)"/><circle cx="-31.5" cy="-17.7" r="6.7" fill="url(#gC)"/><circle cx="31.5" cy="15" r="6.7" fill="url(#gC)"/><circle cx="38.1" cy="20.2" r="6.7" fill="url(#gC)"/><circle cx="-21.7" cy="25.3" r="6.7" fill="url(#gC)"/><circle cx="-28.3" cy="31" r="6.7" fill="url(#gC)"/><circle cx="27" cy="-39.9" r="3.8" fill="url(#gH)"/><circle cx="15.3" cy="-29.8" r="3.8" fill="url(#gH)"/><circle cx="-44.5" cy="-22.6" r="3.8" fill="url(#gH)"/><circle cx="-32.8" cy="-13.5" r="3.8" fill="url(#gH)"/><circle cx="32.8" cy="8.7" r="3.8" fill="url(#gH)"/><circle cx="44.5" cy="17.8" r="3.8" fill="url(#gH)"/><circle cx="-15.3" cy="25.1" r="3.8" fill="url(#gH)"/><circle cx="-27" cy="35.1" r="3.8" fill="url(#gH)"/></g></defs><g filter="url(#shL)"><use href="#tpp" x="437" y="927.3"/><use href="#tpp" x="547.2" y="926.7"/><use href="#tpp" x="657.5" y="926.7"/><use href="#tpp" x="437" y="1017"/><use href="#tpp" x="547.2" y="1017"/><use href="#tpp" x="657.5" y="1017"/><path d="M436 914.3L453.2 899.6" stroke="#e81818" stroke-width="3" stroke-linecap="round"/><circle cx="436" cy="914.3" r="4.8" fill="url(#gO)"/><circle cx="453.2" cy="899.6" r="4.8" fill="url(#gO)"/><path d="M548.3 1006L565.3 991.3" stroke="#e81818" stroke-width="3" stroke-linecap="round"/><circle cx="548.3" cy="1006" r="4.8" fill="url(#gO)"/><circle cx="565.3" cy="991.3" r="4.8" fill="url(#gO)"/><path d="M658.1 1005.2L674.7 990.7" stroke="#e81818" stroke-width="3" stroke-linecap="round"/><circle cx="658.1" cy="1005.2" r="4.8" fill="url(#gO)"/><circle cx="674.7" cy="990.7" r="4.8" fill="url(#gO)"/><path d="M586.9 968L605 977.9" stroke="#e81818" stroke-width="3" stroke-linecap="round"/><circle cx="586.9" cy="968" r="4.8" fill="url(#gO)"/><circle cx="605" cy="977.9" r="4.8" fill="url(#gO)"/><path d="M366.3 959.8L357.7 962.6" stroke="#e81818" stroke-width="2.6" stroke-linecap="round"/><path d="M357.7 962.6L349.1 965.5" stroke="#e8e8e8" stroke-width="2.6" stroke-linecap="round"/><path d="M366.3 959.8L371.4 967.2" stroke="#e81818" stroke-width="2.6" stroke-linecap="round"/><path d="M371.4 967.2L376.4 974.7" stroke="#e8e8e8" stroke-width="2.6" stroke-linecap="round"/><circle cx="349.1" cy="965.5" r="4.8" fill="url(#gH)"/><circle cx="376.4" cy="974.7" r="4.8" fill="url(#gH)"/><circle cx="366.3" cy="959.8" r="5.2" fill="url(#gO)"/><path d="M488.9 980.4L494.2 974.8" stroke="#e81818" stroke-width="2.6" stroke-linecap="round"/><path d="M494.2 974.8L499.6 969.3" stroke="#e8e8e8" stroke-width="2.6" stroke-linecap="round"/><circle cx="499.6" cy="969.3" r="4.6" fill="url(#gH)"/><circle cx="488.9" cy="980.4" r="4.9" fill="url(#gO)"/></g><defs><linearGradient id="rg1" x1="0" y1="0" x2="0" y2="1"><stop offset="0" stop-color="#fff" stop-opacity="0.5"/><stop offset="1" stop-color="#fff" stop-opacity="0"/></linearGradient><mask id="rm1" maskUnits="userSpaceOnUse" x="340" y="990" width="45" height="26"><rect x="340" y="990" width="45" height="26" fill="url(#rg1)"/></mask></defs><g mask="url(#rm1)"><g transform="translate(0 1971) scale(1 -1)"><path d="M366.3 959.8L357.7 962.6" stroke="#e81818" stroke-width="2.6" stroke-linecap="round"/><path d="M357.7 962.6L349.1 965.5" stroke="#e8e8e8" stroke-width="2.6" stroke-linecap="round"/><path d="M366.3 959.8L371.4 967.2" stroke="#e81818" stroke-width="2.6" stroke-linecap="round"/><path d="M371.4 967.2L376.4 974.7" stroke="#e8e8e8" stroke-width="2.6" stroke-linecap="round"/><circle cx="349.1" cy="965.5" r="4.8" fill="url(#gH)"/><circle cx="376.4" cy="974.7" r="4.8" fill="url(#gH)"/><circle cx="366.3" cy="959.8" r="5.2" fill="url(#gO)"/></g></g><g><defs><linearGradient id="rg2" x1="0" y1="0" x2="0" y2="1"><stop offset="0" stop-color="#fff" stop-opacity="0.42"/><stop offset="1" stop-color="#fff" stop-opacity="0"/></linearGradient><mask id="rm2" maskUnits="userSpaceOnUse" x="815.7" y="972.9" width="97.5" height="26"><rect x="815.7" y="972.9" width="97.5" height="26" fill="url(#rg2)"/></mask></defs><g mask="url(#rm2)"><g transform="translate(0 1936.6) scale(1 -1)"><path d="M885.9 924.8L876.2 914.7" stroke="#3a747a" stroke-width="4.6" stroke-linecap="round"/><path d="M876.2 914.7L857.6 924.3" stroke="#3a747a" stroke-width="4.6" stroke-linecap="round"/><path d="M857.6 924.3L848.9 944.6" stroke="#3a747a" stroke-width="4.6" stroke-linecap="round"/><path d="M848.9 944.6L857.6 954.7" stroke="#3a747a" stroke-width="4.6" stroke-linecap="round"/><path d="M857.6 954.7L876.7 945.2" stroke="#3a747a" stroke-width="4.6" stroke-linecap="round"/><path d="M876.7 945.2L885.9 924.8" stroke="#3a747a" stroke-width="4.6" stroke-linecap="round"/><path d="M885.9 924.8L894.5 920.6" stroke="#3a747a" stroke-width="4.6" stroke-linecap="round"/><path d="M894.5 920.6L903.1 916.3" stroke="#e81818" stroke-width="4.6" stroke-linecap="round"/><path d="M848.9 944.6L837.3 949.9" stroke="#3a747a" stroke-width="4.6" stroke-linecap="round"/><path d="M837.3 949.9L825.7 955.2" stroke="#e8da1a" stroke-width="4.6" stroke-linecap="round"/><circle cx="885.9" cy="924.8" r="6.9" fill="url(#gTe)"/><circle cx="876.2" cy="914.7" r="6.9" fill="url(#gTe)"/><circle cx="857.6" cy="924.3" r="6.9" fill="url(#gTe)"/><circle cx="848.9" cy="944.6" r="6.9" fill="url(#gTe)"/><circle cx="857.6" cy="954.7" r="6.9" fill="url(#gTe)"/><circle cx="876.7" cy="945.2" r="6.9" fill="url(#gTe)"/><circle cx="903.1" cy="916.3" r="7" fill="url(#gO)"/><circle cx="825.7" cy="955.2" r="7" fill="url(#gS)"/></g></g><path d="M885.9 924.8L876.2 914.7" stroke="#3a747a" stroke-width="4.6" stroke-linecap="round"/><path d="M876.2 914.7L857.6 924.3" stroke="#3a747a" stroke-width="4.6" stroke-linecap="round"/><path d="M857.6 924.3L848.9 944.6" stroke="#3a747a" stroke-width="4.6" stroke-linecap="round"/><path d="M848.9 944.6L857.6 954.7" stroke="#3a747a" stroke-width="4.6" stroke-linecap="round"/><path d="M857.6 954.7L876.7 945.2" stroke="#3a747a" stroke-width="4.6" stroke-linecap="round"/><path d="M876.7 945.2L885.9 924.8" stroke="#3a747a" stroke-width="4.6" stroke-linecap="round"/><path d="M885.9 924.8L894.5 920.6" stroke="#3a747a" stroke-width="4.6" stroke-linecap="round"/><path d="M894.5 920.6L903.1 916.3" stroke="#e81818" stroke-width="4.6" stroke-linecap="round"/><path d="M848.9 944.6L837.3 949.9" stroke="#3a747a" stroke-width="4.6" stroke-linecap="round"/><path d="M837.3 949.9L825.7 955.2" stroke="#e8da1a" stroke-width="4.6" stroke-linecap="round"/><circle cx="885.9" cy="924.8" r="6.9" fill="url(#gTe)"/><circle cx="876.2" cy="914.7" r="6.9" fill="url(#gTe)"/><circle cx="857.6" cy="924.3" r="6.9" fill="url(#gTe)"/><circle cx="848.9" cy="944.6" r="6.9" fill="url(#gTe)"/><circle cx="857.6" cy="954.7" r="6.9" fill="url(#gTe)"/><circle cx="876.7" cy="945.2" r="6.9" fill="url(#gTe)"/><circle cx="903.1" cy="916.3" r="7" fill="url(#gO)"/><circle cx="825.7" cy="955.2" r="7" fill="url(#gS)"/><defs><linearGradient id="rg3" x1="0" y1="0" x2="0" y2="1"><stop offset="0" stop-color="#fff" stop-opacity="0.42"/><stop offset="1" stop-color="#fff" stop-opacity="0"/></linearGradient><mask id="rm3" maskUnits="userSpaceOnUse" x="934.1" y="1009.4" width="90.6" height="26"><rect x="934.1" y="1009.4" width="90.6" height="26" fill="url(#rg3)"/></mask></defs><g mask="url(#rm3)"><g transform="translate(0 1981.6) scale(1 -1)"><path d="M960 922.7L979.3 915.5" stroke="#3a747a" stroke-width="4.6" stroke-linecap="round"/><path d="M979.3 915.5L996.2 928.2" stroke="#3a747a" stroke-width="4.6" stroke-linecap="round"/><path d="M996.2 928.2L993.8 948.6" stroke="#3a747a" stroke-width="4.6" stroke-linecap="round"/><path d="M993.8 948.6L974.5 957.8" stroke="#3a747a" stroke-width="4.6" stroke-linecap="round"/><path d="M974.5 957.8L957.9 944.1" stroke="#3a747a" stroke-width="4.6" stroke-linecap="round"/><path d="M957.9 944.1L960 922.7" stroke="#3a747a" stroke-width="4.6" stroke-linecap="round"/><path d="M960 922.7L952.1 916.7" stroke="#3a747a" stroke-width="4.6" stroke-linecap="round"/><path d="M952.1 916.7L944.1 910.8" stroke="#e81818" stroke-width="4.6" stroke-linecap="round"/><path d="M993.8 948.6L1004.3 956.1" stroke="#3a747a" stroke-width="4.6" stroke-linecap="round"/><path d="M1004.3 956.1L1014.7 963.7" stroke="#e8da1a" stroke-width="4.6" stroke-linecap="round"/><circle cx="960" cy="922.7" r="6.9" fill="url(#gTe)"/><circle cx="979.3" cy="915.5" r="6.9" fill="url(#gTe)"/><circle cx="996.2" cy="928.2" r="6.9" fill="url(#gTe)"/><circle cx="993.8" cy="948.6" r="6.9" fill="url(#gTe)"/><circle cx="974.5" cy="957.8" r="6.9" fill="url(#gTe)"/><circle cx="957.9" cy="944.1" r="6.9" fill="url(#gTe)"/><circle cx="944.1" cy="910.8" r="7" fill="url(#gO)"/><circle cx="1014.7" cy="963.7" r="7" fill="url(#gS)"/></g></g><path d="M960 922.7L979.3 915.5" stroke="#3a747a" stroke-width="4.6" stroke-linecap="round"/><path d="M979.3 915.5L996.2 928.2" stroke="#3a747a" stroke-width="4.6" stroke-linecap="round"/><path d="M996.2 928.2L993.8 948.6" stroke="#3a747a" stroke-width="4.6" stroke-linecap="round"/><path d="M993.8 948.6L974.5 957.8" stroke="#3a747a" stroke-width="4.6" stroke-linecap="round"/><path d="M974.5 957.8L957.9 944.1" stroke="#3a747a" stroke-width="4.6" stroke-linecap="round"/><path d="M957.9 944.1L960 922.7" stroke="#3a747a" stroke-width="4.6" stroke-linecap="round"/><path d="M960 922.7L952.1 916.7" stroke="#3a747a" stroke-width="4.6" stroke-linecap="round"/><path d="M952.1 916.7L944.1 910.8" stroke="#e81818" stroke-width="4.6" stroke-linecap="round"/><path d="M993.8 948.6L1004.3 956.1" stroke="#3a747a" stroke-width="4.6" stroke-linecap="round"/><path d="M1004.3 956.1L1014.7 963.7" stroke="#e8da1a" stroke-width="4.6" stroke-linecap="round"/><circle cx="960" cy="922.7" r="6.9" fill="url(#gTe)"/><circle cx="979.3" cy="915.5" r="6.9" fill="url(#gTe)"/><circle cx="996.2" cy="928.2" r="6.9" fill="url(#gTe)"/><circle cx="993.8" cy="948.6" r="6.9" fill="url(#gTe)"/><circle cx="974.5" cy="957.8" r="6.9" fill="url(#gTe)"/><circle cx="957.9" cy="944.1" r="6.9" fill="url(#gTe)"/><circle cx="944.1" cy="910.8" r="7" fill="url(#gO)"/><circle cx="1014.7" cy="963.7" r="7" fill="url(#gS)"/><defs><linearGradient id="rg4" x1="0" y1="0" x2="0" y2="1"><stop offset="0" stop-color="#fff" stop-opacity="0.42"/><stop offset="1" stop-color="#fff" stop-opacity="0"/></linearGradient><mask id="rm4" maskUnits="userSpaceOnUse" x="845" y="1085.7" width="62.8" height="26"><rect x="845" y="1085.7" width="62.8" height="26" fill="url(#rg4)"/></mask></defs><g mask="url(#rm4)"><g transform="translate(0 2149.4) scale(1 -1)"><path d="M885.9 994.9L864.8 996.2" stroke="#3a747a" stroke-width="4.6" stroke-linecap="round"/><path d="M864.8 996.2L855 1012.8" stroke="#3a747a" stroke-width="4.6" stroke-linecap="round"/><path d="M855 1012.8L866.1 1031.9" stroke="#3a747a" stroke-width="4.6" stroke-linecap="round"/><path d="M866.1 1031.9L887.8 1031.9" stroke="#3a747a" stroke-width="4.6" stroke-linecap="round"/><path d="M887.8 1031.9L897.8 1012.8" stroke="#3a747a" stroke-width="4.6" stroke-linecap="round"/><path d="M897.8 1012.8L885.9 994.9" stroke="#3a747a" stroke-width="4.6" stroke-linecap="round"/><path d="M885.9 994.9L891 985.6" stroke="#3a747a" stroke-width="4.6" stroke-linecap="round"/><path d="M891 985.6L896 976.4" stroke="#e81818" stroke-width="4.6" stroke-linecap="round"/><path d="M866.1 1031.9L860.8 1043.5" stroke="#3a747a" stroke-width="4.6" stroke-linecap="round"/><path d="M860.8 1043.5L855.5 1055.2" stroke="#e8da1a" stroke-width="4.6" stroke-linecap="round"/><circle cx="885.9" cy="994.9" r="6.9" fill="url(#gTe)"/><circle cx="864.8" cy="996.2" r="6.9" fill="url(#gTe)"/><circle cx="855" cy="1012.8" r="6.9" fill="url(#gTe)"/><circle cx="866.1" cy="1031.9" r="6.9" fill="url(#gTe)"/><circle cx="887.8" cy="1031.9" r="6.9" fill="url(#gTe)"/><circle cx="897.8" cy="1012.8" r="6.9" fill="url(#gTe)"/><circle cx="896" cy="976.4" r="7" fill="url(#gO)"/><circle cx="855.5" cy="1055.2" r="7" fill="url(#gS)"/></g></g><path d="M885.9 994.9L864.8 996.2" stroke="#3a747a" stroke-width="4.6" stroke-linecap="round"/><path d="M864.8 996.2L855 1012.8" stroke="#3a747a" stroke-width="4.6" stroke-linecap="round"/><path d="M855 1012.8L866.1 1031.9" stroke="#3a747a" stroke-width="4.6" stroke-linecap="round"/><path d="M866.1 1031.9L887.8 1031.9" stroke="#3a747a" stroke-width="4.6" stroke-linecap="round"/><path d="M887.8 1031.9L897.8 1012.8" stroke="#3a747a" stroke-width="4.6" stroke-linecap="round"/><path d="M897.8 1012.8L885.9 994.9" stroke="#3a747a" stroke-width="4.6" stroke-linecap="round"/><path d="M885.9 994.9L891 985.6" stroke="#3a747a" stroke-width="4.6" stroke-linecap="round"/><path d="M891 985.6L896 976.4" stroke="#e81818" stroke-width="4.6" stroke-linecap="round"/><path d="M866.1 1031.9L860.8 1043.5" stroke="#3a747a" stroke-width="4.6" stroke-linecap="round"/><path d="M860.8 1043.5L855.5 1055.2" stroke="#e8da1a" stroke-width="4.6" stroke-linecap="round"/><circle cx="885.9" cy="994.9" r="6.9" fill="url(#gTe)"/><circle cx="864.8" cy="996.2" r="6.9" fill="url(#gTe)"/><circle cx="855" cy="1012.8" r="6.9" fill="url(#gTe)"/><circle cx="866.1" cy="1031.9" r="6.9" fill="url(#gTe)"/><circle cx="887.8" cy="1031.9" r="6.9" fill="url(#gTe)"/><circle cx="897.8" cy="1012.8" r="6.9" fill="url(#gTe)"/><circle cx="896" cy="976.4" r="7" fill="url(#gO)"/><circle cx="855.5" cy="1055.2" r="7" fill="url(#gS)"/><defs><linearGradient id="rg5" x1="0" y1="0" x2="0" y2="1"><stop offset="0" stop-color="#fff" stop-opacity="0.42"/><stop offset="1" stop-color="#fff" stop-opacity="0"/></linearGradient><mask id="rm5" maskUnits="userSpaceOnUse" x="909.8" y="1064.5" width="75.3" height="26"><rect x="909.8" y="1064.5" width="75.3" height="26" fill="url(#rg5)"/></mask></defs><g mask="url(#rm5)"><g transform="translate(0 2099.6) scale(1 -1)"><path d="M932.2 973.7L953.9 969.7" stroke="#3a747a" stroke-width="4.6" stroke-linecap="round"/><path d="M953.9 969.7L967.1 987.5" stroke="#3a747a" stroke-width="4.6" stroke-linecap="round"/><path d="M967.1 987.5L958.7 1006" stroke="#3a747a" stroke-width="4.6" stroke-linecap="round"/><path d="M958.7 1006L938 1010.2" stroke="#3a747a" stroke-width="4.6" stroke-linecap="round"/><path d="M938 1010.2L924.8 993" stroke="#3a747a" stroke-width="4.6" stroke-linecap="round"/><path d="M924.8 993L932.2 973.7" stroke="#3a747a" stroke-width="4.6" stroke-linecap="round"/><path d="M932.2 973.7L926 965.5" stroke="#3a747a" stroke-width="4.6" stroke-linecap="round"/><path d="M926 965.5L919.8 957.3" stroke="#e81818" stroke-width="4.6" stroke-linecap="round"/><path d="M958.7 1006L966.9 1016.3" stroke="#3a747a" stroke-width="4.6" stroke-linecap="round"/><path d="M966.9 1016.3L975.1 1026.6" stroke="#e8da1a" stroke-width="4.6" stroke-linecap="round"/><circle cx="932.2" cy="973.7" r="6.9" fill="url(#gTe)"/><circle cx="953.9" cy="969.7" r="6.9" fill="url(#gTe)"/><circle cx="967.1" cy="987.5" r="6.9" fill="url(#gTe)"/><circle cx="958.7" cy="1006" r="6.9" fill="url(#gTe)"/><circle cx="938" cy="1010.2" r="6.9" fill="url(#gTe)"/><circle cx="924.8" cy="993" r="6.9" fill="url(#gTe)"/><circle cx="919.8" cy="957.3" r="7" fill="url(#gO)"/><circle cx="975.1" cy="1026.6" r="7" fill="url(#gS)"/></g></g><path d="M932.2 973.7L953.9 969.7" stroke="#3a747a" stroke-width="4.6" stroke-linecap="round"/><path d="M953.9 969.7L967.1 987.5" stroke="#3a747a" stroke-width="4.6" stroke-linecap="round"/><path d="M967.1 987.5L958.7 1006" stroke="#3a747a" stroke-width="4.6" stroke-linecap="round"/><path d="M958.7 1006L938 1010.2" stroke="#3a747a" stroke-width="4.6" stroke-linecap="round"/><path d="M938 1010.2L924.8 993" stroke="#3a747a" stroke-width="4.6" stroke-linecap="round"/><path d="M924.8 993L932.2 973.7" stroke="#3a747a" stroke-width="4.6" stroke-linecap="round"/><path d="M932.2 973.7L926 965.5" stroke="#3a747a" stroke-width="4.6" stroke-linecap="round"/><path d="M926 965.5L919.8 957.3" stroke="#e81818" stroke-width="4.6" stroke-linecap="round"/><path d="M958.7 1006L966.9 1016.3" stroke="#3a747a" stroke-width="4.6" stroke-linecap="round"/><path d="M966.9 1016.3L975.1 1026.6" stroke="#e8da1a" stroke-width="4.6" stroke-linecap="round"/><circle cx="932.2" cy="973.7" r="6.9" fill="url(#gTe)"/><circle cx="953.9" cy="969.7" r="6.9" fill="url(#gTe)"/><circle cx="967.1" cy="987.5" r="6.9" fill="url(#gTe)"/><circle cx="958.7" cy="1006" r="6.9" fill="url(#gTe)"/><circle cx="938" cy="1010.2" r="6.9" fill="url(#gTe)"/><circle cx="924.8" cy="993" r="6.9" fill="url(#gTe)"/><circle cx="919.8" cy="957.3" r="7" fill="url(#gO)"/><circle cx="975.1" cy="1026.6" r="7" fill="url(#gS)"/><defs><linearGradient id="rg6" x1="0" y1="0" x2="0" y2="1"><stop offset="0" stop-color="#fff" stop-opacity="0.35"/><stop offset="1" stop-color="#fff" stop-opacity="0"/></linearGradient><mask id="rm6" maskUnits="userSpaceOnUse" x="1150" y="1019" width="170" height="26"><rect x="1150" y="1019" width="170" height="26" fill="url(#rg6)"/></mask></defs><g mask="url(#rm6)"><g transform="translate(0 1996) scale(1 -1)"><path d="M1196.1 889.1L1216.5 899.1" stroke="#3a747a" stroke-width="4.6" stroke-linecap="round"/><path d="M1216.5 899.1L1218.6 921.4" stroke="#3a747a" stroke-width="4.6" stroke-linecap="round"/><path d="M1218.6 921.4L1200.6 931.4" stroke="#3a747a" stroke-width="4.6" stroke-linecap="round"/><path d="M1200.6 931.4L1180.8 923.5" stroke="#3a747a" stroke-width="4.6" stroke-linecap="round"/><path d="M1180.8 923.5L1178.2 902.3" stroke="#3a747a" stroke-width="4.6" stroke-linecap="round"/><path d="M1178.2 902.3L1196.1 889.1" stroke="#3a747a" stroke-width="4.6" stroke-linecap="round"/><path d="M1268.1 908.9L1289.8 908.4" stroke="#3a747a" stroke-width="4.6" stroke-linecap="round"/><path d="M1289.8 908.4L1301.7 927.4" stroke="#3a747a" stroke-width="4.6" stroke-linecap="round"/><path d="M1301.7 927.4L1291.3 945.9" stroke="#3a747a" stroke-width="4.6" stroke-linecap="round"/><path d="M1291.3 945.9L1269.4 946.7" stroke="#3a747a" stroke-width="4.6" stroke-linecap="round"/><path d="M1269.4 946.7L1257.5 928.2" stroke="#3a747a" stroke-width="4.6" stroke-linecap="round"/><path d="M1257.5 928.2L1268.1 908.9" stroke="#3a747a" stroke-width="4.6" stroke-linecap="round"/><path d="M1216.5 899.1L1225.1 892.5" stroke="#3a747a" stroke-width="4.6" stroke-linecap="round"/><path d="M1225.1 892.5L1233.7 885.9" stroke="#e81818" stroke-width="4.6" stroke-linecap="round"/><path d="M1233.7 885.9L1256.7 890.4" stroke="#e81818" stroke-width="4.6" stroke-linecap="round"/><path d="M1256.7 890.4L1262.4 899.7" stroke="#e81818" stroke-width="4.6" stroke-linecap="round"/><path d="M1262.4 899.7L1268.1 908.9" stroke="#3a747a" stroke-width="4.6" stroke-linecap="round"/><path d="M1180.8 923.5L1170.2 931.1" stroke="#3a747a" stroke-width="4.6" stroke-linecap="round"/><path d="M1170.2 931.1L1159.6 938.8" stroke="#e8da1a" stroke-width="4.6" stroke-linecap="round"/><path d="M1291.3 945.9L1298 957.2" stroke="#3a747a" stroke-width="4.6" stroke-linecap="round"/><path d="M1298 957.2L1304.6 968.4" stroke="#e8da1a" stroke-width="4.6" stroke-linecap="round"/><circle cx="1196.1" cy="889.1" r="6.9" fill="url(#gTe)"/><circle cx="1216.5" cy="899.1" r="6.9" fill="url(#gTe)"/><circle cx="1218.6" cy="921.4" r="6.9" fill="url(#gTe)"/><circle cx="1200.6" cy="931.4" r="6.9" fill="url(#gTe)"/><circle cx="1180.8" cy="923.5" r="6.9" fill="url(#gTe)"/><circle cx="1178.2" cy="902.3" r="6.9" fill="url(#gTe)"/><circle cx="1268.1" cy="908.9" r="6.9" fill="url(#gTe)"/><circle cx="1289.8" cy="908.4" r="6.9" fill="url(#gTe)"/><circle cx="1301.7" cy="927.4" r="6.9" fill="url(#gTe)"/><circle cx="1291.3" cy="945.9" r="6.9" fill="url(#gTe)"/><circle cx="1269.4" cy="946.7" r="6.9" fill="url(#gTe)"/><circle cx="1257.5" cy="928.2" r="6.9" fill="url(#gTe)"/><circle cx="1233.7" cy="885.9" r="7" fill="url(#gO)"/><circle cx="1256.7" cy="890.4" r="7" fill="url(#gO)"/><circle cx="1159.6" cy="938.8" r="7" fill="url(#gS)"/><circle cx="1304.6" cy="968.4" r="7" fill="url(#gS)"/></g></g><path d="M1196.1 889.1L1216.5 899.1" stroke="#3a747a" stroke-width="4.6" stroke-linecap="round"/><path d="M1216.5 899.1L1218.6 921.4" stroke="#3a747a" stroke-width="4.6" stroke-linecap="round"/><path d="M1218.6 921.4L1200.6 931.4" stroke="#3a747a" stroke-width="4.6" stroke-linecap="round"/><path d="M1200.6 931.4L1180.8 923.5" stroke="#3a747a" stroke-width="4.6" stroke-linecap="round"/><path d="M1180.8 923.5L1178.2 902.3" stroke="#3a747a" stroke-width="4.6" stroke-linecap="round"/><path d="M1178.2 902.3L1196.1 889.1" stroke="#3a747a" stroke-width="4.6" stroke-linecap="round"/><path d="M1268.1 908.9L1289.8 908.4" stroke="#3a747a" stroke-width="4.6" stroke-linecap="round"/><path d="M1289.8 908.4L1301.7 927.4" stroke="#3a747a" stroke-width="4.6" stroke-linecap="round"/><path d="M1301.7 927.4L1291.3 945.9" stroke="#3a747a" stroke-width="4.6" stroke-linecap="round"/><path d="M1291.3 945.9L1269.4 946.7" stroke="#3a747a" stroke-width="4.6" stroke-linecap="round"/><path d="M1269.4 946.7L1257.5 928.2" stroke="#3a747a" stroke-width="4.6" stroke-linecap="round"/><path d="M1257.5 928.2L1268.1 908.9" stroke="#3a747a" stroke-width="4.6" stroke-linecap="round"/><path d="M1216.5 899.1L1225.1 892.5" stroke="#3a747a" stroke-width="4.6" stroke-linecap="round"/><path d="M1225.1 892.5L1233.7 885.9" stroke="#e81818" stroke-width="4.6" stroke-linecap="round"/><path d="M1233.7 885.9L1256.7 890.4" stroke="#e81818" stroke-width="4.6" stroke-linecap="round"/><path d="M1256.7 890.4L1262.4 899.7" stroke="#e81818" stroke-width="4.6" stroke-linecap="round"/><path d="M1262.4 899.7L1268.1 908.9" stroke="#3a747a" stroke-width="4.6" stroke-linecap="round"/><path d="M1180.8 923.5L1170.2 931.1" stroke="#3a747a" stroke-width="4.6" stroke-linecap="round"/><path d="M1170.2 931.1L1159.6 938.8" stroke="#e8da1a" stroke-width="4.6" stroke-linecap="round"/><path d="M1291.3 945.9L1298 957.2" stroke="#3a747a" stroke-width="4.6" stroke-linecap="round"/><path d="M1298 957.2L1304.6 968.4" stroke="#e8da1a" stroke-width="4.6" stroke-linecap="round"/><circle cx="1196.1" cy="889.1" r="6.9" fill="url(#gTe)"/><circle cx="1216.5" cy="899.1" r="6.9" fill="url(#gTe)"/><circle cx="1218.6" cy="921.4" r="6.9" fill="url(#gTe)"/><circle cx="1200.6" cy="931.4" r="6.9" fill="url(#gTe)"/><circle cx="1180.8" cy="923.5" r="6.9" fill="url(#gTe)"/><circle cx="1178.2" cy="902.3" r="6.9" fill="url(#gTe)"/><circle cx="1268.1" cy="908.9" r="6.9" fill="url(#gTe)"/><circle cx="1289.8" cy="908.4" r="6.9" fill="url(#gTe)"/><circle cx="1301.7" cy="927.4" r="6.9" fill="url(#gTe)"/><circle cx="1291.3" cy="945.9" r="6.9" fill="url(#gTe)"/><circle cx="1269.4" cy="946.7" r="6.9" fill="url(#gTe)"/><circle cx="1257.5" cy="928.2" r="6.9" fill="url(#gTe)"/><circle cx="1233.7" cy="885.9" r="7" fill="url(#gO)"/><circle cx="1256.7" cy="890.4" r="7" fill="url(#gO)"/><circle cx="1159.6" cy="938.8" r="7" fill="url(#gS)"/><circle cx="1304.6" cy="968.4" r="7" fill="url(#gS)"/><path d="M1185.6 989.6L1164.4 988.3" stroke="#3a747a" stroke-width="4.6" stroke-linecap="round"/><path d="M1164.4 988.3L1151.7 1006" stroke="#3a747a" stroke-width="4.6" stroke-linecap="round"/><path d="M1151.7 1006L1162.3 1026.1" stroke="#3a747a" stroke-width="4.6" stroke-linecap="round"/><path d="M1162.3 1026.1L1183.4 1026.6" stroke="#3a747a" stroke-width="4.6" stroke-linecap="round"/><path d="M1183.4 1026.6L1195.9 1009.4" stroke="#3a747a" stroke-width="4.6" stroke-linecap="round"/><path d="M1195.9 1009.4L1185.6 989.6" stroke="#3a747a" stroke-width="4.6" stroke-linecap="round"/><path d="M1237.7 981.1L1258.3 973.2" stroke="#3a747a" stroke-width="4.6" stroke-linecap="round"/><path d="M1258.3 973.2L1275.2 986.4" stroke="#3a747a" stroke-width="4.6" stroke-linecap="round"/><path d="M1275.2 986.4L1273.4 1006.8" stroke="#3a747a" stroke-width="4.6" stroke-linecap="round"/><path d="M1273.4 1006.8L1252.7 1016" stroke="#3a747a" stroke-width="4.6" stroke-linecap="round"/><path d="M1252.7 1016L1235 1002.8" stroke="#3a747a" stroke-width="4.6" stroke-linecap="round"/><path d="M1235 1002.8L1237.7 981.1" stroke="#3a747a" stroke-width="4.6" stroke-linecap="round"/><path d="M1185.6 989.6L1191.5 980.6" stroke="#3a747a" stroke-width="4.6" stroke-linecap="round"/><path d="M1191.5 980.6L1197.5 971.6" stroke="#e81818" stroke-width="4.6" stroke-linecap="round"/><path d="M1197.5 971.6L1220.5 967.1" stroke="#e81818" stroke-width="4.6" stroke-linecap="round"/><path d="M1220.5 967.1L1229.1 974.1" stroke="#e81818" stroke-width="4.6" stroke-linecap="round"/><path d="M1229.1 974.1L1237.7 981.1" stroke="#3a747a" stroke-width="4.6" stroke-linecap="round"/><path d="M1162.3 1026.1L1155 1037.2" stroke="#3a747a" stroke-width="4.6" stroke-linecap="round"/><path d="M1155 1037.2L1147.7 1048.3" stroke="#e8da1a" stroke-width="4.6" stroke-linecap="round"/><path d="M1273.4 1006.8L1283.3 1014.7" stroke="#3a747a" stroke-width="4.6" stroke-linecap="round"/><path d="M1283.3 1014.7L1293.2 1022.6" stroke="#e8da1a" stroke-width="4.6" stroke-linecap="round"/><circle cx="1185.6" cy="989.6" r="6.9" fill="url(#gTe)"/><circle cx="1164.4" cy="988.3" r="6.9" fill="url(#gTe)"/><circle cx="1151.7" cy="1006" r="6.9" fill="url(#gTe)"/><circle cx="1162.3" cy="1026.1" r="6.9" fill="url(#gTe)"/><circle cx="1183.4" cy="1026.6" r="6.9" fill="url(#gTe)"/><circle cx="1195.9" cy="1009.4" r="6.9" fill="url(#gTe)"/><circle cx="1237.7" cy="981.1" r="6.9" fill="url(#gTe)"/><circle cx="1258.3" cy="973.2" r="6.9" fill="url(#gTe)"/><circle cx="1275.2" cy="986.4" r="6.9" fill="url(#gTe)"/><circle cx="1273.4" cy="1006.8" r="6.9" fill="url(#gTe)"/><circle cx="1252.7" cy="1016" r="6.9" fill="url(#gTe)"/><circle cx="1235" cy="1002.8" r="6.9" fill="url(#gTe)"/><circle cx="1197.5" cy="971.6" r="7" fill="url(#gO)"/><circle cx="1220.5" cy="967.1" r="7" fill="url(#gO)"/><circle cx="1147.7" cy="1048.3" r="7" fill="url(#gS)"/><circle cx="1293.2" cy="1022.6" r="7" fill="url(#gS)"/></g><g><path d="M1034 967.9 H1098.8 V959.7 L1133.7 971.9 L1098.8 984.1 V975.9 H1034 Z" fill="#3a2c00" fill-opacity="0.55" filter="url(#blur4)" transform="translate(0 23.5)"/><path d="M1034 967.9 H1098.8 V959.7 L1133.7 971.9 L1098.8 984.1 V975.9 H1034 Z" fill="url(#arrG)"/><path d="M1098.8 959.7 L1133.7 971.9 L1105.8 970.4 Z" fill="#6e8ad8"/></g><g filter="url(#shR)"><path d="M1575.3 925.2L1597.3 915.7" stroke="#8c8c8c" stroke-width="4" stroke-linecap="round"/><path d="M1597.3 915.7L1598.3 896.9" stroke="#8c8c8c" stroke-width="4" stroke-linecap="round"/><path d="M1577.3 887.4L1598.3 896.9" stroke="#8c8c8c" stroke-width="4" stroke-linecap="round"/><path d="M1555.3 896.9L1577.3 887.4" stroke="#8c8c8c" stroke-width="4" stroke-linecap="round"/><path d="M1554.3 915.7L1555.3 896.9" stroke="#8c8c8c" stroke-width="4" stroke-linecap="round"/><path d="M1554.3 915.7L1575.3 925.2" stroke="#8c8c8c" stroke-width="4" stroke-linecap="round"/><path d="M1618.3 925.2L1640.3 915.7" stroke="#8c8c8c" stroke-width="4" stroke-linecap="round"/><path d="M1640.3 915.7L1641.3 896.9" stroke="#8c8c8c" stroke-width="4" stroke-linecap="round"/><path d="M1620.3 887.4L1641.3 896.9" stroke="#8c8c8c" stroke-width="4" stroke-linecap="round"/><path d="M1598.3 896.9L1620.3 887.4" stroke="#8c8c8c" stroke-width="4" stroke-linecap="round"/><path d="M1597.3 915.7L1618.3 925.2" stroke="#8c8c8c" stroke-width="4" stroke-linecap="round"/><path d="M1661.3 925.2L1683.3 915.7" stroke="#8c8c8c" stroke-width="4" stroke-linecap="round"/><path d="M1683.3 915.7L1684.4 896.9" stroke="#8c8c8c" stroke-width="4" stroke-linecap="round"/><path d="M1663.4 887.4L1684.4 896.9" stroke="#8c8c8c" stroke-width="4" stroke-linecap="round"/><path d="M1641.3 896.9L1663.4 887.4" stroke="#8c8c8c" stroke-width="4" stroke-linecap="round"/><path d="M1640.3 915.7L1661.3 925.2" stroke="#8c8c8c" stroke-width="4" stroke-linecap="round"/><path d="M1704.3 925.2L1726.4 915.7" stroke="#8c8c8c" stroke-width="4" stroke-linecap="round"/><path d="M1726.4 915.7L1727.4 896.9" stroke="#8c8c8c" stroke-width="4" stroke-linecap="round"/><path d="M1706.4 887.4L1727.4 896.9" stroke="#8c8c8c" stroke-width="4" stroke-linecap="round"/><path d="M1684.4 896.9L1706.4 887.4" stroke="#8c8c8c" stroke-width="4" stroke-linecap="round"/><path d="M1683.3 915.7L1704.3 925.2" stroke="#8c8c8c" stroke-width="4" stroke-linecap="round"/><path d="M1747.4 925.2L1769.4 915.7" stroke="#8c8c8c" stroke-width="4" stroke-linecap="round"/><path d="M1769.4 915.7L1770.4 896.9" stroke="#8c8c8c" stroke-width="4" stroke-linecap="round"/><path d="M1749.4 887.4L1770.4 896.9" stroke="#8c8c8c" stroke-width="4" stroke-linecap="round"/><path d="M1727.4 896.9L1749.4 887.4" stroke="#8c8c8c" stroke-width="4" stroke-linecap="round"/><path d="M1726.4 915.7L1747.4 925.2" stroke="#8c8c8c" stroke-width="4" stroke-linecap="round"/><path d="M1552.2 953.5L1574.2 944" stroke="#8c8c8c" stroke-width="4" stroke-linecap="round"/><path d="M1574.2 944L1575.3 925.2" stroke="#8c8c8c" stroke-width="4" stroke-linecap="round"/><path d="M1532.3 925.2L1554.3 915.7" stroke="#8c8c8c" stroke-width="4" stroke-linecap="round"/><path d="M1531.2 944L1532.3 925.2" stroke="#8c8c8c" stroke-width="4" stroke-linecap="round"/><path d="M1531.2 944L1552.2 953.5" stroke="#8c8c8c" stroke-width="4" stroke-linecap="round"/><path d="M1595.2 953.5L1617.3 944" stroke="#f01818" stroke-width="5" stroke-linecap="round"/><path d="M1617.3 944L1617.8 934.6" stroke="#f01818" stroke-width="4.6" stroke-linecap="round"/><path d="M1617.8 934.6L1618.3 925.2" stroke="#8c8c8c" stroke-width="4" stroke-linecap="round"/><path d="M1595.2 953.5L1584.7 948.8" stroke="#f01818" stroke-width="4.6" stroke-linecap="round"/><path d="M1584.7 948.8L1574.2 944" stroke="#8c8c8c" stroke-width="4" stroke-linecap="round"/><path d="M1638.3 953.5L1649.3 948.8" stroke="#f01818" stroke-width="4.6" stroke-linecap="round"/><path d="M1649.3 948.8L1660.3 944" stroke="#8c8c8c" stroke-width="4" stroke-linecap="round"/><path d="M1660.3 944L1661.3 925.2" stroke="#8c8c8c" stroke-width="4" stroke-linecap="round"/><path d="M1617.3 944L1638.3 953.5" stroke="#f01818" stroke-width="5" stroke-linecap="round"/><path d="M1681.3 953.5L1703.3 944" stroke="#8c8c8c" stroke-width="4" stroke-linecap="round"/><path d="M1703.3 944L1704.3 925.2" stroke="#8c8c8c" stroke-width="4" stroke-linecap="round"/><path d="M1660.3 944L1681.3 953.5" stroke="#8c8c8c" stroke-width="4" stroke-linecap="round"/><path d="M1724.3 953.5L1746.3 944" stroke="#8c8c8c" stroke-width="4" stroke-linecap="round"/><path d="M1746.3 944L1747.4 925.2" stroke="#8c8c8c" stroke-width="4" stroke-linecap="round"/><path d="M1703.3 944L1724.3 953.5" stroke="#8c8c8c" stroke-width="4" stroke-linecap="round"/><path d="M1529.2 981.8L1551.2 972.3" stroke="#8c8c8c" stroke-width="4" stroke-linecap="round"/><path d="M1551.2 972.3L1552.2 953.5" stroke="#8c8c8c" stroke-width="4" stroke-linecap="round"/><path d="M1509.2 953.5L1531.2 944" stroke="#8c8c8c" stroke-width="4" stroke-linecap="round"/><path d="M1508.2 972.3L1509.2 953.5" stroke="#8c8c8c" stroke-width="4" stroke-linecap="round"/><path d="M1508.2 972.3L1529.2 981.8" stroke="#8c8c8c" stroke-width="4" stroke-linecap="round"/><path d="M1594.2 972.3L1583.2 977" stroke="#f01818" stroke-width="4.6" stroke-linecap="round"/><path d="M1583.2 977L1572.2 981.8" stroke="#8c8c8c" stroke-width="4" stroke-linecap="round"/><path d="M1594.2 972.3L1595.2 953.5" stroke="#f01818" stroke-width="5" stroke-linecap="round"/><path d="M1551.2 972.3L1572.2 981.8" stroke="#8c8c8c" stroke-width="4" stroke-linecap="round"/><path d="M1615.2 981.8L1637.2 972.3" stroke="#f01818" stroke-width="5" stroke-linecap="round"/><path d="M1637.2 972.3L1638.3 953.5" stroke="#f01818" stroke-width="5" stroke-linecap="round"/><path d="M1594.2 972.3L1615.2 981.8" stroke="#f01818" stroke-width="5" stroke-linecap="round"/><path d="M1658.2 981.8L1680.3 972.3" stroke="#8c8c8c" stroke-width="4" stroke-linecap="round"/><path d="M1680.3 972.3L1681.3 953.5" stroke="#8c8c8c" stroke-width="4" stroke-linecap="round"/><path d="M1637.2 972.3L1647.7 977" stroke="#f01818" stroke-width="4.6" stroke-linecap="round"/><path d="M1647.7 977L1658.2 981.8" stroke="#8c8c8c" stroke-width="4" stroke-linecap="round"/><path d="M1701.3 981.8L1723.3 972.3" stroke="#8c8c8c" stroke-width="4" stroke-linecap="round"/><path d="M1723.3 972.3L1724.3 953.5" stroke="#8c8c8c" stroke-width="4" stroke-linecap="round"/><path d="M1680.3 972.3L1701.3 981.8" stroke="#8c8c8c" stroke-width="4" stroke-linecap="round"/><path d="M1506.1 1010.1L1528.1 1000.6" stroke="#f01818" stroke-width="5" stroke-linecap="round"/><path d="M1528.1 1000.6L1528.7 991.2" stroke="#f01818" stroke-width="4.6" stroke-linecap="round"/><path d="M1528.7 991.2L1529.2 981.8" stroke="#8c8c8c" stroke-width="4" stroke-linecap="round"/><path d="M1486.2 981.8L1508.2 972.3" stroke="#8c8c8c" stroke-width="4" stroke-linecap="round"/><path d="M1485.1 1000.6L1486.2 981.8" stroke="#8c8c8c" stroke-width="4" stroke-linecap="round"/><path d="M1506.1 1010.1L1495.6 1005.4" stroke="#f01818" stroke-width="4.6" stroke-linecap="round"/><path d="M1495.6 1005.4L1485.1 1000.6" stroke="#8c8c8c" stroke-width="4" stroke-linecap="round"/><path d="M1549.1 1010.1L1560.2 1005.4" stroke="#f01818" stroke-width="4.6" stroke-linecap="round"/><path d="M1560.2 1005.4L1571.2 1000.6" stroke="#8c8c8c" stroke-width="4" stroke-linecap="round"/><path d="M1571.2 1000.6L1572.2 981.8" stroke="#8c8c8c" stroke-width="4" stroke-linecap="round"/><path d="M1528.1 1000.6L1549.1 1010.1" stroke="#f01818" stroke-width="5" stroke-linecap="round"/><path d="M1592.2 1010.1L1614.2 1000.6" stroke="#8c8c8c" stroke-width="4" stroke-linecap="round"/><path d="M1615.2 981.8L1614.7 991.2" stroke="#f01818" stroke-width="4.6" stroke-linecap="round"/><path d="M1614.7 991.2L1614.2 1000.6" stroke="#8c8c8c" stroke-width="4" stroke-linecap="round"/><path d="M1571.2 1000.6L1592.2 1010.1" stroke="#8c8c8c" stroke-width="4" stroke-linecap="round"/><path d="M1635.2 1010.1L1657.2 1000.6" stroke="#8c8c8c" stroke-width="4" stroke-linecap="round"/><path d="M1657.2 1000.6L1658.2 981.8" stroke="#8c8c8c" stroke-width="4" stroke-linecap="round"/><path d="M1614.2 1000.6L1635.2 1010.1" stroke="#8c8c8c" stroke-width="4" stroke-linecap="round"/><path d="M1678.2 1010.1L1700.2 1000.6" stroke="#8c8c8c" stroke-width="4" stroke-linecap="round"/><path d="M1700.2 1000.6L1701.3 981.8" stroke="#8c8c8c" stroke-width="4" stroke-linecap="round"/><path d="M1657.2 1000.6L1678.2 1010.1" stroke="#8c8c8c" stroke-width="4" stroke-linecap="round"/><path d="M1505.1 1028.9L1494.1 1033.7" stroke="#f01818" stroke-width="4.6" stroke-linecap="round"/><path d="M1494.1 1033.7L1483.1 1038.4" stroke="#8c8c8c" stroke-width="4" stroke-linecap="round"/><path d="M1505.1 1028.9L1506.1 1010.1" stroke="#f01818" stroke-width="5" stroke-linecap="round"/><path d="M1463.1 1010.1L1485.1 1000.6" stroke="#8c8c8c" stroke-width="4" stroke-linecap="round"/><path d="M1462.1 1028.9L1463.1 1010.1" stroke="#8c8c8c" stroke-width="4" stroke-linecap="round"/><path d="M1462.1 1028.9L1483.1 1038.4" stroke="#8c8c8c" stroke-width="4" stroke-linecap="round"/><path d="M1526.1 1038.4L1548.1 1028.9" stroke="#f01818" stroke-width="5" stroke-linecap="round"/><path d="M1548.1 1028.9L1549.1 1010.1" stroke="#f01818" stroke-width="5" stroke-linecap="round"/><path d="M1505.1 1028.9L1526.1 1038.4" stroke="#f01818" stroke-width="5" stroke-linecap="round"/><path d="M1569.1 1038.4L1591.1 1028.9" stroke="#8c8c8c" stroke-width="4" stroke-linecap="round"/><path d="M1591.1 1028.9L1592.2 1010.1" stroke="#8c8c8c" stroke-width="4" stroke-linecap="round"/><path d="M1548.1 1028.9L1558.6 1033.7" stroke="#f01818" stroke-width="4.6" stroke-linecap="round"/><path d="M1558.6 1033.7L1569.1 1038.4" stroke="#8c8c8c" stroke-width="4" stroke-linecap="round"/><path d="M1612.1 1038.4L1634.2 1028.9" stroke="#8c8c8c" stroke-width="4" stroke-linecap="round"/><path d="M1634.2 1028.9L1635.2 1010.1" stroke="#8c8c8c" stroke-width="4" stroke-linecap="round"/><path d="M1591.1 1028.9L1612.1 1038.4" stroke="#8c8c8c" stroke-width="4" stroke-linecap="round"/><path d="M1655.2 1038.4L1677.2 1028.9" stroke="#8c8c8c" stroke-width="4" stroke-linecap="round"/><path d="M1677.2 1028.9L1678.2 1010.1" stroke="#8c8c8c" stroke-width="4" stroke-linecap="round"/><path d="M1634.2 1028.9L1655.2 1038.4" stroke="#8c8c8c" stroke-width="4" stroke-linecap="round"/><circle cx="1577.3" cy="887.4" r="5.8" fill="url(#gC)"/><circle cx="1620.3" cy="887.4" r="5.8" fill="url(#gC)"/><circle cx="1663.4" cy="887.4" r="5.8" fill="url(#gC)"/><circle cx="1706.4" cy="887.4" r="5.8" fill="url(#gC)"/><circle cx="1749.4" cy="887.4" r="5.8" fill="url(#gC)"/><circle cx="1598.3" cy="896.9" r="5.8" fill="url(#gC)"/><circle cx="1555.3" cy="896.9" r="5.8" fill="url(#gC)"/><circle cx="1641.3" cy="896.9" r="5.8" fill="url(#gC)"/><circle cx="1684.4" cy="896.9" r="5.8" fill="url(#gC)"/><circle cx="1727.4" cy="896.9" r="5.8" fill="url(#gC)"/><circle cx="1770.4" cy="896.9" r="5.8" fill="url(#gC)"/><circle cx="1597.3" cy="915.7" r="5.8" fill="url(#gC)"/><circle cx="1554.3" cy="915.7" r="5.8" fill="url(#gC)"/><circle cx="1640.3" cy="915.7" r="5.8" fill="url(#gC)"/><circle cx="1683.3" cy="915.7" r="5.8" fill="url(#gC)"/><circle cx="1726.4" cy="915.7" r="5.8" fill="url(#gC)"/><circle cx="1769.4" cy="915.7" r="5.8" fill="url(#gC)"/><circle cx="1575.3" cy="925.2" r="5.8" fill="url(#gC)"/><circle cx="1618.3" cy="925.2" r="5.8" fill="url(#gC)"/><circle cx="1661.3" cy="925.2" r="5.8" fill="url(#gC)"/><circle cx="1704.3" cy="925.2" r="5.8" fill="url(#gC)"/><circle cx="1747.4" cy="925.2" r="5.8" fill="url(#gC)"/><circle cx="1532.3" cy="925.2" r="5.8" fill="url(#gC)"/><circle cx="1746.3" cy="944" r="5.8" fill="url(#gC)"/><circle cx="1574.2" cy="944" r="5.8" fill="url(#gC)"/><circle cx="1531.2" cy="944" r="5.8" fill="url(#gC)"/><circle cx="1617.3" cy="944" r="6.2" fill="url(#gO)"/><circle cx="1660.3" cy="944" r="5.8" fill="url(#gC)"/><circle cx="1703.3" cy="944" r="5.8" fill="url(#gC)"/><circle cx="1552.2" cy="953.5" r="5.8" fill="url(#gC)"/><circle cx="1595.2" cy="953.5" r="6.2" fill="url(#gO)"/><circle cx="1638.3" cy="953.5" r="6.2" fill="url(#gO)"/><circle cx="1681.3" cy="953.5" r="5.8" fill="url(#gC)"/><circle cx="1724.3" cy="953.5" r="5.8" fill="url(#gC)"/><circle cx="1509.2" cy="953.5" r="5.8" fill="url(#gC)"/><circle cx="1551.2" cy="972.3" r="5.8" fill="url(#gC)"/><circle cx="1508.2" cy="972.3" r="5.8" fill="url(#gC)"/><circle cx="1594.2" cy="972.3" r="6.2" fill="url(#gO)"/><circle cx="1637.2" cy="972.3" r="6.2" fill="url(#gO)"/><circle cx="1680.3" cy="972.3" r="5.8" fill="url(#gC)"/><circle cx="1723.3" cy="972.3" r="5.8" fill="url(#gC)"/><circle cx="1529.2" cy="981.8" r="5.8" fill="url(#gC)"/><circle cx="1572.2" cy="981.8" r="5.8" fill="url(#gC)"/><circle cx="1615.2" cy="981.8" r="6.2" fill="url(#gO)"/><circle cx="1658.2" cy="981.8" r="5.8" fill="url(#gC)"/><circle cx="1701.3" cy="981.8" r="5.8" fill="url(#gC)"/><circle cx="1486.2" cy="981.8" r="5.8" fill="url(#gC)"/><circle cx="1700.2" cy="1000.6" r="5.8" fill="url(#gC)"/><circle cx="1528.1" cy="1000.6" r="6.2" fill="url(#gO)"/><circle cx="1485.1" cy="1000.6" r="5.8" fill="url(#gC)"/><circle cx="1571.2" cy="1000.6" r="5.8" fill="url(#gC)"/><circle cx="1614.2" cy="1000.6" r="5.8" fill="url(#gC)"/><circle cx="1657.2" cy="1000.6" r="5.8" fill="url(#gC)"/><circle cx="1506.1" cy="1010.1" r="6.2" fill="url(#gO)"/><circle cx="1549.1" cy="1010.1" r="6.2" fill="url(#gO)"/><circle cx="1592.2" cy="1010.1" r="5.8" fill="url(#gC)"/><circle cx="1635.2" cy="1010.1" r="5.8" fill="url(#gC)"/><circle cx="1678.2" cy="1010.1" r="5.8" fill="url(#gC)"/><circle cx="1463.1" cy="1010.1" r="5.8" fill="url(#gC)"/><circle cx="1505.1" cy="1028.9" r="6.2" fill="url(#gO)"/><circle cx="1462.1" cy="1028.9" r="5.8" fill="url(#gC)"/><circle cx="1548.1" cy="1028.9" r="6.2" fill="url(#gO)"/><circle cx="1591.1" cy="1028.9" r="5.8" fill="url(#gC)"/><circle cx="1634.2" cy="1028.9" r="5.8" fill="url(#gC)"/><circle cx="1677.2" cy="1028.9" r="5.8" fill="url(#gC)"/><circle cx="1483.1" cy="1038.4" r="5.8" fill="url(#gC)"/><circle cx="1526.1" cy="1038.4" r="6.2" fill="url(#gO)"/><circle cx="1569.1" cy="1038.4" r="5.8" fill="url(#gC)"/><circle cx="1612.1" cy="1038.4" r="5.8" fill="url(#gC)"/><circle cx="1655.2" cy="1038.4" r="5.8" fill="url(#gC)"/></g><defs><g id="pcA"><circle cx="0" cy="-20.4" r="7.5" fill="url(#gP)"/><circle cx="11" cy="-8.6" r="7.5" fill="url(#gP)"/><circle cx="-11" cy="-8.2" r="7.5" fill="url(#gP)"/><circle cx="26.7" cy="-0.5" r="7.5" fill="url(#gP)"/><circle cx="-26.7" cy="0.5" r="7.5" fill="url(#gP)"/><circle cx="11" cy="8.2" r="7.5" fill="url(#gP)"/><circle cx="-11" cy="8.6" r="7.5" fill="url(#gP)"/><circle cx="0" cy="20.4" r="7.5" fill="url(#gP)"/><circle cx="32.7" cy="-31.7" r="7.5" fill="url(#gC)"/><circle cx="-32.7" cy="-30.4" r="7.5" fill="url(#gC)"/><circle cx="22" cy="-29.4" r="7.5" fill="url(#gC)"/><circle cx="-22" cy="-28.5" r="7.5" fill="url(#gC)"/><circle cx="40.6" cy="-25.8" r="7.5" fill="url(#gC)"/><circle cx="-40.6" cy="-24.2" r="7.5" fill="url(#gC)"/><circle cx="19.3" cy="-21.2" r="7.5" fill="url(#gC)"/><circle cx="19.3" cy="-21.2" r="7.5" fill="url(#gRC)" fill-opacity="0.62"/><circle cx="-19.3" cy="-20.4" r="7.5" fill="url(#gC)"/><circle cx="-19.3" cy="-20.4" r="7.5" fill="url(#gRC)" fill-opacity="0.70"/><circle cx="37.9" cy="-17.6" r="7.5" fill="url(#gC)"/><circle cx="37.9" cy="-17.6" r="7.5" fill="url(#gRC)" fill-opacity="0.05"/><circle cx="9.3" cy="-16.8" r="7.5" fill="url(#gRC)"/><circle cx="-9.3" cy="-16.4" r="7.5" fill="url(#gRC)"/><circle cx="-37.9" cy="-16.1" r="7.5" fill="url(#gC)"/><circle cx="-37.9" cy="-16.1" r="7.5" fill="url(#gRC)" fill-opacity="0.16"/><circle cx="27.1" cy="-15.3" r="7.5" fill="url(#gC)"/><circle cx="27.1" cy="-15.3" r="7.5" fill="url(#gRC)" fill-opacity="0.84"/><circle cx="-27.1" cy="-14.2" r="7.5" fill="url(#gC)"/><circle cx="-27.1" cy="-14.2" r="7.5" fill="url(#gRC)" fill-opacity="0.93"/><circle cx="21.7" cy="-7.6" r="7.5" fill="url(#gRC)"/><circle cx="-21.7" cy="-6.7" r="7.5" fill="url(#gRC)"/><circle cx="21.7" cy="6.7" r="7.5" fill="url(#gRC)"/><circle cx="-21.7" cy="7.6" r="7.5" fill="url(#gRC)"/><circle cx="27.1" cy="14.2" r="7.5" fill="url(#gC)"/><circle cx="27.1" cy="14.2" r="7.5" fill="url(#gRC)" fill-opacity="0.93"/><circle cx="-27.1" cy="15.3" r="7.5" fill="url(#gC)"/><circle cx="-27.1" cy="15.3" r="7.5" fill="url(#gRC)" fill-opacity="0.84"/><circle cx="37.9" cy="16.1" r="7.5" fill="url(#gC)"/><circle cx="37.9" cy="16.1" r="7.5" fill="url(#gRC)" fill-opacity="0.16"/><circle cx="9.3" cy="16.4" r="7.5" fill="url(#gRC)"/><circle cx="-9.3" cy="16.8" r="7.5" fill="url(#gRC)"/><circle cx="-37.9" cy="17.6" r="7.5" fill="url(#gC)"/><circle cx="-37.9" cy="17.6" r="7.5" fill="url(#gRC)" fill-opacity="0.05"/><circle cx="19.3" cy="20.4" r="7.5" fill="url(#gC)"/><circle cx="19.3" cy="20.4" r="7.5" fill="url(#gRC)" fill-opacity="0.70"/><circle cx="-19.3" cy="21.2" r="7.5" fill="url(#gC)"/><circle cx="-19.3" cy="21.2" r="7.5" fill="url(#gRC)" fill-opacity="0.62"/><circle cx="40.6" cy="24.2" r="7.5" fill="url(#gC)"/><circle cx="-40.6" cy="25.8" r="7.5" fill="url(#gC)"/><circle cx="22" cy="28.5" r="7.5" fill="url(#gC)"/><circle cx="-22" cy="29.4" r="7.5" fill="url(#gC)"/><circle cx="32.7" cy="30.4" r="7.5" fill="url(#gC)"/><circle cx="-32.7" cy="31.7" r="7.5" fill="url(#gC)"/><circle cx="34.9" cy="-38.1" r="5.2" fill="url(#gH)"/><circle cx="-34.9" cy="-36.7" r="5.2" fill="url(#gH)"/><circle cx="16" cy="-33.9" r="5.2" fill="url(#gH)"/><circle cx="-16" cy="-33.3" r="5.2" fill="url(#gH)"/><circle cx="48.9" cy="-27.7" r="5.2" fill="url(#gH)"/><circle cx="-48.9" cy="-25.7" r="5.2" fill="url(#gH)"/><circle cx="43.9" cy="-13.1" r="5.2" fill="url(#gH)"/><circle cx="-43.9" cy="-11.3" r="5.2" fill="url(#gH)"/><circle cx="-43.9" cy="-11.3" r="5.2" fill="url(#gHK)" fill-opacity="0.06"/><circle cx="43.9" cy="11.3" r="5.2" fill="url(#gH)"/><circle cx="43.9" cy="11.3" r="5.2" fill="url(#gHK)" fill-opacity="0.06"/><circle cx="-43.9" cy="13.1" r="5.2" fill="url(#gH)"/><circle cx="48.9" cy="25.7" r="5.2" fill="url(#gH)"/><circle cx="-48.9" cy="27.7" r="5.2" fill="url(#gH)"/><circle cx="16" cy="33.3" r="5.2" fill="url(#gH)"/><circle cx="-16" cy="33.9" r="5.2" fill="url(#gH)"/><circle cx="34.9" cy="36.7" r="5.2" fill="url(#gH)"/><circle cx="-34.9" cy="38.1" r="5.2" fill="url(#gH)"/><circle cx="0" cy="0" r="5.7" fill="url(#gO)"/></g><g id="pcB"><circle cx="-34.9" cy="-36.7" r="5.2" fill="url(#gH)"/><circle cx="34.9" cy="-38.1" r="5.2" fill="url(#gH)"/><circle cx="16" cy="-33.9" r="5.2" fill="url(#gH)"/><circle cx="-16" cy="-33.3" r="5.2" fill="url(#gH)"/><circle cx="-32.7" cy="-30.4" r="7.5" fill="url(#gC)"/><circle cx="32.7" cy="-31.7" r="7.5" fill="url(#gC)"/><circle cx="22" cy="-29.4" r="7.5" fill="url(#gC)"/><circle cx="-22" cy="-28.5" r="7.5" fill="url(#gC)"/><circle cx="-48.9" cy="-25.7" r="5.2" fill="url(#gH)"/><circle cx="48.9" cy="-27.7" r="5.2" fill="url(#gH)"/><circle cx="-40.6" cy="-24.2" r="7.5" fill="url(#gC)"/><circle cx="40.6" cy="-25.8" r="7.5" fill="url(#gC)"/><circle cx="-19.3" cy="-20.4" r="7.5" fill="url(#gC)"/><circle cx="19.3" cy="-21.2" r="7.5" fill="url(#gC)"/><circle cx="0" cy="-20.4" r="7.5" fill="url(#gN)"/><circle cx="-37.9" cy="-16.1" r="7.5" fill="url(#gC)"/><circle cx="37.9" cy="-17.6" r="7.5" fill="url(#gC)"/><circle cx="9.3" cy="-16.8" r="7.5" fill="url(#gC)"/><circle cx="-9.3" cy="-16.4" r="7.5" fill="url(#gC)"/><circle cx="-27.1" cy="-14.2" r="7.5" fill="url(#gC)"/><circle cx="27.1" cy="-15.3" r="7.5" fill="url(#gC)"/><circle cx="-43.9" cy="-11.3" r="5.2" fill="url(#gH)"/><circle cx="43.9" cy="-13.1" r="5.2" fill="url(#gH)"/><circle cx="-11" cy="-8.2" r="7.5" fill="url(#gN)"/><circle cx="11" cy="-8.6" r="7.5" fill="url(#gN)"/><circle cx="-21.7" cy="-6.7" r="7.5" fill="url(#gC)"/><circle cx="21.7" cy="-7.6" r="7.5" fill="url(#gC)"/><circle cx="-26.7" cy="0.5" r="7.5" fill="url(#gN)"/><circle cx="26.7" cy="-0.5" r="7.5" fill="url(#gN)"/><circle cx="-21.7" cy="7.6" r="7.5" fill="url(#gC)"/><circle cx="21.7" cy="6.7" r="7.5" fill="url(#gC)"/><circle cx="-11" cy="8.6" r="7.5" fill="url(#gN)"/><circle cx="11" cy="8.2" r="7.5" fill="url(#gN)"/><circle cx="-43.9" cy="13.1" r="5.2" fill="url(#gH)"/><circle cx="43.9" cy="11.3" r="5.2" fill="url(#gH)"/><circle cx="-27.1" cy="15.3" r="7.5" fill="url(#gC)"/><circle cx="27.1" cy="14.2" r="7.5" fill="url(#gC)"/><circle cx="9.3" cy="16.4" r="7.5" fill="url(#gC)"/><circle cx="-9.3" cy="16.8" r="7.5" fill="url(#gC)"/><circle cx="-37.9" cy="17.6" r="7.5" fill="url(#gC)"/><circle cx="37.9" cy="16.1" r="7.5" fill="url(#gC)"/><circle cx="0" cy="20.4" r="7.5" fill="url(#gN)"/><circle cx="-19.3" cy="21.2" r="7.5" fill="url(#gC)"/><circle cx="19.3" cy="20.4" r="7.5" fill="url(#gC)"/><circle cx="-40.6" cy="25.8" r="7.5" fill="url(#gC)"/><circle cx="40.6" cy="24.2" r="7.5" fill="url(#gC)"/><circle cx="-48.9" cy="27.7" r="5.2" fill="url(#gH)"/><circle cx="48.9" cy="25.7" r="5.2" fill="url(#gH)"/><circle cx="-22" cy="29.4" r="7.5" fill="url(#gC)"/><circle cx="22" cy="28.5" r="7.5" fill="url(#gC)"/><circle cx="-32.7" cy="31.7" r="7.5" fill="url(#gC)"/><circle cx="32.7" cy="30.4" r="7.5" fill="url(#gC)"/><circle cx="16" cy="33.3" r="5.2" fill="url(#gH)"/><circle cx="-16" cy="33.9" r="5.2" fill="url(#gH)"/><circle cx="-34.9" cy="38.1" r="5.2" fill="url(#gH)"/><circle cx="34.9" cy="36.7" r="5.2" fill="url(#gH)"/></g><filter id="shOnly" x="-30%" y="-30%" width="160%" height="170%"><feGaussianBlur in="SourceAlpha" stdDeviation="3.4" result="b"/><feOffset in="b" dx="-6" dy="9" result="o"/><feFlood flood-color="#3a2c00" flood-opacity="0.62"/><feComposite in2="o" operator="in"/></filter></defs><use href="#pcA" x="268.1" y="1254.6" filter="url(#shOnly)"/><use href="#pcA" x="383.2" y="1219.6" filter="url(#shOnly)"/><use href="#pcA" x="651.6" y="1255.4" filter="url(#shOnly)"/><use href="#pcB" x="767.4" y="1218.4" filter="url(#shOnly)"/><ellipse cx="268.1" cy="1254.6" rx="43" ry="19" fill="#ff6a00" fill-opacity="0.75" filter="url(#blur6)"/><ellipse cx="268.1" cy="1254.6" rx="30" ry="17" fill="#b84a4a"/><ellipse cx="383.2" cy="1219.6" rx="43" ry="19" fill="#ff6a00" fill-opacity="0.75" filter="url(#blur6)"/><ellipse cx="383.2" cy="1219.6" rx="30" ry="17" fill="#b84a4a"/><ellipse cx="651.6" cy="1255.4" rx="43" ry="19" fill="#ff6a00" fill-opacity="0.75" filter="url(#blur6)"/><ellipse cx="651.6" cy="1255.4" rx="30" ry="17" fill="#b84a4a"/><use href="#pcA" x="268.1" y="1254.6"/><use href="#pcA" x="383.2" y="1219.6"/><use href="#pcA" x="651.6" y="1255.4"/><use href="#pcB" x="767.4" y="1218.4"/><defs><linearGradient id="rg7" x1="0" y1="0" x2="0" y2="1"><stop offset="0" stop-color="#fff" stop-opacity="0.45"/><stop offset="1" stop-color="#fff" stop-opacity="0"/></linearGradient><mask id="rm7" maskUnits="userSpaceOnUse" x="250" y="1197.6" width="40" height="20"><rect x="250" y="1197.6" width="40" height="20" fill="url(#rg7)"/></mask></defs><g mask="url(#rm7)"><g transform="translate(0 2386.6) scale(1 -1)"><path d="M276.2 1168.8L260.2 1182.3" stroke="#e81818" stroke-width="3" stroke-linecap="round"/><circle cx="260.2" cy="1182.3" r="5.2" fill="url(#gO)"/><circle cx="276.2" cy="1168.8" r="5.2" fill="url(#gO)"/></g></g><path d="M276.2 1168.8L260.2 1182.3" stroke="#e81818" stroke-width="3" stroke-linecap="round"/><circle cx="260.2" cy="1182.3" r="5.2" fill="url(#gO)"/><circle cx="276.2" cy="1168.8" r="5.2" fill="url(#gO)"/><defs><linearGradient id="rg8" x1="0" y1="0" x2="0" y2="1"><stop offset="0" stop-color="#fff" stop-opacity="0.45"/><stop offset="1" stop-color="#fff" stop-opacity="0"/></linearGradient><mask id="rm8" maskUnits="userSpaceOnUse" x="465" y="1189.5" width="45" height="20"><rect x="465" y="1189.5" width="45" height="20" fill="url(#rg8)"/></mask></defs><g mask="url(#rm8)"><g transform="translate(0 2376.6) scale(1 -1)"><path d="M490 1166.6L481.7 1169" stroke="#e81818" stroke-width="2.6" stroke-linecap="round"/><path d="M481.7 1169L473.4 1171.3" stroke="#e8e8e8" stroke-width="2.6" stroke-linecap="round"/><path d="M490 1166.6L495.1 1173.7" stroke="#e81818" stroke-width="2.6" stroke-linecap="round"/><path d="M495.1 1173.7L500.3 1180.8" stroke="#e8e8e8" stroke-width="2.6" stroke-linecap="round"/><circle cx="473.4" cy="1171.3" r="4.8" fill="url(#gH)"/><circle cx="500.3" cy="1180.8" r="4.8" fill="url(#gH)"/><circle cx="490" cy="1166.6" r="5.4" fill="url(#gO)"/></g></g><path d="M490 1166.6L481.7 1169" stroke="#e81818" stroke-width="2.6" stroke-linecap="round"/><path d="M481.7 1169L473.4 1171.3" stroke="#e8e8e8" stroke-width="2.6" stroke-linecap="round"/><path d="M490 1166.6L495.1 1173.7" stroke="#e81818" stroke-width="2.6" stroke-linecap="round"/><path d="M495.1 1173.7L500.3 1180.8" stroke="#e8e8e8" stroke-width="2.6" stroke-linecap="round"/><circle cx="473.4" cy="1171.3" r="4.8" fill="url(#gH)"/><circle cx="500.3" cy="1180.8" r="4.8" fill="url(#gH)"/><circle cx="490" cy="1166.6" r="5.4" fill="url(#gO)"/><path d="M284.6 1183.9 Q377.1 1256.6 461.8 1190.2" fill="none" stroke="#5fae4a" stroke-opacity="0.75" stroke-width="3"/><path d="M469.6 1184.5 L447.6 1187 L457.7 1191.1 L462.7 1201.8 Z" fill="#5fae4a" fill-opacity="0.9"/><g><path d="M469 1237.9 H533.9 V1230.3 L567.4 1241.9 L533.9 1253.5 V1245.9 H469 Z" fill="#3a2c00" fill-opacity="0.55" filter="url(#blur4)" transform="translate(0 23.5)"/><path d="M469 1237.9 H533.9 V1230.3 L567.4 1241.9 L533.9 1253.5 V1245.9 H469 Z" fill="url(#arrG)"/><path d="M533.9 1230.3 L567.4 1241.9 L540.9 1240.4 Z" fill="#6e8ad8"/></g><g filter="url(#shG)"><path d="M1007.8 1166.5L1031.9 1154.9" stroke="#8a8a8a" stroke-width="4.4" stroke-linecap="round"/><path d="M1031.9 1154.9L1057 1163.1" stroke="#8a8a8a" stroke-width="4.4" stroke-linecap="round"/><path d="M1057 1163.1L1080.7 1151" stroke="#8a8a8a" stroke-width="4.4" stroke-linecap="round"/><path d="M1080.7 1151L1107.1 1158.7" stroke="#8a8a8a" stroke-width="4.4" stroke-linecap="round"/><path d="M1107.1 1158.7L1129.6 1149.2" stroke="#8a8a8a" stroke-width="4.4" stroke-linecap="round"/><path d="M1129.6 1149.2L1155.1 1159.6" stroke="#8a8a8a" stroke-width="4.4" stroke-linecap="round"/><path d="M1155.1 1159.6L1155.5 1182.6" stroke="#8a8a8a" stroke-width="4.4" stroke-linecap="round"/><path d="M1007.8 1166.5L1008.6 1188.5" stroke="#8a8a8a" stroke-width="4.4" stroke-linecap="round"/><path d="M1057 1163.1L1057.9 1184.7" stroke="#8a8a8a" stroke-width="4.4" stroke-linecap="round"/><path d="M1107.1 1158.7L1107.1 1177.8" stroke="#8a8a8a" stroke-width="4.4" stroke-linecap="round"/><path d="M1008.6 1188.5L985.3 1200.2" stroke="#8a8a8a" stroke-width="4.4" stroke-linecap="round"/><path d="M1008.6 1188.5L1034.2 1195.9" stroke="#8a8a8a" stroke-width="4.4" stroke-linecap="round"/><path d="M1057.9 1184.7L1034.2 1195.9" stroke="#8a8a8a" stroke-width="4.4" stroke-linecap="round"/><path d="M1057.9 1184.7L1083.8 1191.1" stroke="#8a8a8a" stroke-width="4.4" stroke-linecap="round"/><path d="M1083.8 1191.1L1107.1 1177.8" stroke="#8a8a8a" stroke-width="4.4" stroke-linecap="round"/><path d="M1107.1 1177.8L1131.3 1190.7" stroke="#8a8a8a" stroke-width="4.4" stroke-linecap="round"/><path d="M1131.3 1190.7L1155.5 1182.6" stroke="#8a8a8a" stroke-width="4.4" stroke-linecap="round"/><path d="M1155.5 1182.6L1180.5 1194.7" stroke="#8a8a8a" stroke-width="4.4" stroke-linecap="round"/><path d="M1180.5 1194.7L1181.4 1217.5" stroke="#8a8a8a" stroke-width="4.4" stroke-linecap="round"/><path d="M1131.3 1190.7L1132.2 1214" stroke="#8a8a8a" stroke-width="4.4" stroke-linecap="round"/><path d="M985.3 1200.2L985.8 1221" stroke="#8a8a8a" stroke-width="4.4" stroke-linecap="round"/><path d="M1034.2 1195.9L1035.1 1217.5" stroke="#8a8a8a" stroke-width="4.4" stroke-linecap="round"/><path d="M1132.2 1214L1157.2 1227.9" stroke="#8a8a8a" stroke-width="4.4" stroke-linecap="round"/><path d="M1181.4 1217.5L1157.2 1227.9" stroke="#8a8a8a" stroke-width="4.4" stroke-linecap="round"/><path d="M1181.4 1217.5L1206.5 1230.5" stroke="#8a8a8a" stroke-width="4.4" stroke-linecap="round"/><path d="M985.8 1221L961.6 1233" stroke="#8a8a8a" stroke-width="4.4" stroke-linecap="round"/><path d="M985.8 1221L1010.9 1229.6" stroke="#8a8a8a" stroke-width="4.4" stroke-linecap="round"/><path d="M1035.1 1217.5L1010.9 1229.6" stroke="#8a8a8a" stroke-width="4.4" stroke-linecap="round"/><path d="M1035.1 1217.5L1058.7 1223.5" stroke="#8a8a8a" stroke-width="4.4" stroke-linecap="round"/><path d="M1058.7 1223.5L1060.5 1244.3" stroke="#8a8a8a" stroke-width="4.4" stroke-linecap="round"/><path d="M961.6 1233L962.5 1252.9" stroke="#8a8a8a" stroke-width="4.4" stroke-linecap="round"/><path d="M1010.9 1229.6L1011.2 1248.6" stroke="#8a8a8a" stroke-width="4.4" stroke-linecap="round"/><path d="M962.5 1252.9L987 1261.6" stroke="#8a8a8a" stroke-width="4.4" stroke-linecap="round"/><path d="M1011.2 1248.6L987 1261.6" stroke="#8a8a8a" stroke-width="4.4" stroke-linecap="round"/><path d="M1011.2 1248.6L1035.4 1256.4" stroke="#8a8a8a" stroke-width="4.4" stroke-linecap="round"/><path d="M1035.4 1256.4L1060.5 1244.3" stroke="#8a8a8a" stroke-width="4.4" stroke-linecap="round"/><path d="M1060.5 1244.3L1084.6 1258.1" stroke="#8a8a8a" stroke-width="4.4" stroke-linecap="round"/><path d="M1084.6 1258.1L1108.8 1248.3" stroke="#8a8a8a" stroke-width="4.4" stroke-linecap="round"/><path d="M1108.8 1248.3L1133.9 1261.6" stroke="#8a8a8a" stroke-width="4.4" stroke-linecap="round"/><path d="M1133.9 1261.6L1158.1 1251.2" stroke="#8a8a8a" stroke-width="4.4" stroke-linecap="round"/><path d="M1158.1 1251.2L1157.2 1227.9" stroke="#8a8a8a" stroke-width="4.4" stroke-linecap="round"/><path d="M1158.1 1251.2L1183.1 1263.3" stroke="#8a8a8a" stroke-width="4.4" stroke-linecap="round"/><path d="M1183.1 1263.3L1207.3 1252.9" stroke="#8a8a8a" stroke-width="4.4" stroke-linecap="round"/><path d="M1207.3 1252.9L1206.5 1230.5" stroke="#8a8a8a" stroke-width="4.4" stroke-linecap="round"/><path d="M987 1261.6L987.9 1282.3" stroke="#8a8a8a" stroke-width="4.4" stroke-linecap="round"/><path d="M1035.4 1256.4L1037.1 1281.4" stroke="#8a8a8a" stroke-width="4.4" stroke-linecap="round"/><path d="M1084.6 1258.1L1085.5 1283.2" stroke="#8a8a8a" stroke-width="4.4" stroke-linecap="round"/><path d="M1133.9 1261.6L1134.8 1285.7" stroke="#8a8a8a" stroke-width="4.4" stroke-linecap="round"/><path d="M1183.1 1263.3L1184 1286.6" stroke="#8a8a8a" stroke-width="4.4" stroke-linecap="round"/><path d="M987.9 1282.3L1012.9 1294.9" stroke="#8a8a8a" stroke-width="4.4" stroke-linecap="round"/><path d="M1012.9 1294.9L1037.1 1281.4" stroke="#8a8a8a" stroke-width="4.4" stroke-linecap="round"/><path d="M1037.1 1281.4L1049.7 1288.2" stroke="#8a8a8a" stroke-width="4.4" stroke-linecap="round"/><path d="M1049.7 1288.2L1062.2 1294.9" stroke="#1010e0" stroke-width="4.4" stroke-linecap="round"/><path d="M1062.2 1294.9L1073.8 1289" stroke="#1010e0" stroke-width="4.4" stroke-linecap="round"/><path d="M1073.8 1289L1085.5 1283.2" stroke="#8a8a8a" stroke-width="4.4" stroke-linecap="round"/><path d="M1085.5 1283.2L1110.6 1296.1" stroke="#8a8a8a" stroke-width="4.4" stroke-linecap="round"/><path d="M1110.6 1296.1L1134.8 1285.7" stroke="#8a8a8a" stroke-width="4.4" stroke-linecap="round"/><path d="M1134.8 1285.7L1159.8 1297" stroke="#8a8a8a" stroke-width="4.4" stroke-linecap="round"/><path d="M1159.8 1297L1184 1286.6" stroke="#8a8a8a" stroke-width="4.4" stroke-linecap="round"/><path d="M1012.9 1294.9L1013.8 1319.4" stroke="#8a8a8a" stroke-width="4.4" stroke-linecap="round"/><path d="M1062.2 1294.9L1062.4 1307.2" stroke="#1010e0" stroke-width="4.4" stroke-linecap="round"/><path d="M1062.4 1307.2L1062.7 1319.4" stroke="#8a8a8a" stroke-width="4.4" stroke-linecap="round"/><path d="M1110.6 1296.1L1111.4 1320.3" stroke="#8a8a8a" stroke-width="4.4" stroke-linecap="round"/><path d="M1159.8 1297L1160.7 1320.3" stroke="#8a8a8a" stroke-width="4.4" stroke-linecap="round"/><path d="M1013.8 1319.4L1038.9 1330.7" stroke="#8a8a8a" stroke-width="4.4" stroke-linecap="round"/><path d="M1038.9 1330.7L1062.7 1319.4" stroke="#8a8a8a" stroke-width="4.4" stroke-linecap="round"/><path d="M1062.7 1319.4L1087.6 1330.7" stroke="#8a8a8a" stroke-width="4.4" stroke-linecap="round"/><path d="M1087.6 1330.7L1111.4 1320.3" stroke="#8a8a8a" stroke-width="4.4" stroke-linecap="round"/><path d="M1111.4 1320.3L1136.5 1330.7" stroke="#8a8a8a" stroke-width="4.4" stroke-linecap="round"/><path d="M1136.5 1330.7L1160.7 1320.3" stroke="#8a8a8a" stroke-width="4.4" stroke-linecap="round"/><path d="M1107.1 1158.7L1112.3 1145.4" stroke="#8a8a8a" stroke-width="4.4" stroke-linecap="round"/><path d="M1112.3 1145.4L1117.5 1132" stroke="#e81818" stroke-width="4.4" stroke-linecap="round"/><path d="M1117.5 1132L1112.3 1125.3" stroke="#e81818" stroke-width="4.4" stroke-linecap="round"/><path d="M1112.3 1125.3L1107.1 1118.7" stroke="#e8e8e8" stroke-width="4.4" stroke-linecap="round"/><path d="M1107.1 1177.8L1102.2 1171.7" stroke="#8a8a8a" stroke-width="4.4" stroke-linecap="round"/><path d="M1102.2 1171.7L1097.3 1165.7" stroke="#e81818" stroke-width="4.4" stroke-linecap="round"/><path d="M1060.5 1244.3L1063 1234.8" stroke="#8a8a8a" stroke-width="4.4" stroke-linecap="round"/><path d="M1063 1234.8L1065.6 1225.3" stroke="#e81818" stroke-width="4.4" stroke-linecap="round"/><path d="M1065.6 1225.3L1074.3 1219.7" stroke="#e81818" stroke-width="4.4" stroke-linecap="round"/><path d="M1074.3 1219.7L1082.9 1214" stroke="#e8e8e8" stroke-width="4.4" stroke-linecap="round"/><path d="M1035.4 1256.4L1034.1 1248.6" stroke="#8a8a8a" stroke-width="4.4" stroke-linecap="round"/><path d="M1034.1 1248.6L1032.8 1240.8" stroke="#e81818" stroke-width="4.4" stroke-linecap="round"/><path d="M1083.8 1191.1L1083.3 1202.5" stroke="#8a8a8a" stroke-width="4.4" stroke-linecap="round"/><path d="M1083.3 1202.5L1082.9 1214" stroke="#e8e8e8" stroke-width="4.4" stroke-linecap="round"/><circle cx="1129.6" cy="1149.2" r="6.9" fill="url(#gC)"/><circle cx="1080.7" cy="1151" r="6.9" fill="url(#gC)"/><circle cx="1031.9" cy="1154.9" r="6.9" fill="url(#gC)"/><circle cx="1107.1" cy="1158.7" r="6.9" fill="url(#gC)"/><circle cx="1155.1" cy="1159.6" r="6.9" fill="url(#gC)"/><circle cx="1057" cy="1163.1" r="6.9" fill="url(#gC)"/><circle cx="1007.8" cy="1166.5" r="6.9" fill="url(#gC)"/><circle cx="1107.1" cy="1177.8" r="6.9" fill="url(#gC)"/><circle cx="1155.5" cy="1182.6" r="6.9" fill="url(#gC)"/><circle cx="1057.9" cy="1184.7" r="6.9" fill="url(#gC)"/><circle cx="1008.6" cy="1188.5" r="6.9" fill="url(#gC)"/><circle cx="1131.3" cy="1190.7" r="6.9" fill="url(#gC)"/><circle cx="1083.8" cy="1191.1" r="6.9" fill="url(#gC)"/><circle cx="1180.5" cy="1194.7" r="6.9" fill="url(#gC)"/><circle cx="1034.2" cy="1195.9" r="6.9" fill="url(#gC)"/><circle cx="985.3" cy="1200.2" r="6.9" fill="url(#gC)"/><circle cx="1132.2" cy="1214" r="6.9" fill="url(#gC)"/><circle cx="1181.4" cy="1217.5" r="6.9" fill="url(#gC)"/><circle cx="1035.1" cy="1217.5" r="6.9" fill="url(#gC)"/><circle cx="985.8" cy="1221" r="6.9" fill="url(#gC)"/><circle cx="1058.7" cy="1223.5" r="6.9" fill="url(#gC)"/><circle cx="1157.2" cy="1227.9" r="6.9" fill="url(#gC)"/><circle cx="1010.9" cy="1229.6" r="6.9" fill="url(#gC)"/><circle cx="1206.5" cy="1230.5" r="6.9" fill="url(#gC)"/><circle cx="961.6" cy="1233" r="6.9" fill="url(#gC)"/><circle cx="1060.5" cy="1244.3" r="6.9" fill="url(#gC)"/><circle cx="1108.8" cy="1248.3" r="6.9" fill="url(#gC)"/><circle cx="1011.2" cy="1248.6" r="6.9" fill="url(#gC)"/><circle cx="1158.1" cy="1251.2" r="6.9" fill="url(#gC)"/><circle cx="1207.3" cy="1252.9" r="6.9" fill="url(#gC)"/><circle cx="962.5" cy="1252.9" r="6.9" fill="url(#gC)"/><circle cx="1035.4" cy="1256.4" r="6.9" fill="url(#gC)"/><circle cx="1084.6" cy="1258.1" r="6.9" fill="url(#gC)"/><circle cx="1133.9" cy="1261.6" r="6.9" fill="url(#gC)"/><circle cx="987" cy="1261.6" r="6.9" fill="url(#gC)"/><circle cx="1183.1" cy="1263.3" r="6.9" fill="url(#gC)"/><circle cx="1037.1" cy="1281.4" r="6.9" fill="url(#gC)"/><circle cx="987.9" cy="1282.3" r="6.9" fill="url(#gC)"/><circle cx="1085.5" cy="1283.2" r="6.9" fill="url(#gC)"/><circle cx="1134.8" cy="1285.7" r="6.9" fill="url(#gC)"/><circle cx="1184" cy="1286.6" r="6.9" fill="url(#gC)"/><circle cx="1012.9" cy="1294.9" r="6.9" fill="url(#gC)"/><circle cx="1110.6" cy="1296.1" r="6.9" fill="url(#gC)"/><circle cx="1159.8" cy="1297" r="6.9" fill="url(#gC)"/><circle cx="1013.8" cy="1319.4" r="6.9" fill="url(#gC)"/><circle cx="1062.7" cy="1319.4" r="6.9" fill="url(#gC)"/><circle cx="1111.4" cy="1320.3" r="6.9" fill="url(#gC)"/><circle cx="1160.7" cy="1320.3" r="6.9" fill="url(#gC)"/><circle cx="1038.9" cy="1330.7" r="6.9" fill="url(#gC)"/><circle cx="1087.6" cy="1330.7" r="6.9" fill="url(#gC)"/><circle cx="1136.5" cy="1330.7" r="6.9" fill="url(#gC)"/><circle cx="1107.1" cy="1118.7" r="6.6" fill="url(#gH)"/><circle cx="1117.5" cy="1132" r="7" fill="url(#gO)"/><circle cx="1097.3" cy="1165.7" r="7" fill="url(#gO)"/><circle cx="1082.9" cy="1214" r="6.6" fill="url(#gH)"/><circle cx="1065.6" cy="1225.3" r="7" fill="url(#gO)"/><circle cx="1032.8" cy="1240.8" r="7" fill="url(#gO)"/><circle cx="1062.2" cy="1294.9" r="7.6" fill="url(#gN)"/></g><defs><linearGradient id="rg9" x1="0" y1="0" x2="0" y2="1"><stop offset="0" stop-color="#fff" stop-opacity="0.45"/><stop offset="1" stop-color="#fff" stop-opacity="0"/></linearGradient><mask id="rm9" maskUnits="userSpaceOnUse" x="1365" y="1243.3" width="200" height="24"><rect x="1365" y="1243.3" width="200" height="24" fill="url(#rg9)"/></mask></defs><g mask="url(#rm9)"><g transform="translate(0 2469.8) scale(1 -1)"><path d="M1379.3 1219L1388.1 1211.2" stroke="#e81818" stroke-width="4.2" stroke-linecap="round"/><path d="M1388.1 1211.2L1396.9 1203.4" stroke="#808080" stroke-width="4.2" stroke-linecap="round"/><path d="M1396.9 1203.4L1398.3 1188.3" stroke="#808080" stroke-width="4.2" stroke-linecap="round"/><path d="M1398.3 1188.3L1412 1176.4" stroke="#808080" stroke-width="4.2" stroke-linecap="round"/><path d="M1412 1176.4L1419.4 1177" stroke="#808080" stroke-width="4.2" stroke-linecap="round"/><path d="M1419.4 1177L1426.7 1177.6" stroke="#0d74b4" stroke-width="4.2" stroke-linecap="round"/><path d="M1426.7 1177.6L1426.7 1185.1" stroke="#0d74b4" stroke-width="4.2" stroke-linecap="round"/><path d="M1426.7 1185.1L1426.7 1192.6" stroke="#808080" stroke-width="4.2" stroke-linecap="round"/><path d="M1426.7 1192.6L1411.1 1204" stroke="#808080" stroke-width="4.2" stroke-linecap="round"/><path d="M1411.1 1204L1396.9 1203.4" stroke="#808080" stroke-width="4.2" stroke-linecap="round"/><circle cx="1379.3" cy="1219" r="6" fill="url(#gO)"/><circle cx="1396.9" cy="1203.4" r="6" fill="url(#gD)"/><circle cx="1398.3" cy="1188.3" r="6" fill="url(#gD)"/><circle cx="1412" cy="1176.4" r="6" fill="url(#gD)"/><circle cx="1426.7" cy="1177.6" r="6" fill="url(#gNb)"/><circle cx="1426.7" cy="1192.6" r="6" fill="url(#gD)"/><circle cx="1411.1" cy="1204" r="6" fill="url(#gD)"/><path d="M1442.9 1217.6L1451.7 1209.8" stroke="#e81818" stroke-width="4.2" stroke-linecap="round"/><path d="M1451.7 1209.8L1460.5 1202" stroke="#808080" stroke-width="4.2" stroke-linecap="round"/><path d="M1460.5 1202L1462 1186.9" stroke="#808080" stroke-width="4.2" stroke-linecap="round"/><path d="M1462 1186.9L1475.6 1175" stroke="#808080" stroke-width="4.2" stroke-linecap="round"/><path d="M1475.6 1175L1483 1175.6" stroke="#808080" stroke-width="4.2" stroke-linecap="round"/><path d="M1483 1175.6L1490.4 1176.1" stroke="#0d74b4" stroke-width="4.2" stroke-linecap="round"/><path d="M1490.4 1176.1L1490.4 1183.7" stroke="#0d74b4" stroke-width="4.2" stroke-linecap="round"/><path d="M1490.4 1183.7L1490.4 1191.2" stroke="#808080" stroke-width="4.2" stroke-linecap="round"/><path d="M1490.4 1191.2L1474.7 1202.5" stroke="#808080" stroke-width="4.2" stroke-linecap="round"/><path d="M1474.7 1202.5L1460.5 1202" stroke="#808080" stroke-width="4.2" stroke-linecap="round"/><circle cx="1442.9" cy="1217.6" r="6" fill="url(#gO)"/><circle cx="1460.5" cy="1202" r="6" fill="url(#gD)"/><circle cx="1462" cy="1186.9" r="6" fill="url(#gD)"/><circle cx="1475.6" cy="1175" r="6" fill="url(#gD)"/><circle cx="1490.4" cy="1176.1" r="6" fill="url(#gNb)"/><circle cx="1490.4" cy="1191.2" r="6" fill="url(#gD)"/><circle cx="1474.7" cy="1202.5" r="6" fill="url(#gD)"/><path d="M1500.6 1218.2L1509.4 1210.4" stroke="#e81818" stroke-width="4.2" stroke-linecap="round"/><path d="M1509.4 1210.4L1518.2 1202.5" stroke="#808080" stroke-width="4.2" stroke-linecap="round"/><path d="M1518.2 1202.5L1519.6 1187.5" stroke="#808080" stroke-width="4.2" stroke-linecap="round"/><path d="M1519.6 1187.5L1533.3 1175.6" stroke="#808080" stroke-width="4.2" stroke-linecap="round"/><path d="M1533.3 1175.6L1540.6 1176.1" stroke="#808080" stroke-width="4.2" stroke-linecap="round"/><path d="M1540.6 1176.1L1548 1176.7" stroke="#0d74b4" stroke-width="4.2" stroke-linecap="round"/><path d="M1548 1176.7L1548 1184.2" stroke="#0d74b4" stroke-width="4.2" stroke-linecap="round"/><path d="M1548 1184.2L1548 1191.8" stroke="#808080" stroke-width="4.2" stroke-linecap="round"/><path d="M1548 1191.8L1532.4 1203.1" stroke="#808080" stroke-width="4.2" stroke-linecap="round"/><path d="M1532.4 1203.1L1518.2 1202.5" stroke="#808080" stroke-width="4.2" stroke-linecap="round"/><circle cx="1500.6" cy="1218.2" r="6" fill="url(#gO)"/><circle cx="1518.2" cy="1202.5" r="6" fill="url(#gD)"/><circle cx="1519.6" cy="1187.5" r="6" fill="url(#gD)"/><circle cx="1533.3" cy="1175.6" r="6" fill="url(#gD)"/><circle cx="1548" cy="1176.7" r="6" fill="url(#gNb)"/><circle cx="1548" cy="1191.8" r="6" fill="url(#gD)"/><circle cx="1532.4" cy="1203.1" r="6" fill="url(#gD)"/></g></g><path d="M1379.3 1219L1388.1 1211.2" stroke="#e81818" stroke-width="4.2" stroke-linecap="round"/><path d="M1388.1 1211.2L1396.9 1203.4" stroke="#808080" stroke-width="4.2" stroke-linecap="round"/><path d="M1396.9 1203.4L1398.3 1188.3" stroke="#808080" stroke-width="4.2" stroke-linecap="round"/><path d="M1398.3 1188.3L1412 1176.4" stroke="#808080" stroke-width="4.2" stroke-linecap="round"/><path d="M1412 1176.4L1419.4 1177" stroke="#808080" stroke-width="4.2" stroke-linecap="round"/><path d="M1419.4 1177L1426.7 1177.6" stroke="#0d74b4" stroke-width="4.2" stroke-linecap="round"/><path d="M1426.7 1177.6L1426.7 1185.1" stroke="#0d74b4" stroke-width="4.2" stroke-linecap="round"/><path d="M1426.7 1185.1L1426.7 1192.6" stroke="#808080" stroke-width="4.2" stroke-linecap="round"/><path d="M1426.7 1192.6L1411.1 1204" stroke="#808080" stroke-width="4.2" stroke-linecap="round"/><path d="M1411.1 1204L1396.9 1203.4" stroke="#808080" stroke-width="4.2" stroke-linecap="round"/><circle cx="1379.3" cy="1219" r="6" fill="url(#gO)"/><circle cx="1396.9" cy="1203.4" r="6" fill="url(#gD)"/><circle cx="1398.3" cy="1188.3" r="6" fill="url(#gD)"/><circle cx="1412" cy="1176.4" r="6" fill="url(#gD)"/><circle cx="1426.7" cy="1177.6" r="6" fill="url(#gNb)"/><circle cx="1426.7" cy="1192.6" r="6" fill="url(#gD)"/><circle cx="1411.1" cy="1204" r="6" fill="url(#gD)"/><path d="M1442.9 1217.6L1451.7 1209.8" stroke="#e81818" stroke-width="4.2" stroke-linecap="round"/><path d="M1451.7 1209.8L1460.5 1202" stroke="#808080" stroke-width="4.2" stroke-linecap="round"/><path d="M1460.5 1202L1462 1186.9" stroke="#808080" stroke-width="4.2" stroke-linecap="round"/><path d="M1462 1186.9L1475.6 1175" stroke="#808080" stroke-width="4.2" stroke-linecap="round"/><path d="M1475.6 1175L1483 1175.6" stroke="#808080" stroke-width="4.2" stroke-linecap="round"/><path d="M1483 1175.6L1490.4 1176.1" stroke="#0d74b4" stroke-width="4.2" stroke-linecap="round"/><path d="M1490.4 1176.1L1490.4 1183.7" stroke="#0d74b4" stroke-width="4.2" stroke-linecap="round"/><path d="M1490.4 1183.7L1490.4 1191.2" stroke="#808080" stroke-width="4.2" stroke-linecap="round"/><path d="M1490.4 1191.2L1474.7 1202.5" stroke="#808080" stroke-width="4.2" stroke-linecap="round"/><path d="M1474.7 1202.5L1460.5 1202" stroke="#808080" stroke-width="4.2" stroke-linecap="round"/><circle cx="1442.9" cy="1217.6" r="6" fill="url(#gO)"/><circle cx="1460.5" cy="1202" r="6" fill="url(#gD)"/><circle cx="1462" cy="1186.9" r="6" fill="url(#gD)"/><circle cx="1475.6" cy="1175" r="6" fill="url(#gD)"/><circle cx="1490.4" cy="1176.1" r="6" fill="url(#gNb)"/><circle cx="1490.4" cy="1191.2" r="6" fill="url(#gD)"/><circle cx="1474.7" cy="1202.5" r="6" fill="url(#gD)"/><path d="M1500.6 1218.2L1509.4 1210.4" stroke="#e81818" stroke-width="4.2" stroke-linecap="round"/><path d="M1509.4 1210.4L1518.2 1202.5" stroke="#808080" stroke-width="4.2" stroke-linecap="round"/><path d="M1518.2 1202.5L1519.6 1187.5" stroke="#808080" stroke-width="4.2" stroke-linecap="round"/><path d="M1519.6 1187.5L1533.3 1175.6" stroke="#808080" stroke-width="4.2" stroke-linecap="round"/><path d="M1533.3 1175.6L1540.6 1176.1" stroke="#808080" stroke-width="4.2" stroke-linecap="round"/><path d="M1540.6 1176.1L1548 1176.7" stroke="#0d74b4" stroke-width="4.2" stroke-linecap="round"/><path d="M1548 1176.7L1548 1184.2" stroke="#0d74b4" stroke-width="4.2" stroke-linecap="round"/><path d="M1548 1184.2L1548 1191.8" stroke="#808080" stroke-width="4.2" stroke-linecap="round"/><path d="M1548 1191.8L1532.4 1203.1" stroke="#808080" stroke-width="4.2" stroke-linecap="round"/><path d="M1532.4 1203.1L1518.2 1202.5" stroke="#808080" stroke-width="4.2" stroke-linecap="round"/><circle cx="1500.6" cy="1218.2" r="6" fill="url(#gO)"/><circle cx="1518.2" cy="1202.5" r="6" fill="url(#gD)"/><circle cx="1519.6" cy="1187.5" r="6" fill="url(#gD)"/><circle cx="1533.3" cy="1175.6" r="6" fill="url(#gD)"/><circle cx="1548" cy="1176.7" r="6" fill="url(#gNb)"/><circle cx="1548" cy="1191.8" r="6" fill="url(#gD)"/><circle cx="1532.4" cy="1203.1" r="6" fill="url(#gD)"/><defs><linearGradient id="rg10" x1="0" y1="0" x2="0" y2="1"><stop offset="0" stop-color="#fff" stop-opacity="0.45"/><stop offset="1" stop-color="#fff" stop-opacity="0"/></linearGradient><mask id="rm10" maskUnits="userSpaceOnUse" x="1365" y="1313" width="200" height="24"><rect x="1365" y="1313" width="200" height="24" fill="url(#rg10)"/></mask></defs><g mask="url(#rm10)"><g transform="translate(0 2608.8) scale(1 -1)"><path d="M1379.3 1288.3L1388.1 1280.5" stroke="#e81818" stroke-width="4.2" stroke-linecap="round"/><path d="M1388.1 1280.5L1396.9 1272.7" stroke="#808080" stroke-width="4.2" stroke-linecap="round"/><path d="M1396.9 1272.7L1398.3 1257.6" stroke="#808080" stroke-width="4.2" stroke-linecap="round"/><path d="M1398.3 1257.6L1412 1245.7" stroke="#808080" stroke-width="4.2" stroke-linecap="round"/><path d="M1412 1245.7L1419.4 1246.3" stroke="#808080" stroke-width="4.2" stroke-linecap="round"/><path d="M1419.4 1246.3L1426.7 1246.9" stroke="#0d74b4" stroke-width="4.2" stroke-linecap="round"/><path d="M1426.7 1246.9L1426.7 1254.4" stroke="#0d74b4" stroke-width="4.2" stroke-linecap="round"/><path d="M1426.7 1254.4L1426.7 1261.9" stroke="#808080" stroke-width="4.2" stroke-linecap="round"/><path d="M1426.7 1261.9L1411.1 1273.3" stroke="#808080" stroke-width="4.2" stroke-linecap="round"/><path d="M1411.1 1273.3L1396.9 1272.7" stroke="#808080" stroke-width="4.2" stroke-linecap="round"/><circle cx="1379.3" cy="1288.3" r="6" fill="url(#gO)"/><circle cx="1396.9" cy="1272.7" r="6" fill="url(#gD)"/><circle cx="1398.3" cy="1257.6" r="6" fill="url(#gD)"/><circle cx="1412" cy="1245.7" r="6" fill="url(#gD)"/><circle cx="1426.7" cy="1246.9" r="6" fill="url(#gNb)"/><circle cx="1426.7" cy="1261.9" r="6" fill="url(#gD)"/><circle cx="1411.1" cy="1273.3" r="6" fill="url(#gD)"/><path d="M1442.9 1286.9L1451.7 1279.1" stroke="#e81818" stroke-width="4.2" stroke-linecap="round"/><path d="M1451.7 1279.1L1460.5 1271.3" stroke="#808080" stroke-width="4.2" stroke-linecap="round"/><path d="M1460.5 1271.3L1462 1256.2" stroke="#808080" stroke-width="4.2" stroke-linecap="round"/><path d="M1462 1256.2L1475.6 1244.3" stroke="#808080" stroke-width="4.2" stroke-linecap="round"/><path d="M1475.6 1244.3L1483 1244.9" stroke="#808080" stroke-width="4.2" stroke-linecap="round"/><path d="M1483 1244.9L1490.4 1245.4" stroke="#0d74b4" stroke-width="4.2" stroke-linecap="round"/><path d="M1490.4 1245.4L1490.4 1253" stroke="#0d74b4" stroke-width="4.2" stroke-linecap="round"/><path d="M1490.4 1253L1490.4 1260.5" stroke="#808080" stroke-width="4.2" stroke-linecap="round"/><path d="M1490.4 1260.5L1474.7 1271.9" stroke="#808080" stroke-width="4.2" stroke-linecap="round"/><path d="M1474.7 1271.9L1460.5 1271.3" stroke="#808080" stroke-width="4.2" stroke-linecap="round"/><circle cx="1442.9" cy="1286.9" r="6" fill="url(#gO)"/><circle cx="1460.5" cy="1271.3" r="6" fill="url(#gD)"/><circle cx="1462" cy="1256.2" r="6" fill="url(#gD)"/><circle cx="1475.6" cy="1244.3" r="6" fill="url(#gD)"/><circle cx="1490.4" cy="1245.4" r="6" fill="url(#gNb)"/><circle cx="1490.4" cy="1260.5" r="6" fill="url(#gD)"/><circle cx="1474.7" cy="1271.9" r="6" fill="url(#gD)"/><path d="M1500.6 1287.8L1509.4 1279.9" stroke="#e81818" stroke-width="4.2" stroke-linecap="round"/><path d="M1509.4 1279.9L1518.2 1272.1" stroke="#808080" stroke-width="4.2" stroke-linecap="round"/><path d="M1518.2 1272.1L1519.6 1257.1" stroke="#808080" stroke-width="4.2" stroke-linecap="round"/><path d="M1519.6 1257.1L1533.3 1245.2" stroke="#808080" stroke-width="4.2" stroke-linecap="round"/><path d="M1533.3 1245.2L1540.6 1245.7" stroke="#808080" stroke-width="4.2" stroke-linecap="round"/><path d="M1540.6 1245.7L1548 1246.3" stroke="#0d74b4" stroke-width="4.2" stroke-linecap="round"/><path d="M1548 1246.3L1548 1253.8" stroke="#0d74b4" stroke-width="4.2" stroke-linecap="round"/><path d="M1548 1253.8L1548 1261.3" stroke="#808080" stroke-width="4.2" stroke-linecap="round"/><path d="M1548 1261.3L1532.4 1272.7" stroke="#808080" stroke-width="4.2" stroke-linecap="round"/><path d="M1532.4 1272.7L1518.2 1272.1" stroke="#808080" stroke-width="4.2" stroke-linecap="round"/><circle cx="1500.6" cy="1287.8" r="6" fill="url(#gO)"/><circle cx="1518.2" cy="1272.1" r="6" fill="url(#gD)"/><circle cx="1519.6" cy="1257.1" r="6" fill="url(#gD)"/><circle cx="1533.3" cy="1245.2" r="6" fill="url(#gD)"/><circle cx="1548" cy="1246.3" r="6" fill="url(#gNb)"/><circle cx="1548" cy="1261.3" r="6" fill="url(#gD)"/><circle cx="1532.4" cy="1272.7" r="6" fill="url(#gD)"/></g></g><path d="M1379.3 1288.3L1388.1 1280.5" stroke="#e81818" stroke-width="4.2" stroke-linecap="round"/><path d="M1388.1 1280.5L1396.9 1272.7" stroke="#808080" stroke-width="4.2" stroke-linecap="round"/><path d="M1396.9 1272.7L1398.3 1257.6" stroke="#808080" stroke-width="4.2" stroke-linecap="round"/><path d="M1398.3 1257.6L1412 1245.7" stroke="#808080" stroke-width="4.2" stroke-linecap="round"/><path d="M1412 1245.7L1419.4 1246.3" stroke="#808080" stroke-width="4.2" stroke-linecap="round"/><path d="M1419.4 1246.3L1426.7 1246.9" stroke="#0d74b4" stroke-width="4.2" stroke-linecap="round"/><path d="M1426.7 1246.9L1426.7 1254.4" stroke="#0d74b4" stroke-width="4.2" stroke-linecap="round"/><path d="M1426.7 1254.4L1426.7 1261.9" stroke="#808080" stroke-width="4.2" stroke-linecap="round"/><path d="M1426.7 1261.9L1411.1 1273.3" stroke="#808080" stroke-width="4.2" stroke-linecap="round"/><path d="M1411.1 1273.3L1396.9 1272.7" stroke="#808080" stroke-width="4.2" stroke-linecap="round"/><circle cx="1379.3" cy="1288.3" r="6" fill="url(#gO)"/><circle cx="1396.9" cy="1272.7" r="6" fill="url(#gD)"/><circle cx="1398.3" cy="1257.6" r="6" fill="url(#gD)"/><circle cx="1412" cy="1245.7" r="6" fill="url(#gD)"/><circle cx="1426.7" cy="1246.9" r="6" fill="url(#gNb)"/><circle cx="1426.7" cy="1261.9" r="6" fill="url(#gD)"/><circle cx="1411.1" cy="1273.3" r="6" fill="url(#gD)"/><path d="M1442.9 1286.9L1451.7 1279.1" stroke="#e81818" stroke-width="4.2" stroke-linecap="round"/><path d="M1451.7 1279.1L1460.5 1271.3" stroke="#808080" stroke-width="4.2" stroke-linecap="round"/><path d="M1460.5 1271.3L1462 1256.2" stroke="#808080" stroke-width="4.2" stroke-linecap="round"/><path d="M1462 1256.2L1475.6 1244.3" stroke="#808080" stroke-width="4.2" stroke-linecap="round"/><path d="M1475.6 1244.3L1483 1244.9" stroke="#808080" stroke-width="4.2" stroke-linecap="round"/><path d="M1483 1244.9L1490.4 1245.4" stroke="#0d74b4" stroke-width="4.2" stroke-linecap="round"/><path d="M1490.4 1245.4L1490.4 1253" stroke="#0d74b4" stroke-width="4.2" stroke-linecap="round"/><path d="M1490.4 1253L1490.4 1260.5" stroke="#808080" stroke-width="4.2" stroke-linecap="round"/><path d="M1490.4 1260.5L1474.7 1271.9" stroke="#808080" stroke-width="4.2" stroke-linecap="round"/><path d="M1474.7 1271.9L1460.5 1271.3" stroke="#808080" stroke-width="4.2" stroke-linecap="round"/><circle cx="1442.9" cy="1286.9" r="6" fill="url(#gO)"/><circle cx="1460.5" cy="1271.3" r="6" fill="url(#gD)"/><circle cx="1462" cy="1256.2" r="6" fill="url(#gD)"/><circle cx="1475.6" cy="1244.3" r="6" fill="url(#gD)"/><circle cx="1490.4" cy="1245.4" r="6" fill="url(#gNb)"/><circle cx="1490.4" cy="1260.5" r="6" fill="url(#gD)"/><circle cx="1474.7" cy="1271.9" r="6" fill="url(#gD)"/><path d="M1500.6 1287.8L1509.4 1279.9" stroke="#e81818" stroke-width="4.2" stroke-linecap="round"/><path d="M1509.4 1279.9L1518.2 1272.1" stroke="#808080" stroke-width="4.2" stroke-linecap="round"/><path d="M1518.2 1272.1L1519.6 1257.1" stroke="#808080" stroke-width="4.2" stroke-linecap="round"/><path d="M1519.6 1257.1L1533.3 1245.2" stroke="#808080" stroke-width="4.2" stroke-linecap="round"/><path d="M1533.3 1245.2L1540.6 1245.7" stroke="#808080" stroke-width="4.2" stroke-linecap="round"/><path d="M1540.6 1245.7L1548 1246.3" stroke="#0d74b4" stroke-width="4.2" stroke-linecap="round"/><path d="M1548 1246.3L1548 1253.8" stroke="#0d74b4" stroke-width="4.2" stroke-linecap="round"/><path d="M1548 1253.8L1548 1261.3" stroke="#808080" stroke-width="4.2" stroke-linecap="round"/><path d="M1548 1261.3L1532.4 1272.7" stroke="#808080" stroke-width="4.2" stroke-linecap="round"/><path d="M1532.4 1272.7L1518.2 1272.1" stroke="#808080" stroke-width="4.2" stroke-linecap="round"/><circle cx="1500.6" cy="1287.8" r="6" fill="url(#gO)"/><circle cx="1518.2" cy="1272.1" r="6" fill="url(#gD)"/><circle cx="1519.6" cy="1257.1" r="6" fill="url(#gD)"/><circle cx="1533.3" cy="1245.2" r="6" fill="url(#gD)"/><circle cx="1548" cy="1246.3" r="6" fill="url(#gNb)"/><circle cx="1548" cy="1261.3" r="6" fill="url(#gD)"/><circle cx="1532.4" cy="1272.7" r="6" fill="url(#gD)"/><defs><linearGradient id="rg11" x1="0" y1="0" x2="0" y2="1"><stop offset="0" stop-color="#fff" stop-opacity="0.45"/><stop offset="1" stop-color="#fff" stop-opacity="0"/></linearGradient><mask id="rm11" maskUnits="userSpaceOnUse" x="1719.2" y="1224.4" width="51.8" height="22"><rect x="1719.2" y="1224.4" width="51.8" height="22" fill="url(#rg11)"/></mask></defs><g mask="url(#rm11)"><g transform="translate(0 2443) scale(1 -1)"><path d="M1744 1178.4L1752 1180.1" stroke="#808080" stroke-width="4.2" stroke-linecap="round"/><path d="M1752 1180.1L1759.9 1181.8" stroke="#0d74b4" stroke-width="4.2" stroke-linecap="round"/><path d="M1759.9 1181.8L1760.5 1190" stroke="#0d74b4" stroke-width="4.2" stroke-linecap="round"/><path d="M1760.5 1190L1761.1 1198.3" stroke="#808080" stroke-width="4.2" stroke-linecap="round"/><path d="M1761.1 1198.3L1747.7 1211.1" stroke="#808080" stroke-width="4.2" stroke-linecap="round"/><path d="M1747.7 1211.1L1731.5 1208.2" stroke="#808080" stroke-width="4.2" stroke-linecap="round"/><path d="M1731.5 1208.2L1729.2 1192.6" stroke="#808080" stroke-width="4.2" stroke-linecap="round"/><path d="M1729.2 1192.6L1744 1178.4" stroke="#808080" stroke-width="4.2" stroke-linecap="round"/><circle cx="1744" cy="1178.4" r="6" fill="url(#gD)"/><circle cx="1759.9" cy="1181.8" r="6" fill="url(#gNb)"/><circle cx="1761.1" cy="1198.3" r="6" fill="url(#gD)"/><circle cx="1747.7" cy="1211.1" r="6" fill="url(#gD)"/><circle cx="1731.5" cy="1208.2" r="6" fill="url(#gD)"/><circle cx="1729.2" cy="1192.6" r="6" fill="url(#gD)"/></g></g><path d="M1744 1178.4L1752 1180.1" stroke="#808080" stroke-width="4.2" stroke-linecap="round"/><path d="M1752 1180.1L1759.9 1181.8" stroke="#0d74b4" stroke-width="4.2" stroke-linecap="round"/><path d="M1759.9 1181.8L1760.5 1190" stroke="#0d74b4" stroke-width="4.2" stroke-linecap="round"/><path d="M1760.5 1190L1761.1 1198.3" stroke="#808080" stroke-width="4.2" stroke-linecap="round"/><path d="M1761.1 1198.3L1747.7 1211.1" stroke="#808080" stroke-width="4.2" stroke-linecap="round"/><path d="M1747.7 1211.1L1731.5 1208.2" stroke="#808080" stroke-width="4.2" stroke-linecap="round"/><path d="M1731.5 1208.2L1729.2 1192.6" stroke="#808080" stroke-width="4.2" stroke-linecap="round"/><path d="M1729.2 1192.6L1744 1178.4" stroke="#808080" stroke-width="4.2" stroke-linecap="round"/><circle cx="1744" cy="1178.4" r="6" fill="url(#gD)"/><circle cx="1759.9" cy="1181.8" r="6" fill="url(#gNb)"/><circle cx="1761.1" cy="1198.3" r="6" fill="url(#gD)"/><circle cx="1747.7" cy="1211.1" r="6" fill="url(#gD)"/><circle cx="1731.5" cy="1208.2" r="6" fill="url(#gD)"/><circle cx="1729.2" cy="1192.6" r="6" fill="url(#gD)"/><defs><linearGradient id="rg12" x1="0" y1="0" x2="0" y2="1"><stop offset="0" stop-color="#fff" stop-opacity="0.45"/><stop offset="1" stop-color="#fff" stop-opacity="0"/></linearGradient><mask id="rm12" maskUnits="userSpaceOnUse" x="1771.8" y="1245.1" width="58.3" height="22"><rect x="1771.8" y="1245.1" width="58.3" height="22" fill="url(#rg12)"/></mask></defs><g mask="url(#rm12)"><g transform="translate(0 2484.4) scale(1 -1)"><path d="M1808.8 1159.9L1801.4 1163.5" stroke="#0d74b4" stroke-width="4.2" stroke-linecap="round"/><path d="M1801.4 1163.5L1794 1167" stroke="#808080" stroke-width="4.2" stroke-linecap="round"/><path d="M1794 1167L1791.7 1186.1" stroke="#808080" stroke-width="4.2" stroke-linecap="round"/><path d="M1791.7 1186.1L1801.7 1199.7" stroke="#808080" stroke-width="4.2" stroke-linecap="round"/><path d="M1801.7 1199.7L1816.7 1192.6" stroke="#808080" stroke-width="4.2" stroke-linecap="round"/><path d="M1816.7 1192.6L1820.1 1172.2" stroke="#808080" stroke-width="4.2" stroke-linecap="round"/><path d="M1820.1 1172.2L1814.5 1166" stroke="#808080" stroke-width="4.2" stroke-linecap="round"/><path d="M1814.5 1166L1808.8 1159.9" stroke="#0d74b4" stroke-width="4.2" stroke-linecap="round"/><path d="M1801.7 1199.7L1800.3 1211.1" stroke="#808080" stroke-width="4.2" stroke-linecap="round"/><path d="M1800.3 1211.1L1798.8 1222.4" stroke="#e81818" stroke-width="4.2" stroke-linecap="round"/><path d="M1798.8 1222.4L1781.8 1231.8" stroke="#e81818" stroke-width="4.2" stroke-linecap="round"/><circle cx="1808.8" cy="1159.9" r="6" fill="url(#gNb)"/><circle cx="1794" cy="1167" r="6" fill="url(#gD)"/><circle cx="1791.7" cy="1186.1" r="6" fill="url(#gD)"/><circle cx="1801.7" cy="1199.7" r="6" fill="url(#gD)"/><circle cx="1816.7" cy="1192.6" r="6" fill="url(#gD)"/><circle cx="1820.1" cy="1172.2" r="6" fill="url(#gD)"/><circle cx="1798.8" cy="1222.4" r="6" fill="url(#gO)"/><circle cx="1781.8" cy="1231.8" r="6" fill="url(#gO)"/></g></g><path d="M1808.8 1159.9L1801.4 1163.5" stroke="#0d74b4" stroke-width="4.2" stroke-linecap="round"/><path d="M1801.4 1163.5L1794 1167" stroke="#808080" stroke-width="4.2" stroke-linecap="round"/><path d="M1794 1167L1791.7 1186.1" stroke="#808080" stroke-width="4.2" stroke-linecap="round"/><path d="M1791.7 1186.1L1801.7 1199.7" stroke="#808080" stroke-width="4.2" stroke-linecap="round"/><path d="M1801.7 1199.7L1816.7 1192.6" stroke="#808080" stroke-width="4.2" stroke-linecap="round"/><path d="M1816.7 1192.6L1820.1 1172.2" stroke="#808080" stroke-width="4.2" stroke-linecap="round"/><path d="M1820.1 1172.2L1814.5 1166" stroke="#808080" stroke-width="4.2" stroke-linecap="round"/><path d="M1814.5 1166L1808.8 1159.9" stroke="#0d74b4" stroke-width="4.2" stroke-linecap="round"/><path d="M1801.7 1199.7L1800.3 1211.1" stroke="#808080" stroke-width="4.2" stroke-linecap="round"/><path d="M1800.3 1211.1L1798.8 1222.4" stroke="#e81818" stroke-width="4.2" stroke-linecap="round"/><path d="M1798.8 1222.4L1781.8 1231.8" stroke="#e81818" stroke-width="4.2" stroke-linecap="round"/><circle cx="1808.8" cy="1159.9" r="6" fill="url(#gNb)"/><circle cx="1794" cy="1167" r="6" fill="url(#gD)"/><circle cx="1791.7" cy="1186.1" r="6" fill="url(#gD)"/><circle cx="1801.7" cy="1199.7" r="6" fill="url(#gD)"/><circle cx="1816.7" cy="1192.6" r="6" fill="url(#gD)"/><circle cx="1820.1" cy="1172.2" r="6" fill="url(#gD)"/><circle cx="1798.8" cy="1222.4" r="6" fill="url(#gO)"/><circle cx="1781.8" cy="1231.8" r="6" fill="url(#gO)"/><defs><linearGradient id="rg13" x1="0" y1="0" x2="0" y2="1"><stop offset="0" stop-color="#fff" stop-opacity="0.45"/><stop offset="1" stop-color="#fff" stop-opacity="0"/></linearGradient><mask id="rm13" maskUnits="userSpaceOnUse" x="1858.4" y="1265.4" width="56.9" height="22"><rect x="1858.4" y="1265.4" width="56.9" height="22" fill="url(#rg13)"/></mask></defs><g mask="url(#rm13)"><g transform="translate(0 2525.2) scale(1 -1)"><path d="M1892 1221L1898.7 1226.7" stroke="#808080" stroke-width="4.2" stroke-linecap="round"/><path d="M1898.7 1226.7L1905.3 1232.4" stroke="#0d74b4" stroke-width="4.2" stroke-linecap="round"/><path d="M1905.3 1232.4L1902.5 1239.9" stroke="#0d74b4" stroke-width="4.2" stroke-linecap="round"/><path d="M1902.5 1239.9L1899.7 1247.4" stroke="#808080" stroke-width="4.2" stroke-linecap="round"/><path d="M1899.7 1247.4L1882.6 1252.3" stroke="#808080" stroke-width="4.2" stroke-linecap="round"/><path d="M1882.6 1252.3L1868.4 1242.3" stroke="#808080" stroke-width="4.2" stroke-linecap="round"/><path d="M1868.4 1242.3L1874.1 1226.7" stroke="#808080" stroke-width="4.2" stroke-linecap="round"/><path d="M1874.1 1226.7L1892 1221" stroke="#808080" stroke-width="4.2" stroke-linecap="round"/><circle cx="1892" cy="1221" r="6" fill="url(#gD)"/><circle cx="1905.3" cy="1232.4" r="6" fill="url(#gNb)"/><circle cx="1899.7" cy="1247.4" r="6" fill="url(#gD)"/><circle cx="1882.6" cy="1252.3" r="6" fill="url(#gD)"/><circle cx="1868.4" cy="1242.3" r="6" fill="url(#gD)"/><circle cx="1874.1" cy="1226.7" r="6" fill="url(#gD)"/></g></g><path d="M1892 1221L1898.7 1226.7" stroke="#808080" stroke-width="4.2" stroke-linecap="round"/><path d="M1898.7 1226.7L1905.3 1232.4" stroke="#0d74b4" stroke-width="4.2" stroke-linecap="round"/><path d="M1905.3 1232.4L1902.5 1239.9" stroke="#0d74b4" stroke-width="4.2" stroke-linecap="round"/><path d="M1902.5 1239.9L1899.7 1247.4" stroke="#808080" stroke-width="4.2" stroke-linecap="round"/><path d="M1899.7 1247.4L1882.6 1252.3" stroke="#808080" stroke-width="4.2" stroke-linecap="round"/><path d="M1882.6 1252.3L1868.4 1242.3" stroke="#808080" stroke-width="4.2" stroke-linecap="round"/><path d="M1868.4 1242.3L1874.1 1226.7" stroke="#808080" stroke-width="4.2" stroke-linecap="round"/><path d="M1874.1 1226.7L1892 1221" stroke="#808080" stroke-width="4.2" stroke-linecap="round"/><circle cx="1892" cy="1221" r="6" fill="url(#gD)"/><circle cx="1905.3" cy="1232.4" r="6" fill="url(#gNb)"/><circle cx="1899.7" cy="1247.4" r="6" fill="url(#gD)"/><circle cx="1882.6" cy="1252.3" r="6" fill="url(#gD)"/><circle cx="1868.4" cy="1242.3" r="6" fill="url(#gD)"/><circle cx="1874.1" cy="1226.7" r="6" fill="url(#gD)"/><defs><linearGradient id="rg14" x1="0" y1="0" x2="0" y2="1"><stop offset="0" stop-color="#fff" stop-opacity="0.45"/><stop offset="1" stop-color="#fff" stop-opacity="0"/></linearGradient><mask id="rm14" maskUnits="userSpaceOnUse" x="1720.7" y="1309.8" width="131.3" height="22"><rect x="1720.7" y="1309.8" width="131.3" height="22" fill="url(#rg14)"/></mask></defs><g mask="url(#rm14)"><g transform="translate(0 2617.8) scale(1 -1)"><path d="M1734.4 1255.7L1742.9 1253.5" stroke="#0d74b4" stroke-width="4.2" stroke-linecap="round"/><path d="M1742.9 1253.5L1751.4 1251.4" stroke="#808080" stroke-width="4.2" stroke-linecap="round"/><path d="M1751.4 1251.4L1764.7 1266.5" stroke="#808080" stroke-width="4.2" stroke-linecap="round"/><path d="M1764.7 1266.5L1761.1 1283.5" stroke="#808080" stroke-width="4.2" stroke-linecap="round"/><path d="M1761.1 1283.5L1744 1286.9" stroke="#808080" stroke-width="4.2" stroke-linecap="round"/><path d="M1744 1286.9L1730.7 1272.1" stroke="#808080" stroke-width="4.2" stroke-linecap="round"/><path d="M1730.7 1272.1L1732.5 1263.9" stroke="#808080" stroke-width="4.2" stroke-linecap="round"/><path d="M1732.5 1263.9L1734.4 1255.7" stroke="#0d74b4" stroke-width="4.2" stroke-linecap="round"/><path d="M1761.1 1283.5L1769 1292" stroke="#808080" stroke-width="4.2" stroke-linecap="round"/><path d="M1769 1292L1777 1300.5" stroke="#e81818" stroke-width="4.2" stroke-linecap="round"/><path d="M1777 1300.5L1797.4 1300.5" stroke="#e81818" stroke-width="4.2" stroke-linecap="round"/><path d="M1797.4 1300.5L1802.4 1292" stroke="#e81818" stroke-width="4.2" stroke-linecap="round"/><path d="M1802.4 1292L1807.4 1283.5" stroke="#808080" stroke-width="4.2" stroke-linecap="round"/><path d="M1807.4 1283.5L1808.8 1265" stroke="#808080" stroke-width="4.2" stroke-linecap="round"/><path d="M1808.8 1265L1821.6 1251.4" stroke="#808080" stroke-width="4.2" stroke-linecap="round"/><path d="M1821.6 1251.4L1830.1 1253" stroke="#808080" stroke-width="4.2" stroke-linecap="round"/><path d="M1830.1 1253L1838.6 1254.5" stroke="#0d74b4" stroke-width="4.2" stroke-linecap="round"/><path d="M1838.6 1254.5L1840.3 1263.6" stroke="#0d74b4" stroke-width="4.2" stroke-linecap="round"/><path d="M1840.3 1263.6L1842 1272.7" stroke="#808080" stroke-width="4.2" stroke-linecap="round"/><path d="M1842 1272.7L1828.7 1287.8" stroke="#808080" stroke-width="4.2" stroke-linecap="round"/><path d="M1828.7 1287.8L1807.4 1283.5" stroke="#808080" stroke-width="4.2" stroke-linecap="round"/><circle cx="1734.4" cy="1255.7" r="6" fill="url(#gNb)"/><circle cx="1751.4" cy="1251.4" r="6" fill="url(#gD)"/><circle cx="1764.7" cy="1266.5" r="6" fill="url(#gD)"/><circle cx="1761.1" cy="1283.5" r="6" fill="url(#gD)"/><circle cx="1744" cy="1286.9" r="6" fill="url(#gD)"/><circle cx="1730.7" cy="1272.1" r="6" fill="url(#gD)"/><circle cx="1777" cy="1300.5" r="6" fill="url(#gO)"/><circle cx="1797.4" cy="1300.5" r="6" fill="url(#gO)"/><circle cx="1807.4" cy="1283.5" r="6" fill="url(#gD)"/><circle cx="1808.8" cy="1265" r="6" fill="url(#gD)"/><circle cx="1821.6" cy="1251.4" r="6" fill="url(#gD)"/><circle cx="1838.6" cy="1254.5" r="6" fill="url(#gNb)"/><circle cx="1842" cy="1272.7" r="6" fill="url(#gD)"/><circle cx="1828.7" cy="1287.8" r="6" fill="url(#gD)"/></g></g><path d="M1734.4 1255.7L1742.9 1253.5" stroke="#0d74b4" stroke-width="4.2" stroke-linecap="round"/><path d="M1742.9 1253.5L1751.4 1251.4" stroke="#808080" stroke-width="4.2" stroke-linecap="round"/><path d="M1751.4 1251.4L1764.7 1266.5" stroke="#808080" stroke-width="4.2" stroke-linecap="round"/><path d="M1764.7 1266.5L1761.1 1283.5" stroke="#808080" stroke-width="4.2" stroke-linecap="round"/><path d="M1761.1 1283.5L1744 1286.9" stroke="#808080" stroke-width="4.2" stroke-linecap="round"/><path d="M1744 1286.9L1730.7 1272.1" stroke="#808080" stroke-width="4.2" stroke-linecap="round"/><path d="M1730.7 1272.1L1732.5 1263.9" stroke="#808080" stroke-width="4.2" stroke-linecap="round"/><path d="M1732.5 1263.9L1734.4 1255.7" stroke="#0d74b4" stroke-width="4.2" stroke-linecap="round"/><path d="M1761.1 1283.5L1769 1292" stroke="#808080" stroke-width="4.2" stroke-linecap="round"/><path d="M1769 1292L1777 1300.5" stroke="#e81818" stroke-width="4.2" stroke-linecap="round"/><path d="M1777 1300.5L1797.4 1300.5" stroke="#e81818" stroke-width="4.2" stroke-linecap="round"/><path d="M1797.4 1300.5L1802.4 1292" stroke="#e81818" stroke-width="4.2" stroke-linecap="round"/><path d="M1802.4 1292L1807.4 1283.5" stroke="#808080" stroke-width="4.2" stroke-linecap="round"/><path d="M1807.4 1283.5L1808.8 1265" stroke="#808080" stroke-width="4.2" stroke-linecap="round"/><path d="M1808.8 1265L1821.6 1251.4" stroke="#808080" stroke-width="4.2" stroke-linecap="round"/><path d="M1821.6 1251.4L1830.1 1253" stroke="#808080" stroke-width="4.2" stroke-linecap="round"/><path d="M1830.1 1253L1838.6 1254.5" stroke="#0d74b4" stroke-width="4.2" stroke-linecap="round"/><path d="M1838.6 1254.5L1840.3 1263.6" stroke="#0d74b4" stroke-width="4.2" stroke-linecap="round"/><path d="M1840.3 1263.6L1842 1272.7" stroke="#808080" stroke-width="4.2" stroke-linecap="round"/><path d="M1842 1272.7L1828.7 1287.8" stroke="#808080" stroke-width="4.2" stroke-linecap="round"/><path d="M1828.7 1287.8L1807.4 1283.5" stroke="#808080" stroke-width="4.2" stroke-linecap="round"/><circle cx="1734.4" cy="1255.7" r="6" fill="url(#gNb)"/><circle cx="1751.4" cy="1251.4" r="6" fill="url(#gD)"/><circle cx="1764.7" cy="1266.5" r="6" fill="url(#gD)"/><circle cx="1761.1" cy="1283.5" r="6" fill="url(#gD)"/><circle cx="1744" cy="1286.9" r="6" fill="url(#gD)"/><circle cx="1730.7" cy="1272.1" r="6" fill="url(#gD)"/><circle cx="1777" cy="1300.5" r="6" fill="url(#gO)"/><circle cx="1797.4" cy="1300.5" r="6" fill="url(#gO)"/><circle cx="1807.4" cy="1283.5" r="6" fill="url(#gD)"/><circle cx="1808.8" cy="1265" r="6" fill="url(#gD)"/><circle cx="1821.6" cy="1251.4" r="6" fill="url(#gD)"/><circle cx="1838.6" cy="1254.5" r="6" fill="url(#gNb)"/><circle cx="1842" cy="1272.7" r="6" fill="url(#gD)"/><circle cx="1828.7" cy="1287.8" r="6" fill="url(#gD)"/><defs><linearGradient id="rg15" x1="0" y1="0" x2="0" y2="1"><stop offset="0" stop-color="#fff" stop-opacity="0.4"/><stop offset="1" stop-color="#fff" stop-opacity="0"/></linearGradient><mask id="rm15" maskUnits="userSpaceOnUse" x="1834.8" y="1190" width="20" height="12"><rect x="1834.8" y="1190" width="20" height="12" fill="url(#rg15)"/></mask></defs><g mask="url(#rm15)"><g transform="translate(0 2384.8) scale(1 -1)"><circle cx="1844.8" cy="1187.5" r="5.8" fill="url(#gO)"/></g></g><circle cx="1844.8" cy="1187.5" r="5.8" fill="url(#gO)"/><defs><linearGradient id="rg16" x1="0" y1="0" x2="0" y2="1"><stop offset="0" stop-color="#fff" stop-opacity="0.4"/><stop offset="1" stop-color="#fff" stop-opacity="0"/></linearGradient><mask id="rm16" maskUnits="userSpaceOnUse" x="1867.8" y="1285.1" width="20" height="12"><rect x="1867.8" y="1285.1" width="20" height="12" fill="url(#rg16)"/></mask></defs><g mask="url(#rm16)"><g transform="translate(0 2575) scale(1 -1)"><circle cx="1877.8" cy="1282.6" r="5.8" fill="url(#gO)"/></g></g><circle cx="1877.8" cy="1282.6" r="5.8" fill="url(#gO)"/><g><path d="M1588.6 1234.6 H1654 V1227.1 L1689 1238.9 L1654 1250.7 V1243.2 H1588.6 Z" fill="#3a2c00" fill-opacity="0.55" filter="url(#blur4)" transform="translate(0 23.5)"/><path d="M1588.6 1234.6 H1654 V1227.1 L1689 1238.9 L1654 1250.7 V1243.2 H1588.6 Z" fill="url(#arrG)"/><path d="M1654 1227.1 L1689 1238.9 L1661 1237.4 Z" fill="#6e8ad8"/></g><g font-family="'Liberation Sans',Arial,sans-serif" font-size="50.2" filter="url(#shT)"><text x="410.7" y="1107.6">Coordination</text><text x="964.7" y="1107.4">Catalysis</text><text x="1438.3" y="1107.4">Polymerization</text><text x="305.7" y="1387.8">Electrochemistry</text><text x="894.6" y="1388.4">Functionalization</text><text x="1530" y="1388.4">Decomposition</text></g>
</svg></body></html>
